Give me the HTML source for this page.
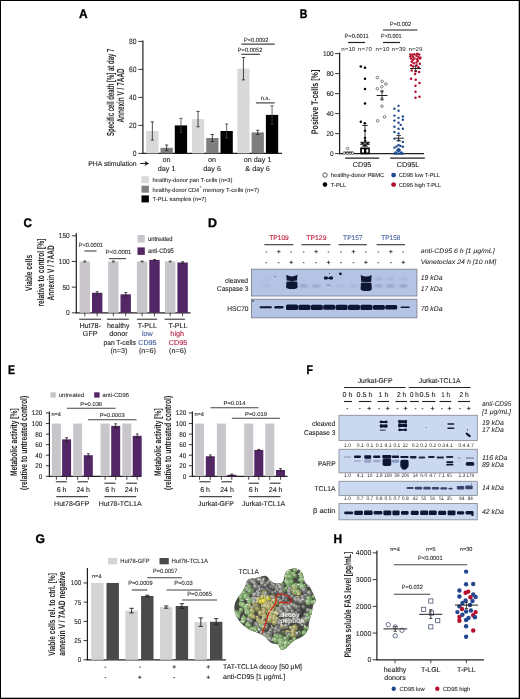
<!DOCTYPE html>
<html><head><meta charset="utf-8"><style>
html,body{margin:0;padding:0;background:#fff;}
svg{display:block;will-change:transform;}
text{font-family:"Liberation Sans",sans-serif;text-rendering:geometricPrecision;}
</style></head><body>
<svg width="520" height="699" viewBox="0 0 520 699">
<defs><filter id="b1" x="-50%" y="-50%" width="200%" height="200%"><feGaussianBlur stdDeviation="0.1"/></filter><filter id="b2" x="-50%" y="-50%" width="200%" height="200%"><feGaussianBlur stdDeviation="0.2"/></filter><filter id="b3" x="-50%" y="-50%" width="200%" height="200%"><feGaussianBlur stdDeviation="0.3"/></filter><filter id="b4" x="-50%" y="-50%" width="200%" height="200%"><feGaussianBlur stdDeviation="0.4"/></filter><filter id="b5" x="-50%" y="-50%" width="200%" height="200%"><feGaussianBlur stdDeviation="0.5"/></filter><filter id="b6" x="-50%" y="-50%" width="200%" height="200%"><feGaussianBlur stdDeviation="0.6"/></filter><filter id="b7" x="-50%" y="-50%" width="200%" height="200%"><feGaussianBlur stdDeviation="0.7"/></filter><filter id="b8" x="-50%" y="-50%" width="200%" height="200%"><feGaussianBlur stdDeviation="0.8"/></filter><filter id="b9" x="-50%" y="-50%" width="200%" height="200%"><feGaussianBlur stdDeviation="0.9"/></filter><filter id="b10" x="-50%" y="-50%" width="200%" height="200%"><feGaussianBlur stdDeviation="1.0"/></filter><filter id="b11" x="-50%" y="-50%" width="200%" height="200%"><feGaussianBlur stdDeviation="1.1"/></filter><filter id="b12" x="-50%" y="-50%" width="200%" height="200%"><feGaussianBlur stdDeviation="1.2"/></filter><filter id="b13" x="-50%" y="-50%" width="200%" height="200%"><feGaussianBlur stdDeviation="1.3"/></filter><filter id="b14" x="-50%" y="-50%" width="200%" height="200%"><feGaussianBlur stdDeviation="1.4"/></filter><filter id="b15" x="-50%" y="-50%" width="200%" height="200%"><feGaussianBlur stdDeviation="1.5"/></filter><filter id="b16" x="-50%" y="-50%" width="200%" height="200%"><feGaussianBlur stdDeviation="1.6"/></filter><filter id="b17" x="-50%" y="-50%" width="200%" height="200%"><feGaussianBlur stdDeviation="1.7"/></filter><filter id="b18" x="-50%" y="-50%" width="200%" height="200%"><feGaussianBlur stdDeviation="1.8"/></filter><filter id="b19" x="-50%" y="-50%" width="200%" height="200%"><feGaussianBlur stdDeviation="1.9"/></filter><filter id="b20" x="-50%" y="-50%" width="200%" height="200%"><feGaussianBlur stdDeviation="2.0"/></filter></defs>
<rect width="520" height="699" fill="#fff"/>
<rect x="0.00" y="0.00" width="520.00" height="1.00" fill="#000"/>
<rect x="0.00" y="0.00" width="1.00" height="699.00" fill="#000"/>
<rect x="518.70" y="0.00" width="1.30" height="699.00" fill="#000"/>
<rect x="0.00" y="697.70" width="520.00" height="1.30" fill="#000"/>
<text x="79.00" y="17.70" font-size="12.4" fill="#000" stroke="#000" stroke-width="0.35" font-weight="bold" textLength="8.60" lengthAdjust="spacingAndGlyphs">A</text>
<line x1="142.90" y1="40.50" x2="142.90" y2="153.90" stroke="#231f20" stroke-width="1.2"/>
<line x1="142.30" y1="153.40" x2="282.00" y2="153.40" stroke="#231f20" stroke-width="1.3"/>
<line x1="138.40" y1="153.40" x2="142.90" y2="153.40" stroke="#231f20" stroke-width="0.9"/>
<text x="132.65" y="156.15" font-size="7.7" fill="#231f20" stroke="#231f20" stroke-width="0.1" textLength="3.75" lengthAdjust="spacingAndGlyphs">0</text>
<line x1="138.40" y1="125.40" x2="142.90" y2="125.40" stroke="#231f20" stroke-width="0.9"/>
<text x="128.90" y="128.15" font-size="7.7" fill="#231f20" stroke="#231f20" stroke-width="0.1" textLength="7.50" lengthAdjust="spacingAndGlyphs">20</text>
<line x1="138.40" y1="97.40" x2="142.90" y2="97.40" stroke="#231f20" stroke-width="0.9"/>
<text x="128.90" y="100.15" font-size="7.7" fill="#231f20" stroke="#231f20" stroke-width="0.1" textLength="7.50" lengthAdjust="spacingAndGlyphs">40</text>
<line x1="138.40" y1="69.40" x2="142.90" y2="69.40" stroke="#231f20" stroke-width="0.9"/>
<text x="128.90" y="72.15" font-size="7.7" fill="#231f20" stroke="#231f20" stroke-width="0.1" textLength="7.50" lengthAdjust="spacingAndGlyphs">60</text>
<line x1="138.40" y1="41.40" x2="142.90" y2="41.40" stroke="#231f20" stroke-width="0.9"/>
<text x="128.90" y="44.15" font-size="7.7" fill="#231f20" stroke="#231f20" stroke-width="0.1" textLength="7.50" lengthAdjust="spacingAndGlyphs">80</text>
<text transform="translate(114.10,136.00) rotate(-90)" x="0" y="0" font-size="10.2" fill="#231f20" stroke="#231f20" stroke-width="0.0" font-weight="bold" textLength="87.30" lengthAdjust="spacingAndGlyphs">Specific cell death [%] at day 7</text>
<text transform="translate(123.90,122.60) rotate(-90)" x="0" y="0" font-size="10.2" fill="#231f20" stroke="#231f20" stroke-width="0.0" font-weight="bold" textLength="54.30" lengthAdjust="spacingAndGlyphs">Annexin V / 7AAD</text>
<rect x="146.20" y="131.00" width="12.30" height="22.40" fill="#d9d9d9"/>
<line x1="152.35" y1="121.90" x2="152.35" y2="140.10" stroke="#231f20" stroke-width="0.8"/>
<line x1="150.75" y1="121.90" x2="153.95" y2="121.90" stroke="#231f20" stroke-width="0.8"/>
<line x1="150.75" y1="140.10" x2="153.95" y2="140.10" stroke="#231f20" stroke-width="0.8"/>
<rect x="160.50" y="147.80" width="12.30" height="5.60" fill="#7f7f7f"/>
<line x1="166.65" y1="145.00" x2="166.65" y2="150.60" stroke="#231f20" stroke-width="0.8"/>
<line x1="165.05" y1="145.00" x2="168.25" y2="145.00" stroke="#231f20" stroke-width="0.8"/>
<line x1="165.05" y1="150.60" x2="168.25" y2="150.60" stroke="#231f20" stroke-width="0.8"/>
<rect x="174.80" y="125.40" width="12.30" height="28.00" fill="#000000"/>
<line x1="180.95" y1="118.40" x2="180.95" y2="132.40" stroke="#444" stroke-width="0.8"/>
<line x1="179.35" y1="118.40" x2="182.55" y2="118.40" stroke="#444" stroke-width="0.8"/>
<line x1="179.35" y1="132.40" x2="182.55" y2="132.40" stroke="#444" stroke-width="0.8"/>
<rect x="191.90" y="119.10" width="12.30" height="34.30" fill="#d9d9d9"/>
<line x1="198.05" y1="111.40" x2="198.05" y2="126.80" stroke="#231f20" stroke-width="0.8"/>
<line x1="196.45" y1="111.40" x2="199.65" y2="111.40" stroke="#231f20" stroke-width="0.8"/>
<line x1="196.45" y1="126.80" x2="199.65" y2="126.80" stroke="#231f20" stroke-width="0.8"/>
<rect x="206.20" y="138.00" width="12.30" height="15.40" fill="#7f7f7f"/>
<line x1="212.35" y1="134.50" x2="212.35" y2="141.50" stroke="#231f20" stroke-width="0.8"/>
<line x1="210.75" y1="134.50" x2="213.95" y2="134.50" stroke="#231f20" stroke-width="0.8"/>
<line x1="210.75" y1="141.50" x2="213.95" y2="141.50" stroke="#231f20" stroke-width="0.8"/>
<rect x="220.50" y="131.00" width="12.30" height="22.40" fill="#000000"/>
<line x1="226.65" y1="124.00" x2="226.65" y2="138.00" stroke="#444" stroke-width="0.8"/>
<line x1="225.05" y1="124.00" x2="228.25" y2="124.00" stroke="#444" stroke-width="0.8"/>
<line x1="225.05" y1="138.00" x2="228.25" y2="138.00" stroke="#444" stroke-width="0.8"/>
<rect x="237.30" y="68.70" width="12.30" height="84.70" fill="#d9d9d9"/>
<line x1="243.45" y1="57.50" x2="243.45" y2="79.90" stroke="#231f20" stroke-width="0.8"/>
<line x1="241.85" y1="57.50" x2="245.05" y2="57.50" stroke="#231f20" stroke-width="0.8"/>
<line x1="241.85" y1="79.90" x2="245.05" y2="79.90" stroke="#231f20" stroke-width="0.8"/>
<rect x="251.60" y="132.40" width="12.30" height="21.00" fill="#7f7f7f"/>
<line x1="257.75" y1="130.30" x2="257.75" y2="134.50" stroke="#231f20" stroke-width="0.8"/>
<line x1="256.15" y1="130.30" x2="259.35" y2="130.30" stroke="#231f20" stroke-width="0.8"/>
<line x1="256.15" y1="134.50" x2="259.35" y2="134.50" stroke="#231f20" stroke-width="0.8"/>
<rect x="265.90" y="114.90" width="12.30" height="38.50" fill="#000000"/>
<line x1="272.05" y1="105.80" x2="272.05" y2="124.00" stroke="#444" stroke-width="0.8"/>
<line x1="270.45" y1="105.80" x2="273.65" y2="105.80" stroke="#444" stroke-width="0.8"/>
<line x1="270.45" y1="124.00" x2="273.65" y2="124.00" stroke="#444" stroke-width="0.8"/>
<line x1="241.40" y1="44.20" x2="274.70" y2="44.20" stroke="#444" stroke-width="1.2"/>
<text x="243.90" y="41.80" font-size="6" fill="#231f20" stroke="#231f20" stroke-width="0.08" textLength="24.50" lengthAdjust="spacingAndGlyphs">P=0.0092</text>
<line x1="241.40" y1="54.30" x2="259.90" y2="54.30" stroke="#444" stroke-width="1.2"/>
<text x="237.80" y="51.60" font-size="6" fill="#231f20" stroke="#231f20" stroke-width="0.08" textLength="24.50" lengthAdjust="spacingAndGlyphs">P=0.0052</text>
<line x1="255.90" y1="102.90" x2="274.60" y2="102.90" stroke="#444" stroke-width="1.2"/>
<text x="260.80" y="100.00" font-size="6" fill="#231f20" stroke="#231f20" stroke-width="0.08" textLength="9.20" lengthAdjust="spacingAndGlyphs">n.s.</text>
<text x="88.30" y="165.80" font-size="7" fill="#231f20" stroke="#231f20" stroke-width="0.12" textLength="48.40" lengthAdjust="spacingAndGlyphs">PHA stimulation</text>
<line x1="140.20" y1="163.50" x2="146.50" y2="163.50" stroke="#231f20" stroke-width="1.0"/>
<path d="M149.2 163.5 L144.5 160.9 L145.6 163.5 L144.5 166.1 Z" fill="#231f20"/>
<text x="162.60" y="161.60" font-size="7.2" fill="#231f20" stroke="#231f20" stroke-width="0.12" textLength="8.01" lengthAdjust="spacingAndGlyphs">on</text>
<text x="157.79" y="170.80" font-size="7.2" fill="#231f20" stroke="#231f20" stroke-width="0.12" textLength="17.61" lengthAdjust="spacingAndGlyphs">day 1</text>
<text x="208.10" y="161.60" font-size="7.2" fill="#231f20" stroke="#231f20" stroke-width="0.12" textLength="8.01" lengthAdjust="spacingAndGlyphs">on</text>
<text x="203.29" y="170.80" font-size="7.2" fill="#231f20" stroke="#231f20" stroke-width="0.12" textLength="17.61" lengthAdjust="spacingAndGlyphs">day 6</text>
<text x="243.79" y="161.60" font-size="7.2" fill="#231f20" stroke="#231f20" stroke-width="0.12" textLength="27.62" lengthAdjust="spacingAndGlyphs">on day 1</text>
<text x="245.39" y="170.80" font-size="7.2" fill="#231f20" stroke="#231f20" stroke-width="0.12" textLength="24.41" lengthAdjust="spacingAndGlyphs">&amp; day 6</text>
<rect x="141.50" y="176.20" width="7.40" height="7.00" fill="#d9d9d9"/>
<rect x="141.50" y="185.70" width="7.40" height="7.00" fill="#7f7f7f"/>
<rect x="141.50" y="195.40" width="7.40" height="7.00" fill="#000"/>
<text x="152.60" y="182.20" font-size="5.8" fill="#231f20" stroke="#231f20" stroke-width="0.08" textLength="79.80" lengthAdjust="spacingAndGlyphs">healthy-donor pan T-cells (n=3)</text>
<text x="152.60" y="191.60" font-size="5.8" fill="#231f20" stroke="#231f20" stroke-width="0.08" textLength="46.60" lengthAdjust="spacingAndGlyphs">healthy-donor CD4</text>
<text x="199.60" y="188.00" font-size="3.5" fill="#231f20" stroke="#231f20" stroke-width="0.08">+</text>
<text x="203.00" y="191.60" font-size="5.8" fill="#231f20" stroke="#231f20" stroke-width="0.08" textLength="56.00" lengthAdjust="spacingAndGlyphs">memory T-cells (n=7)</text>
<text x="152.60" y="201.00" font-size="5.8" fill="#231f20" stroke="#231f20" stroke-width="0.08" textLength="53.90" lengthAdjust="spacingAndGlyphs">T-PLL samples (n=7)</text>
<text x="299.80" y="17.70" font-size="12.4" fill="#000" stroke="#000" stroke-width="0.35" font-weight="bold" textLength="7.60" lengthAdjust="spacingAndGlyphs">B</text>
<line x1="339.60" y1="52.50" x2="339.60" y2="154.10" stroke="#231f20" stroke-width="1.3"/>
<line x1="339.00" y1="153.60" x2="424.00" y2="153.60" stroke="#231f20" stroke-width="1.3"/>
<line x1="335.10" y1="153.60" x2="339.60" y2="153.60" stroke="#231f20" stroke-width="0.9"/>
<text x="330.10" y="156.05" font-size="6.9" fill="#231f20" stroke="#231f20" stroke-width="0.1" textLength="3.60" lengthAdjust="spacingAndGlyphs">0</text>
<line x1="335.10" y1="133.60" x2="339.60" y2="133.60" stroke="#231f20" stroke-width="0.9"/>
<text x="326.50" y="136.05" font-size="6.9" fill="#231f20" stroke="#231f20" stroke-width="0.1" textLength="7.20" lengthAdjust="spacingAndGlyphs">20</text>
<line x1="335.10" y1="113.60" x2="339.60" y2="113.60" stroke="#231f20" stroke-width="0.9"/>
<text x="326.50" y="116.05" font-size="6.9" fill="#231f20" stroke="#231f20" stroke-width="0.1" textLength="7.20" lengthAdjust="spacingAndGlyphs">40</text>
<line x1="335.10" y1="93.60" x2="339.60" y2="93.60" stroke="#231f20" stroke-width="0.9"/>
<text x="326.50" y="96.05" font-size="6.9" fill="#231f20" stroke="#231f20" stroke-width="0.1" textLength="7.20" lengthAdjust="spacingAndGlyphs">60</text>
<line x1="335.10" y1="73.60" x2="339.60" y2="73.60" stroke="#231f20" stroke-width="0.9"/>
<text x="326.50" y="76.05" font-size="6.9" fill="#231f20" stroke="#231f20" stroke-width="0.1" textLength="7.20" lengthAdjust="spacingAndGlyphs">80</text>
<line x1="335.10" y1="53.60" x2="339.60" y2="53.60" stroke="#231f20" stroke-width="0.9"/>
<text x="322.90" y="56.05" font-size="6.9" fill="#231f20" stroke="#231f20" stroke-width="0.1" textLength="10.80" lengthAdjust="spacingAndGlyphs">100</text>
<text transform="translate(317.90,134.20) rotate(-90)" x="0" y="0" font-size="9.6" fill="#231f20" stroke="#231f20" stroke-width="0.0" font-weight="bold" textLength="64.50" lengthAdjust="spacingAndGlyphs">Positive T-cells [%]</text>
<line x1="345.20" y1="158.10" x2="379.20" y2="158.10" stroke="#231f20" stroke-width="1.1"/>
<line x1="390.20" y1="158.10" x2="424.80" y2="158.10" stroke="#231f20" stroke-width="1.1"/>
<text x="352.80" y="166.80" font-size="7.2" fill="#231f20" stroke="#231f20" stroke-width="0.12" textLength="18.41" lengthAdjust="spacingAndGlyphs">CD95</text>
<text x="396.79" y="166.80" font-size="7.2" fill="#231f20" stroke="#231f20" stroke-width="0.12" textLength="22.41" lengthAdjust="spacingAndGlyphs">CD95L</text>
<text x="341.30" y="50.50" font-size="5.6" fill="#231f20" textLength="14.00" lengthAdjust="spacingAndGlyphs">n=10</text>
<text x="358.00" y="50.50" font-size="5.6" fill="#231f20" textLength="14.00" lengthAdjust="spacingAndGlyphs">n=70</text>
<text x="375.50" y="50.50" font-size="5.6" fill="#231f20" textLength="14.00" lengthAdjust="spacingAndGlyphs">n=10</text>
<text x="391.80" y="50.50" font-size="5.6" fill="#231f20" textLength="14.00" lengthAdjust="spacingAndGlyphs">n=39</text>
<text x="408.50" y="50.50" font-size="5.6" fill="#231f20" textLength="14.00" lengthAdjust="spacingAndGlyphs">n=29</text>
<line x1="348.00" y1="42.50" x2="365.00" y2="42.50" stroke="#231f20" stroke-width="1.2"/>
<text x="344.50" y="37.50" font-size="6" fill="#231f20" stroke="#231f20" stroke-width="0.08" textLength="24.20" lengthAdjust="spacingAndGlyphs">P=0.0011</text>
<line x1="383.00" y1="42.50" x2="400.00" y2="42.50" stroke="#231f20" stroke-width="1.2"/>
<text x="381.00" y="37.50" font-size="6" fill="#231f20" stroke="#231f20" stroke-width="0.08" textLength="20.70" lengthAdjust="spacingAndGlyphs">P&lt;0.001</text>
<line x1="383.00" y1="30.00" x2="417.50" y2="30.00" stroke="#231f20" stroke-width="1.2"/>
<text x="390.00" y="25.50" font-size="6" fill="#231f20" stroke="#231f20" stroke-width="0.08" textLength="21.00" lengthAdjust="spacingAndGlyphs">P=0.002</text>
<circle cx="344.20" cy="153.00" r="1.35" fill="#fff" stroke="#333" stroke-width="0.6"/>
<circle cx="347.30" cy="153.00" r="1.35" fill="#fff" stroke="#333" stroke-width="0.6"/>
<circle cx="350.20" cy="153.00" r="1.35" fill="#fff" stroke="#333" stroke-width="0.6"/>
<circle cx="352.50" cy="153.00" r="1.35" fill="#fff" stroke="#333" stroke-width="0.6"/>
<circle cx="347.70" cy="148.50" r="1.35" fill="#fff" stroke="#333" stroke-width="0.6"/>
<line x1="344.50" y1="152.20" x2="352.50" y2="152.20" stroke="#231f20" stroke-width="0.9"/>
<circle cx="360.80" cy="66.60" r="1.25" fill="#000"/>
<circle cx="365.00" cy="67.70" r="1.25" fill="#000"/>
<circle cx="365.00" cy="78.80" r="1.25" fill="#000"/>
<circle cx="365.00" cy="88.90" r="1.25" fill="#000"/>
<circle cx="365.00" cy="103.50" r="1.25" fill="#000"/>
<circle cx="360.80" cy="121.80" r="1.25" fill="#000"/>
<circle cx="364.80" cy="123.30" r="1.25" fill="#000"/>
<circle cx="365.00" cy="130.80" r="1.25" fill="#000"/>
<circle cx="365.00" cy="138.00" r="1.25" fill="#000"/>
<circle cx="365.20" cy="140.80" r="1.25" fill="#000"/>
<circle cx="362.50" cy="143.50" r="1.25" fill="#000"/>
<circle cx="367.50" cy="143.50" r="1.25" fill="#000"/>
<path d="M 360.2 147.6 L 369.8 147.6 L 369.8 154.2 L 360.2 154.2 Z M 361.9 149.3 L 361.9 152.6 L 364.0 152.6 L 364.0 149.3 Z M 366.3 149.3 L 366.3 152.6 L 368.3 152.6 L 368.3 149.3 Z" fill="#000" fill-rule="evenodd"/>
<path d="M 361.5 146.5 L 365 144.2 L 368.5 146.5 Z" fill="#000"/>
<line x1="360.20" y1="142.30" x2="370.00" y2="142.30" stroke="#231f20" stroke-width="1.1"/>
<line x1="360.20" y1="144.30" x2="370.00" y2="144.30" stroke="#231f20" stroke-width="0.9"/>
<line x1="365.00" y1="125.40" x2="365.00" y2="147.00" stroke="#231f20" stroke-width="0.9"/>
<line x1="362.30" y1="125.40" x2="367.70" y2="125.40" stroke="#231f20" stroke-width="1.0"/>
<circle cx="377.40" cy="77.60" r="1.30" fill="#fff" stroke="#333" stroke-width="0.6"/>
<circle cx="382.10" cy="81.30" r="1.30" fill="#fff" stroke="#333" stroke-width="0.6"/>
<circle cx="385.90" cy="84.00" r="1.30" fill="#fff" stroke="#333" stroke-width="0.6"/>
<circle cx="381.80" cy="86.70" r="1.30" fill="#fff" stroke="#333" stroke-width="0.6"/>
<circle cx="377.40" cy="88.70" r="1.30" fill="#fff" stroke="#333" stroke-width="0.6"/>
<circle cx="382.00" cy="91.50" r="1.30" fill="#fff" stroke="#333" stroke-width="0.6"/>
<circle cx="382.00" cy="98.80" r="1.30" fill="#fff" stroke="#333" stroke-width="0.6"/>
<circle cx="382.00" cy="106.20" r="1.30" fill="#fff" stroke="#333" stroke-width="0.6"/>
<circle cx="384.50" cy="116.90" r="1.30" fill="#fff" stroke="#333" stroke-width="0.6"/>
<circle cx="377.70" cy="120.80" r="1.30" fill="#fff" stroke="#333" stroke-width="0.6"/>
<line x1="376.50" y1="95.50" x2="387.50" y2="95.50" stroke="#231f20" stroke-width="1.0"/>
<line x1="382.00" y1="91.00" x2="382.00" y2="99.80" stroke="#231f20" stroke-width="0.8"/>
<line x1="380.50" y1="91.00" x2="383.50" y2="91.00" stroke="#231f20" stroke-width="0.8"/>
<line x1="380.50" y1="99.80" x2="383.50" y2="99.80" stroke="#231f20" stroke-width="0.8"/>
<circle cx="398.56" cy="105.84" r="1.20" fill="#1e4a90"/>
<circle cx="394.44" cy="108.76" r="1.20" fill="#1e4a90"/>
<circle cx="398.56" cy="110.73" r="1.20" fill="#1e4a90"/>
<circle cx="394.44" cy="115.62" r="1.20" fill="#1e4a90"/>
<circle cx="398.56" cy="117.85" r="1.20" fill="#1e4a90"/>
<circle cx="402.85" cy="116.48" r="1.20" fill="#1e4a90"/>
<circle cx="402.85" cy="119.74" r="1.20" fill="#1e4a90"/>
<circle cx="394.44" cy="120.60" r="1.20" fill="#1e4a90"/>
<circle cx="398.56" cy="122.75" r="1.20" fill="#1e4a90"/>
<circle cx="400.71" cy="124.89" r="1.20" fill="#1e4a90"/>
<circle cx="394.44" cy="126.78" r="1.20" fill="#1e4a90"/>
<circle cx="398.56" cy="128.76" r="1.20" fill="#1e4a90"/>
<circle cx="402.85" cy="128.76" r="1.20" fill="#1e4a90"/>
<circle cx="394.44" cy="131.93" r="1.20" fill="#1e4a90"/>
<circle cx="398.56" cy="133.48" r="1.20" fill="#1e4a90"/>
<circle cx="394.44" cy="138.63" r="1.20" fill="#1e4a90"/>
<circle cx="398.56" cy="140.34" r="1.20" fill="#1e4a90"/>
<circle cx="402.85" cy="141.89" r="1.20" fill="#1e4a90"/>
<circle cx="398.56" cy="145.06" r="1.20" fill="#1e4a90"/>
<circle cx="394.44" cy="147.64" r="1.20" fill="#1e4a90"/>
<circle cx="402.85" cy="146.78" r="1.20" fill="#1e4a90"/>
<circle cx="396.59" cy="146.35" r="1.20" fill="#1e4a90"/>
<circle cx="400.45" cy="145.92" r="1.20" fill="#1e4a90"/>
<circle cx="398.56" cy="148.93" r="1.20" fill="#1e4a90"/>
<circle cx="398.56" cy="151.50" r="1.20" fill="#1e4a90"/>
<circle cx="394.44" cy="153.65" r="1.20" fill="#1e4a90"/>
<circle cx="396.59" cy="153.65" r="1.20" fill="#1e4a90"/>
<circle cx="398.56" cy="153.65" r="1.20" fill="#1e4a90"/>
<circle cx="400.71" cy="153.65" r="1.20" fill="#1e4a90"/>
<circle cx="402.85" cy="153.65" r="1.20" fill="#1e4a90"/>
<circle cx="395.73" cy="152.36" r="1.20" fill="#1e4a90"/>
<circle cx="401.31" cy="152.36" r="1.20" fill="#1e4a90"/>
<circle cx="397.45" cy="150.21" r="1.20" fill="#1e4a90"/>
<circle cx="399.59" cy="150.21" r="1.20" fill="#1e4a90"/>
<line x1="395.30" y1="138.20" x2="403.90" y2="138.20" stroke="#231f20" stroke-width="1.0"/>
<line x1="396.50" y1="135.60" x2="401.00" y2="135.60" stroke="#231f20" stroke-width="0.9"/>
<line x1="396.50" y1="140.80" x2="401.00" y2="140.80" stroke="#231f20" stroke-width="0.9"/>
<line x1="398.70" y1="135.60" x2="398.70" y2="140.80" stroke="#231f20" stroke-width="0.8"/>
<circle cx="410.38" cy="54.42" r="1.25" fill="#b0102c"/>
<circle cx="412.40" cy="54.69" r="1.25" fill="#b0102c"/>
<circle cx="414.41" cy="54.15" r="1.25" fill="#b0102c"/>
<circle cx="417.11" cy="53.75" r="1.25" fill="#b0102c"/>
<circle cx="419.13" cy="54.42" r="1.25" fill="#b0102c"/>
<circle cx="410.38" cy="56.44" r="1.25" fill="#b0102c"/>
<circle cx="413.07" cy="56.84" r="1.25" fill="#b0102c"/>
<circle cx="416.43" cy="55.77" r="1.25" fill="#b0102c"/>
<circle cx="418.45" cy="57.11" r="1.25" fill="#b0102c"/>
<circle cx="420.47" cy="57.79" r="1.25" fill="#b0102c"/>
<circle cx="411.05" cy="58.46" r="1.25" fill="#b0102c"/>
<circle cx="414.41" cy="58.46" r="1.25" fill="#b0102c"/>
<circle cx="417.11" cy="59.13" r="1.25" fill="#b0102c"/>
<circle cx="419.80" cy="58.46" r="1.25" fill="#b0102c"/>
<circle cx="411.72" cy="61.82" r="1.25" fill="#b0102c"/>
<circle cx="413.74" cy="63.17" r="1.25" fill="#b0102c"/>
<circle cx="416.43" cy="62.50" r="1.25" fill="#b0102c"/>
<circle cx="419.80" cy="63.84" r="1.25" fill="#b0102c"/>
<circle cx="411.05" cy="65.19" r="1.25" fill="#b0102c"/>
<circle cx="413.07" cy="66.53" r="1.25" fill="#b0102c"/>
<circle cx="416.43" cy="65.19" r="1.25" fill="#b0102c"/>
<circle cx="418.45" cy="67.21" r="1.25" fill="#b0102c"/>
<circle cx="411.72" cy="70.57" r="1.25" fill="#b0102c"/>
<circle cx="415.76" cy="71.24" r="1.25" fill="#b0102c"/>
<circle cx="419.13" cy="71.92" r="1.25" fill="#b0102c"/>
<circle cx="415.09" cy="73.94" r="1.25" fill="#b0102c"/>
<circle cx="411.05" cy="78.65" r="1.25" fill="#b0102c"/>
<circle cx="415.76" cy="79.72" r="1.25" fill="#b0102c"/>
<circle cx="419.53" cy="82.95" r="1.25" fill="#b0102c"/>
<circle cx="415.49" cy="85.65" r="1.25" fill="#b0102c"/>
<circle cx="415.49" cy="91.84" r="1.25" fill="#b0102c"/>
<circle cx="415.49" cy="97.76" r="1.25" fill="#b0102c"/>
<circle cx="419.53" cy="96.82" r="1.25" fill="#b0102c"/>
<circle cx="417.78" cy="60.88" r="1.25" fill="#b0102c"/>
<circle cx="412.80" cy="60.07" r="1.25" fill="#b0102c"/>
<line x1="410.00" y1="68.50" x2="421.00" y2="68.50" stroke="#231f20" stroke-width="1.0"/>
<line x1="415.60" y1="66.20" x2="415.60" y2="71.00" stroke="#231f20" stroke-width="0.8"/>
<line x1="414.10" y1="66.20" x2="417.10" y2="66.20" stroke="#231f20" stroke-width="0.8"/>
<line x1="414.10" y1="71.00" x2="417.10" y2="71.00" stroke="#231f20" stroke-width="0.8"/>
<circle cx="325.00" cy="175.10" r="2.20" fill="#fff" stroke="#333" stroke-width="0.8"/>
<text x="330.80" y="177.20" font-size="5.8" fill="#231f20" stroke="#231f20" stroke-width="0.08" textLength="53.30" lengthAdjust="spacingAndGlyphs">healthy-donor PBMC</text>
<circle cx="325.00" cy="184.60" r="2.30" fill="#000"/>
<text x="330.80" y="186.70" font-size="5.8" fill="#231f20" stroke="#231f20" stroke-width="0.08">T-PLL</text>
<circle cx="393.60" cy="175.10" r="2.40" fill="#1e4a90"/>
<text x="398.80" y="177.20" font-size="5.8" fill="#231f20" stroke="#231f20" stroke-width="0.08" textLength="41.00" lengthAdjust="spacingAndGlyphs">CD95 low T-PLL</text>
<circle cx="393.60" cy="184.60" r="2.40" fill="#b0102c"/>
<text x="398.80" y="186.70" font-size="5.8" fill="#231f20" stroke="#231f20" stroke-width="0.08" textLength="42.40" lengthAdjust="spacingAndGlyphs">CD95 high T-PLL</text>
<text x="23.60" y="226.50" font-size="12.4" fill="#000" stroke="#000" stroke-width="0.35" font-weight="bold" textLength="8.40" lengthAdjust="spacingAndGlyphs">C</text>
<line x1="76.30" y1="233.00" x2="76.30" y2="313.30" stroke="#231f20" stroke-width="1.2"/>
<line x1="75.70" y1="312.80" x2="190.40" y2="312.80" stroke="#231f20" stroke-width="1.3"/>
<line x1="71.80" y1="312.80" x2="76.30" y2="312.80" stroke="#231f20" stroke-width="0.9"/>
<text x="66.05" y="315.30" font-size="7.2" fill="#231f20" stroke="#231f20" stroke-width="0.1" textLength="3.65" lengthAdjust="spacingAndGlyphs">0</text>
<line x1="71.80" y1="287.13" x2="76.30" y2="287.13" stroke="#231f20" stroke-width="0.9"/>
<text x="62.40" y="289.63" font-size="7.2" fill="#231f20" stroke="#231f20" stroke-width="0.1" textLength="7.30" lengthAdjust="spacingAndGlyphs">50</text>
<line x1="71.80" y1="261.47" x2="76.30" y2="261.47" stroke="#231f20" stroke-width="0.9"/>
<text x="58.75" y="263.97" font-size="7.2" fill="#231f20" stroke="#231f20" stroke-width="0.1" textLength="10.95" lengthAdjust="spacingAndGlyphs">100</text>
<line x1="71.80" y1="235.81" x2="76.30" y2="235.81" stroke="#231f20" stroke-width="0.9"/>
<text x="58.75" y="238.31" font-size="7.2" fill="#231f20" stroke="#231f20" stroke-width="0.1" textLength="10.95" lengthAdjust="spacingAndGlyphs">150</text>
<text transform="translate(31.90,290.90) rotate(-90)" x="0" y="0" font-size="9.6" fill="#231f20" stroke="#231f20" stroke-width="0.0" font-weight="bold" textLength="36.00" lengthAdjust="spacingAndGlyphs">Viable cells</text>
<text transform="translate(43.70,306.50) rotate(-90)" x="0" y="0" font-size="9.6" fill="#231f20" stroke="#231f20" stroke-width="0.0" font-weight="bold" textLength="67.90" lengthAdjust="spacingAndGlyphs">relative to control [%]</text>
<text transform="translate(53.70,300.40) rotate(-90)" x="0" y="0" font-size="9.6" fill="#231f20" stroke="#231f20" stroke-width="0.0" font-weight="bold" textLength="55.00" lengthAdjust="spacingAndGlyphs">Annexin V / 7AAD</text>
<rect x="79.60" y="261.47" width="10.40" height="51.33" fill="#c8c6ca"/>
<rect x="92.00" y="292.78" width="10.40" height="20.02" fill="#532765"/>
<line x1="84.80" y1="260.96" x2="84.80" y2="261.98" stroke="#231f20" stroke-width="0.7"/>
<line x1="83.40" y1="260.96" x2="86.20" y2="260.96" stroke="#231f20" stroke-width="0.7"/>
<line x1="83.40" y1="261.98" x2="86.20" y2="261.98" stroke="#231f20" stroke-width="0.7"/>
<line x1="97.20" y1="291.65" x2="97.20" y2="293.91" stroke="#231f20" stroke-width="0.8"/>
<line x1="95.80" y1="291.65" x2="98.60" y2="291.65" stroke="#231f20" stroke-width="0.8"/>
<line x1="95.80" y1="293.91" x2="98.60" y2="293.91" stroke="#231f20" stroke-width="0.8"/>
<line x1="84.80" y1="312.80" x2="84.80" y2="316.30" stroke="#231f20" stroke-width="0.8"/>
<line x1="97.20" y1="312.80" x2="97.20" y2="316.30" stroke="#231f20" stroke-width="0.8"/>
<rect x="108.10" y="261.47" width="10.40" height="51.33" fill="#c8c6ca"/>
<rect x="120.50" y="294.32" width="10.40" height="18.48" fill="#532765"/>
<line x1="113.30" y1="260.96" x2="113.30" y2="261.98" stroke="#231f20" stroke-width="0.7"/>
<line x1="111.90" y1="260.96" x2="114.70" y2="260.96" stroke="#231f20" stroke-width="0.7"/>
<line x1="111.90" y1="261.98" x2="114.70" y2="261.98" stroke="#231f20" stroke-width="0.7"/>
<line x1="125.70" y1="292.52" x2="125.70" y2="296.12" stroke="#231f20" stroke-width="0.8"/>
<line x1="124.30" y1="292.52" x2="127.10" y2="292.52" stroke="#231f20" stroke-width="0.8"/>
<line x1="124.30" y1="296.12" x2="127.10" y2="296.12" stroke="#231f20" stroke-width="0.8"/>
<line x1="113.30" y1="312.80" x2="113.30" y2="316.30" stroke="#231f20" stroke-width="0.8"/>
<line x1="125.70" y1="312.80" x2="125.70" y2="316.30" stroke="#231f20" stroke-width="0.8"/>
<rect x="136.90" y="261.47" width="10.40" height="51.33" fill="#c8c6ca"/>
<rect x="149.30" y="259.93" width="10.40" height="52.87" fill="#532765"/>
<line x1="142.10" y1="261.06" x2="142.10" y2="261.88" stroke="#231f20" stroke-width="0.7"/>
<line x1="140.70" y1="261.06" x2="143.50" y2="261.06" stroke="#231f20" stroke-width="0.7"/>
<line x1="140.70" y1="261.88" x2="143.50" y2="261.88" stroke="#231f20" stroke-width="0.7"/>
<line x1="154.50" y1="259.52" x2="154.50" y2="260.34" stroke="#231f20" stroke-width="0.8"/>
<line x1="153.10" y1="259.52" x2="155.90" y2="259.52" stroke="#231f20" stroke-width="0.8"/>
<line x1="153.10" y1="260.34" x2="155.90" y2="260.34" stroke="#231f20" stroke-width="0.8"/>
<line x1="142.10" y1="312.80" x2="142.10" y2="316.30" stroke="#231f20" stroke-width="0.8"/>
<line x1="154.50" y1="312.80" x2="154.50" y2="316.30" stroke="#231f20" stroke-width="0.8"/>
<rect x="165.00" y="261.47" width="10.40" height="51.33" fill="#c8c6ca"/>
<rect x="177.40" y="262.50" width="10.40" height="50.30" fill="#532765"/>
<line x1="170.20" y1="261.06" x2="170.20" y2="261.88" stroke="#231f20" stroke-width="0.7"/>
<line x1="168.80" y1="261.06" x2="171.60" y2="261.06" stroke="#231f20" stroke-width="0.7"/>
<line x1="168.80" y1="261.88" x2="171.60" y2="261.88" stroke="#231f20" stroke-width="0.7"/>
<line x1="182.60" y1="261.73" x2="182.60" y2="263.27" stroke="#231f20" stroke-width="0.8"/>
<line x1="181.20" y1="261.73" x2="184.00" y2="261.73" stroke="#231f20" stroke-width="0.8"/>
<line x1="181.20" y1="263.27" x2="184.00" y2="263.27" stroke="#231f20" stroke-width="0.8"/>
<line x1="170.20" y1="312.80" x2="170.20" y2="316.30" stroke="#231f20" stroke-width="0.8"/>
<line x1="182.60" y1="312.80" x2="182.60" y2="316.30" stroke="#231f20" stroke-width="0.8"/>
<line x1="79.20" y1="319.20" x2="101.20" y2="319.20" stroke="#231f20" stroke-width="1.0"/>
<line x1="106.90" y1="319.20" x2="128.80" y2="319.20" stroke="#231f20" stroke-width="1.0"/>
<line x1="136.90" y1="319.20" x2="157.20" y2="319.20" stroke="#231f20" stroke-width="1.0"/>
<line x1="164.60" y1="319.20" x2="184.90" y2="319.20" stroke="#231f20" stroke-width="1.0"/>
<line x1="84.40" y1="251.00" x2="96.50" y2="251.00" stroke="#555" stroke-width="1.2"/>
<text x="78.70" y="247.00" font-size="6.0" fill="#231f20" stroke="#231f20" stroke-width="0.08" textLength="24.30" lengthAdjust="spacingAndGlyphs">P&lt;0.0001</text>
<line x1="109.00" y1="258.60" x2="126.00" y2="258.60" stroke="#555" stroke-width="1.2"/>
<text x="105.80" y="253.70" font-size="6.0" fill="#231f20" stroke="#231f20" stroke-width="0.08" textLength="25.50" lengthAdjust="spacingAndGlyphs">P&lt;0.0001</text>
<rect x="137.50" y="235.00" width="7.30" height="7.50" fill="#c8c6ca"/>
<rect x="137.50" y="247.40" width="7.30" height="7.50" fill="#532765"/>
<text x="148.00" y="240.60" font-size="6.4" fill="#231f20" stroke="#231f20" stroke-width="0.12" textLength="24.50" lengthAdjust="spacingAndGlyphs">untreated</text>
<text x="148.00" y="253.00" font-size="6.4" fill="#231f20" stroke="#231f20" stroke-width="0.12" textLength="25.80" lengthAdjust="spacingAndGlyphs">anti-CD95</text>
<text x="79.40" y="327.90" font-size="7.2" fill="#231f20" stroke="#231f20" stroke-width="0.12" textLength="21.61" lengthAdjust="spacingAndGlyphs">Hut78-</text>
<text x="82.80" y="336.20" font-size="7.2" fill="#231f20" stroke="#231f20" stroke-width="0.12" textLength="14.80" lengthAdjust="spacingAndGlyphs">GFP</text>
<text x="106.90" y="327.90" font-size="7.2" fill="#231f20" stroke="#231f20" stroke-width="0.12" textLength="22.60" lengthAdjust="spacingAndGlyphs">healthy</text>
<text x="109.19" y="336.20" font-size="7.2" fill="#231f20" stroke="#231f20" stroke-width="0.12" textLength="18.41" lengthAdjust="spacingAndGlyphs">donor</text>
<text x="103.45" y="344.60" font-size="7.2" fill="#231f20" stroke="#231f20" stroke-width="0.12" textLength="32.30" lengthAdjust="spacingAndGlyphs">pan T-cells</text>
<text x="110.50" y="353.00" font-size="7.2" fill="#231f20" stroke="#231f20" stroke-width="0.12" textLength="16.80" lengthAdjust="spacingAndGlyphs">(n=3)</text>
<text x="137.80" y="327.90" font-size="7.2" fill="#231f20" stroke="#231f20" stroke-width="0.12" textLength="19.21" lengthAdjust="spacingAndGlyphs">T-PLL</text>
<text x="142.00" y="336.20" font-size="7.2" fill="#3f5e9c" stroke="#3f5e9c" stroke-width="0.12" textLength="10.80" lengthAdjust="spacingAndGlyphs">low</text>
<text x="138.20" y="344.60" font-size="7.2" fill="#3f5e9c" stroke="#3f5e9c" stroke-width="0.12" textLength="18.41" lengthAdjust="spacingAndGlyphs">CD95</text>
<text x="138.90" y="353.00" font-size="7.2" fill="#231f20" stroke="#231f20" stroke-width="0.12" textLength="17.01" lengthAdjust="spacingAndGlyphs">(n=6)</text>
<text x="168.40" y="327.90" font-size="7.2" fill="#231f20" stroke="#231f20" stroke-width="0.12" textLength="19.21" lengthAdjust="spacingAndGlyphs">T-PLL</text>
<text x="170.39" y="336.20" font-size="7.2" fill="#b81f45" stroke="#b81f45" stroke-width="0.12" textLength="13.61" lengthAdjust="spacingAndGlyphs">high</text>
<text x="168.80" y="344.60" font-size="7.2" fill="#b81f45" stroke="#b81f45" stroke-width="0.12" textLength="18.41" lengthAdjust="spacingAndGlyphs">CD95</text>
<text x="169.10" y="353.00" font-size="7.2" fill="#231f20" stroke="#231f20" stroke-width="0.12" textLength="17.01" lengthAdjust="spacingAndGlyphs">(n=6)</text>
<text x="208.00" y="226.50" font-size="12.4" fill="#000" stroke="#000" stroke-width="0.35" font-weight="bold" textLength="9.00" lengthAdjust="spacingAndGlyphs">D</text>
<text x="269.20" y="239.80" font-size="6.8" fill="#c0243f" stroke="#c0243f" stroke-width="0.12" textLength="19.60" lengthAdjust="spacingAndGlyphs">TP109</text>
<line x1="264.40" y1="244.70" x2="293.30" y2="244.70" stroke="#333" stroke-width="1.1"/>
<text x="306.20" y="239.80" font-size="6.8" fill="#c0243f" stroke="#c0243f" stroke-width="0.12" textLength="20.30" lengthAdjust="spacingAndGlyphs">TP129</text>
<line x1="301.50" y1="244.70" x2="330.40" y2="244.70" stroke="#333" stroke-width="1.1"/>
<text x="343.10" y="239.80" font-size="6.8" fill="#4a669c" stroke="#4a669c" stroke-width="0.12" textLength="19.60" lengthAdjust="spacingAndGlyphs">TP157</text>
<line x1="338.50" y1="244.70" x2="366.90" y2="244.70" stroke="#333" stroke-width="1.1"/>
<text x="381.20" y="239.80" font-size="6.8" fill="#4a669c" stroke="#4a669c" stroke-width="0.12" textLength="19.20" lengthAdjust="spacingAndGlyphs">TP158</text>
<line x1="376.60" y1="244.70" x2="405.00" y2="244.70" stroke="#333" stroke-width="1.1"/>
<line x1="265.50" y1="251.90" x2="267.10" y2="251.90" stroke="#3a3a3a" stroke-width="0.9"/>
<line x1="265.50" y1="262.70" x2="267.10" y2="262.70" stroke="#3a3a3a" stroke-width="0.9"/>
<line x1="276.95" y1="251.60" x2="280.55" y2="251.60" stroke="#3a3a3a" stroke-width="0.85"/>
<line x1="278.75" y1="249.80" x2="278.75" y2="253.40" stroke="#3a3a3a" stroke-width="0.85"/>
<line x1="277.95" y1="262.70" x2="279.55" y2="262.70" stroke="#3a3a3a" stroke-width="0.9"/>
<line x1="290.40" y1="251.90" x2="292.00" y2="251.90" stroke="#3a3a3a" stroke-width="0.9"/>
<line x1="289.40" y1="262.40" x2="293.00" y2="262.40" stroke="#3a3a3a" stroke-width="0.85"/>
<line x1="291.20" y1="260.60" x2="291.20" y2="264.20" stroke="#3a3a3a" stroke-width="0.85"/>
<line x1="302.85" y1="251.90" x2="304.45" y2="251.90" stroke="#3a3a3a" stroke-width="0.9"/>
<line x1="302.85" y1="262.70" x2="304.45" y2="262.70" stroke="#3a3a3a" stroke-width="0.9"/>
<line x1="314.30" y1="251.60" x2="317.90" y2="251.60" stroke="#3a3a3a" stroke-width="0.85"/>
<line x1="316.10" y1="249.80" x2="316.10" y2="253.40" stroke="#3a3a3a" stroke-width="0.85"/>
<line x1="315.30" y1="262.70" x2="316.90" y2="262.70" stroke="#3a3a3a" stroke-width="0.9"/>
<line x1="327.75" y1="251.90" x2="329.35" y2="251.90" stroke="#3a3a3a" stroke-width="0.9"/>
<line x1="326.75" y1="262.40" x2="330.35" y2="262.40" stroke="#3a3a3a" stroke-width="0.85"/>
<line x1="328.55" y1="260.60" x2="328.55" y2="264.20" stroke="#3a3a3a" stroke-width="0.85"/>
<line x1="340.20" y1="251.90" x2="341.80" y2="251.90" stroke="#3a3a3a" stroke-width="0.9"/>
<line x1="340.20" y1="262.70" x2="341.80" y2="262.70" stroke="#3a3a3a" stroke-width="0.9"/>
<line x1="351.65" y1="251.60" x2="355.25" y2="251.60" stroke="#3a3a3a" stroke-width="0.85"/>
<line x1="353.45" y1="249.80" x2="353.45" y2="253.40" stroke="#3a3a3a" stroke-width="0.85"/>
<line x1="352.65" y1="262.70" x2="354.25" y2="262.70" stroke="#3a3a3a" stroke-width="0.9"/>
<line x1="365.10" y1="251.90" x2="366.70" y2="251.90" stroke="#3a3a3a" stroke-width="0.9"/>
<line x1="364.10" y1="262.40" x2="367.70" y2="262.40" stroke="#3a3a3a" stroke-width="0.85"/>
<line x1="365.90" y1="260.60" x2="365.90" y2="264.20" stroke="#3a3a3a" stroke-width="0.85"/>
<line x1="377.55" y1="251.90" x2="379.15" y2="251.90" stroke="#3a3a3a" stroke-width="0.9"/>
<line x1="377.55" y1="262.70" x2="379.15" y2="262.70" stroke="#3a3a3a" stroke-width="0.9"/>
<line x1="389.00" y1="251.60" x2="392.60" y2="251.60" stroke="#3a3a3a" stroke-width="0.85"/>
<line x1="390.80" y1="249.80" x2="390.80" y2="253.40" stroke="#3a3a3a" stroke-width="0.85"/>
<line x1="390.00" y1="262.70" x2="391.60" y2="262.70" stroke="#3a3a3a" stroke-width="0.9"/>
<line x1="402.45" y1="251.90" x2="404.05" y2="251.90" stroke="#3a3a3a" stroke-width="0.9"/>
<line x1="401.45" y1="262.40" x2="405.05" y2="262.40" stroke="#3a3a3a" stroke-width="0.85"/>
<line x1="403.25" y1="260.60" x2="403.25" y2="264.20" stroke="#3a3a3a" stroke-width="0.85"/>
<text x="420.80" y="253.00" font-size="6.4" fill="#231f20" stroke="#231f20" stroke-width="0.05" font-style="italic" textLength="73.80" lengthAdjust="spacingAndGlyphs">anti-CD95 6 h [1 μg/mL]</text>
<text x="420.80" y="263.80" font-size="6.4" fill="#231f20" stroke="#231f20" stroke-width="0.05" font-style="italic" textLength="75.40" lengthAdjust="spacingAndGlyphs">Venetoclax 24  h [10 nM]</text>
<rect x="251.50" y="269.20" width="165.40" height="26.80" fill="#b5c3e5" stroke="#7d8390" stroke-width="0.9"/>
<rect x="251.50" y="299.20" width="165.40" height="18.60" fill="#b5c3e5" stroke="#7d8390" stroke-width="0.9"/>
<path d="M 286.3 274.8 Q 291.9 278.0 297.4 274.8 L 297.0 280.6 Q 291.9 281.4 286.7 280.6 Z M 286.5 281.7 Q 291.9 280.9 297.2 281.7 L 297.6 286.9 Q 297.4 288.9 291.9 288.9 Q 286.3 288.9 286.1 286.9 Z" fill="#0b1233" filter="url(#b5)"/>
<path d="M 360.8 275.0 Q 366.2 278.2 371.6 275.0 L 371.2 281.7 Q 366.2 282.5 361.2 281.7 Z M 361.0 282.8 Q 366.2 282.0 371.4 282.8 L 371.8 289.0 Q 371.6 291.0 366.2 291.0 Q 360.8 291.0 360.6 289.0 Z" fill="#0b1233" filter="url(#b5)"/>
<ellipse cx="325.90" cy="278.00" rx="2.10" ry="1.70" fill="#0b1233" opacity="1" filter="url(#b4)"/>
<ellipse cx="331.10" cy="278.00" rx="2.10" ry="1.70" fill="#0b1233" opacity="1" filter="url(#b4)"/>
<ellipse cx="328.50" cy="278.20" rx="1.50" ry="0.80" fill="#0b1233" opacity="1" filter="url(#b4)"/>
<ellipse cx="328.50" cy="285.20" rx="3.00" ry="0.80" fill="#2a3870" opacity="0.3" filter="url(#b6)"/>
<ellipse cx="303.90" cy="286.00" rx="4.25" ry="1.20" fill="#2a3870" opacity="0.3" filter="url(#b8)"/>
<ellipse cx="316.10" cy="286.00" rx="4.25" ry="1.20" fill="#2a3870" opacity="0.28" filter="url(#b8)"/>
<ellipse cx="340.80" cy="286.00" rx="4.25" ry="1.20" fill="#2a3870" opacity="0.08" filter="url(#b8)"/>
<ellipse cx="353.50" cy="286.00" rx="4.25" ry="1.20" fill="#2a3870" opacity="0.1" filter="url(#b8)"/>
<ellipse cx="378.50" cy="286.00" rx="4.25" ry="1.20" fill="#2a3870" opacity="0.3" filter="url(#b8)"/>
<ellipse cx="390.50" cy="286.00" rx="4.25" ry="1.20" fill="#2a3870" opacity="0.3" filter="url(#b8)"/>
<ellipse cx="403.20" cy="286.00" rx="4.25" ry="1.20" fill="#2a3870" opacity="0.32" filter="url(#b8)"/>
<ellipse cx="378.50" cy="278.80" rx="4.00" ry="1.00" fill="#2a3870" opacity="0.2" filter="url(#b8)"/>
<ellipse cx="390.50" cy="278.80" rx="4.00" ry="1.00" fill="#2a3870" opacity="0.14" filter="url(#b8)"/>
<ellipse cx="403.20" cy="278.80" rx="4.00" ry="1.00" fill="#2a3870" opacity="0.14" filter="url(#b8)"/>
<ellipse cx="266.30" cy="278.80" rx="4.00" ry="1.00" fill="#2a3870" opacity="0.07" filter="url(#b8)"/>
<ellipse cx="266.30" cy="286.00" rx="4.00" ry="1.00" fill="#2a3870" opacity="0.1" filter="url(#b8)"/>
<circle cx="340.40" cy="273.80" r="1.40" fill="#0b1233"/>
<circle cx="275.00" cy="276.50" r="0.50" fill="#0b1233"/>
<circle cx="329.50" cy="273.50" r="0.50" fill="#0b1233"/>
<rect x="259.50" y="306.35" width="12.50" height="1.90" rx="1.5" fill="#0b1233" opacity="1" filter="url(#b4)"/>
<rect x="274.30" y="306.10" width="9.20" height="2.40" rx="1.5" fill="#0b1233" opacity="1" filter="url(#b4)"/>
<rect x="286.00" y="304.60" width="12.00" height="5.40" rx="1.5" fill="#0b1233" opacity="1" filter="url(#b4)"/>
<rect x="298.40" y="304.70" width="12.00" height="5.20" rx="1.5" fill="#0b1233" opacity="1" filter="url(#b4)"/>
<rect x="310.80" y="304.70" width="12.00" height="5.20" rx="1.5" fill="#0b1233" opacity="1" filter="url(#b4)"/>
<rect x="323.20" y="304.80" width="12.00" height="5.00" rx="1.5" fill="#0b1233" opacity="1" filter="url(#b4)"/>
<rect x="335.60" y="304.70" width="12.00" height="5.20" rx="1.5" fill="#0b1233" opacity="1" filter="url(#b4)"/>
<rect x="348.00" y="304.70" width="12.00" height="5.20" rx="1.5" fill="#0b1233" opacity="1" filter="url(#b4)"/>
<rect x="360.40" y="304.70" width="12.00" height="5.20" rx="1.5" fill="#0b1233" opacity="1" filter="url(#b4)"/>
<rect x="372.80" y="304.90" width="12.00" height="4.80" rx="1.5" fill="#0b1233" opacity="1" filter="url(#b4)"/>
<rect x="385.20" y="305.00" width="12.00" height="4.60" rx="1.5" fill="#0b1233" opacity="1" filter="url(#b4)"/>
<rect x="400.30" y="306.50" width="9.70" height="1.60" rx="1.5" fill="#0b1233" opacity="1" filter="url(#b4)"/>
<circle cx="253.00" cy="301.00" r="0.80" fill="#0b1233"/>
<text x="225.00" y="282.50" font-size="6.9" fill="#231f20" stroke="#231f20" stroke-width="0.12" textLength="23.10" lengthAdjust="spacingAndGlyphs">cleaved</text>
<text x="217.00" y="290.70" font-size="6.9" fill="#231f20" stroke="#231f20" stroke-width="0.12" textLength="31.30" lengthAdjust="spacingAndGlyphs">Caspase 3</text>
<text x="227.30" y="311.30" font-size="6.9" fill="#231f20" stroke="#231f20" stroke-width="0.12" textLength="21.20" lengthAdjust="spacingAndGlyphs">HSC70</text>
<text x="420.80" y="280.20" font-size="7.0" fill="#231f20" stroke="#231f20" stroke-width="0.05" font-style="italic" textLength="21.70" lengthAdjust="spacingAndGlyphs">19 kDa</text>
<text x="420.80" y="290.90" font-size="7.0" fill="#231f20" stroke="#231f20" stroke-width="0.05" font-style="italic" textLength="21.70" lengthAdjust="spacingAndGlyphs">17 kDa</text>
<text x="420.80" y="310.90" font-size="7.0" fill="#231f20" stroke="#231f20" stroke-width="0.05" font-style="italic" textLength="21.70" lengthAdjust="spacingAndGlyphs">70 kDa</text>
<text x="8.00" y="373.90" font-size="12.4" fill="#000" stroke="#000" stroke-width="0.35" font-weight="bold" textLength="7.00" lengthAdjust="spacingAndGlyphs">E</text>
<rect x="50.40" y="392.30" width="5.40" height="5.30" fill="#c8c6ca"/>
<text x="58.70" y="396.60" font-size="5.9" fill="#231f20" stroke="#231f20" stroke-width="0.08" textLength="25.50" lengthAdjust="spacingAndGlyphs">untreated</text>
<rect x="94.20" y="392.30" width="5.40" height="5.30" fill="#532765"/>
<text x="102.50" y="396.60" font-size="5.9" fill="#231f20" stroke="#231f20" stroke-width="0.08" textLength="26.50" lengthAdjust="spacingAndGlyphs">anti-CD95</text>
<line x1="49.40" y1="411.50" x2="49.40" y2="476.80" stroke="#231f20" stroke-width="1.2"/>
<line x1="48.80" y1="476.30" x2="141.50" y2="476.30" stroke="#231f20" stroke-width="1.3"/>
<line x1="45.90" y1="476.30" x2="49.40" y2="476.30" stroke="#231f20" stroke-width="0.9"/>
<text x="38.80" y="478.70" font-size="6.8" fill="#231f20" stroke="#231f20" stroke-width="0.1" textLength="3.50" lengthAdjust="spacingAndGlyphs">0</text>
<line x1="45.90" y1="465.75" x2="49.40" y2="465.75" stroke="#231f20" stroke-width="0.9"/>
<text x="35.30" y="468.15" font-size="6.8" fill="#231f20" stroke="#231f20" stroke-width="0.1" textLength="7.00" lengthAdjust="spacingAndGlyphs">20</text>
<line x1="45.90" y1="455.20" x2="49.40" y2="455.20" stroke="#231f20" stroke-width="0.9"/>
<text x="35.30" y="457.60" font-size="6.8" fill="#231f20" stroke="#231f20" stroke-width="0.1" textLength="7.00" lengthAdjust="spacingAndGlyphs">40</text>
<line x1="45.90" y1="444.65" x2="49.40" y2="444.65" stroke="#231f20" stroke-width="0.9"/>
<text x="35.30" y="447.05" font-size="6.8" fill="#231f20" stroke="#231f20" stroke-width="0.1" textLength="7.00" lengthAdjust="spacingAndGlyphs">60</text>
<line x1="45.90" y1="434.10" x2="49.40" y2="434.10" stroke="#231f20" stroke-width="0.9"/>
<text x="35.30" y="436.50" font-size="6.8" fill="#231f20" stroke="#231f20" stroke-width="0.1" textLength="7.00" lengthAdjust="spacingAndGlyphs">80</text>
<line x1="45.90" y1="423.55" x2="49.40" y2="423.55" stroke="#231f20" stroke-width="0.9"/>
<text x="31.80" y="425.95" font-size="6.8" fill="#231f20" stroke="#231f20" stroke-width="0.1" textLength="10.50" lengthAdjust="spacingAndGlyphs">100</text>
<line x1="45.90" y1="413.00" x2="49.40" y2="413.00" stroke="#231f20" stroke-width="0.9"/>
<text x="31.80" y="415.40" font-size="6.8" fill="#231f20" stroke="#231f20" stroke-width="0.1" textLength="10.50" lengthAdjust="spacingAndGlyphs">120</text>
<rect x="51.90" y="423.55" width="9.00" height="52.75" fill="#c8c6ca"/>
<line x1="56.40" y1="476.30" x2="56.40" y2="479.80" stroke="#231f20" stroke-width="0.8"/>
<rect x="62.10" y="439.38" width="9.00" height="36.92" fill="#532765"/>
<line x1="66.60" y1="437.69" x2="66.60" y2="441.06" stroke="#231f20" stroke-width="0.8"/>
<line x1="65.20" y1="437.69" x2="68.00" y2="437.69" stroke="#231f20" stroke-width="0.8"/>
<line x1="65.20" y1="441.06" x2="68.00" y2="441.06" stroke="#231f20" stroke-width="0.8"/>
<line x1="66.60" y1="476.30" x2="66.60" y2="479.80" stroke="#231f20" stroke-width="0.8"/>
<rect x="73.10" y="423.55" width="9.00" height="52.75" fill="#c8c6ca"/>
<line x1="77.60" y1="476.30" x2="77.60" y2="479.80" stroke="#231f20" stroke-width="0.8"/>
<rect x="83.80" y="455.20" width="9.00" height="21.10" fill="#532765"/>
<line x1="88.30" y1="453.72" x2="88.30" y2="456.68" stroke="#231f20" stroke-width="0.8"/>
<line x1="86.90" y1="453.72" x2="89.70" y2="453.72" stroke="#231f20" stroke-width="0.8"/>
<line x1="86.90" y1="456.68" x2="89.70" y2="456.68" stroke="#231f20" stroke-width="0.8"/>
<line x1="88.30" y1="476.30" x2="88.30" y2="479.80" stroke="#231f20" stroke-width="0.8"/>
<rect x="100.60" y="423.55" width="9.00" height="52.75" fill="#c8c6ca"/>
<line x1="105.10" y1="476.30" x2="105.10" y2="479.80" stroke="#231f20" stroke-width="0.8"/>
<rect x="111.20" y="425.87" width="9.00" height="50.43" fill="#532765"/>
<line x1="115.70" y1="423.76" x2="115.70" y2="427.98" stroke="#231f20" stroke-width="0.8"/>
<line x1="114.30" y1="423.76" x2="117.10" y2="423.76" stroke="#231f20" stroke-width="0.8"/>
<line x1="114.30" y1="427.98" x2="117.10" y2="427.98" stroke="#231f20" stroke-width="0.8"/>
<line x1="115.70" y1="476.30" x2="115.70" y2="479.80" stroke="#231f20" stroke-width="0.8"/>
<rect x="122.30" y="423.55" width="9.00" height="52.75" fill="#c8c6ca"/>
<line x1="126.80" y1="476.30" x2="126.80" y2="479.80" stroke="#231f20" stroke-width="0.8"/>
<rect x="132.70" y="435.84" width="9.00" height="40.46" fill="#532765"/>
<line x1="137.20" y1="433.99" x2="137.20" y2="437.69" stroke="#231f20" stroke-width="0.8"/>
<line x1="135.80" y1="433.99" x2="138.60" y2="433.99" stroke="#231f20" stroke-width="0.8"/>
<line x1="135.80" y1="437.69" x2="138.60" y2="437.69" stroke="#231f20" stroke-width="0.8"/>
<line x1="137.20" y1="476.30" x2="137.20" y2="479.80" stroke="#231f20" stroke-width="0.8"/>
<line x1="66.90" y1="408.30" x2="115.60" y2="408.30" stroke="#444" stroke-width="1.1"/>
<text x="80.32" y="405.70" font-size="5.8" fill="#231f20" stroke="#231f20" stroke-width="0.08" textLength="21.77" lengthAdjust="spacingAndGlyphs">P=0.038</text>
<line x1="88.00" y1="419.80" x2="136.50" y2="419.80" stroke="#444" stroke-width="1.1"/>
<text x="99.70" y="417.20" font-size="5.8" fill="#231f20" stroke="#231f20" stroke-width="0.08" textLength="24.99" lengthAdjust="spacingAndGlyphs">P=0.0003</text>
<line x1="55.80" y1="481.80" x2="66.90" y2="481.80" stroke="#231f20" stroke-width="1.0"/>
<line x1="77.50" y1="481.80" x2="88.00" y2="481.80" stroke="#231f20" stroke-width="1.0"/>
<line x1="104.40" y1="483.20" x2="115.60" y2="483.20" stroke="#231f20" stroke-width="1.0"/>
<line x1="126.20" y1="483.20" x2="137.00" y2="483.20" stroke="#231f20" stroke-width="1.0"/>
<text x="56.63" y="491.60" font-size="7.0" fill="#231f20" stroke="#231f20" stroke-width="0.12" textLength="9.73" lengthAdjust="spacingAndGlyphs">6 h</text>
<text x="76.39" y="491.60" font-size="7.0" fill="#231f20" stroke="#231f20" stroke-width="0.12" textLength="13.62" lengthAdjust="spacingAndGlyphs">24 h</text>
<text x="105.34" y="491.60" font-size="7.0" fill="#231f20" stroke="#231f20" stroke-width="0.12" textLength="9.73" lengthAdjust="spacingAndGlyphs">6 h</text>
<text x="124.79" y="491.60" font-size="7.0" fill="#231f20" stroke="#231f20" stroke-width="0.12" textLength="13.62" lengthAdjust="spacingAndGlyphs">24 h</text>
<line x1="56.30" y1="496.70" x2="88.00" y2="496.70" stroke="#231f20" stroke-width="1.0"/>
<text x="54.10" y="505.80" font-size="7.0" fill="#231f20" stroke="#231f20" stroke-width="0.12" textLength="35.40" lengthAdjust="spacingAndGlyphs">Hut78-GFP</text>
<line x1="104.40" y1="496.70" x2="136.20" y2="496.70" stroke="#231f20" stroke-width="1.0"/>
<text x="98.80" y="505.80" font-size="7.0" fill="#231f20" stroke="#231f20" stroke-width="0.12" textLength="42.79" lengthAdjust="spacingAndGlyphs">Hut78-TCL1A</text>
<text x="51.40" y="416.20" font-size="5.6" fill="#231f20" stroke="#231f20" stroke-width="0.08">n=4</text>
<line x1="192.40" y1="411.50" x2="192.40" y2="476.80" stroke="#231f20" stroke-width="1.2"/>
<line x1="191.80" y1="476.30" x2="287.50" y2="476.30" stroke="#231f20" stroke-width="1.3"/>
<line x1="188.90" y1="476.30" x2="192.40" y2="476.30" stroke="#231f20" stroke-width="0.9"/>
<text x="182.70" y="478.70" font-size="6.8" fill="#231f20" stroke="#231f20" stroke-width="0.1" textLength="3.50" lengthAdjust="spacingAndGlyphs">0</text>
<line x1="188.90" y1="465.75" x2="192.40" y2="465.75" stroke="#231f20" stroke-width="0.9"/>
<text x="179.20" y="468.15" font-size="6.8" fill="#231f20" stroke="#231f20" stroke-width="0.1" textLength="7.00" lengthAdjust="spacingAndGlyphs">20</text>
<line x1="188.90" y1="455.20" x2="192.40" y2="455.20" stroke="#231f20" stroke-width="0.9"/>
<text x="179.20" y="457.60" font-size="6.8" fill="#231f20" stroke="#231f20" stroke-width="0.1" textLength="7.00" lengthAdjust="spacingAndGlyphs">40</text>
<line x1="188.90" y1="444.65" x2="192.40" y2="444.65" stroke="#231f20" stroke-width="0.9"/>
<text x="179.20" y="447.05" font-size="6.8" fill="#231f20" stroke="#231f20" stroke-width="0.1" textLength="7.00" lengthAdjust="spacingAndGlyphs">60</text>
<line x1="188.90" y1="434.10" x2="192.40" y2="434.10" stroke="#231f20" stroke-width="0.9"/>
<text x="179.20" y="436.50" font-size="6.8" fill="#231f20" stroke="#231f20" stroke-width="0.1" textLength="7.00" lengthAdjust="spacingAndGlyphs">80</text>
<line x1="188.90" y1="423.55" x2="192.40" y2="423.55" stroke="#231f20" stroke-width="0.9"/>
<text x="175.70" y="425.95" font-size="6.8" fill="#231f20" stroke="#231f20" stroke-width="0.1" textLength="10.50" lengthAdjust="spacingAndGlyphs">100</text>
<line x1="188.90" y1="413.00" x2="192.40" y2="413.00" stroke="#231f20" stroke-width="0.9"/>
<text x="175.70" y="415.40" font-size="6.8" fill="#231f20" stroke="#231f20" stroke-width="0.1" textLength="10.50" lengthAdjust="spacingAndGlyphs">120</text>
<rect x="195.00" y="423.55" width="9.00" height="52.75" fill="#c8c6ca"/>
<line x1="199.50" y1="476.30" x2="199.50" y2="479.80" stroke="#231f20" stroke-width="0.8"/>
<rect x="205.80" y="456.25" width="9.00" height="20.04" fill="#532765"/>
<line x1="210.30" y1="454.94" x2="210.30" y2="457.57" stroke="#231f20" stroke-width="0.8"/>
<line x1="208.90" y1="454.94" x2="211.70" y2="454.94" stroke="#231f20" stroke-width="0.8"/>
<line x1="208.90" y1="457.57" x2="211.70" y2="457.57" stroke="#231f20" stroke-width="0.8"/>
<line x1="210.30" y1="476.30" x2="210.30" y2="479.80" stroke="#231f20" stroke-width="0.8"/>
<rect x="216.90" y="423.55" width="9.00" height="52.75" fill="#c8c6ca"/>
<line x1="221.40" y1="476.30" x2="221.40" y2="479.80" stroke="#231f20" stroke-width="0.8"/>
<rect x="227.30" y="474.72" width="9.00" height="1.58" fill="#532765"/>
<line x1="231.80" y1="474.08" x2="231.80" y2="475.35" stroke="#231f20" stroke-width="0.8"/>
<line x1="230.40" y1="474.08" x2="233.20" y2="474.08" stroke="#231f20" stroke-width="0.8"/>
<line x1="230.40" y1="475.35" x2="233.20" y2="475.35" stroke="#231f20" stroke-width="0.8"/>
<line x1="231.80" y1="476.30" x2="231.80" y2="479.80" stroke="#231f20" stroke-width="0.8"/>
<rect x="244.20" y="423.55" width="9.00" height="52.75" fill="#c8c6ca"/>
<line x1="248.70" y1="476.30" x2="248.70" y2="479.80" stroke="#231f20" stroke-width="0.8"/>
<rect x="254.30" y="449.93" width="9.00" height="26.38" fill="#532765"/>
<line x1="258.80" y1="449.40" x2="258.80" y2="450.45" stroke="#231f20" stroke-width="0.8"/>
<line x1="257.40" y1="449.40" x2="260.20" y2="449.40" stroke="#231f20" stroke-width="0.8"/>
<line x1="257.40" y1="450.45" x2="260.20" y2="450.45" stroke="#231f20" stroke-width="0.8"/>
<line x1="258.80" y1="476.30" x2="258.80" y2="479.80" stroke="#231f20" stroke-width="0.8"/>
<rect x="265.30" y="423.55" width="9.00" height="52.75" fill="#c8c6ca"/>
<line x1="269.80" y1="476.30" x2="269.80" y2="479.80" stroke="#231f20" stroke-width="0.8"/>
<rect x="276.00" y="469.97" width="9.00" height="6.33" fill="#532765"/>
<line x1="280.50" y1="468.60" x2="280.50" y2="471.34" stroke="#231f20" stroke-width="0.8"/>
<line x1="279.10" y1="468.60" x2="281.90" y2="468.60" stroke="#231f20" stroke-width="0.8"/>
<line x1="279.10" y1="471.34" x2="281.90" y2="471.34" stroke="#231f20" stroke-width="0.8"/>
<line x1="280.50" y1="476.30" x2="280.50" y2="479.80" stroke="#231f20" stroke-width="0.8"/>
<line x1="210.50" y1="407.70" x2="258.50" y2="407.70" stroke="#444" stroke-width="1.1"/>
<text x="223.62" y="405.10" font-size="5.8" fill="#231f20" stroke="#231f20" stroke-width="0.08" textLength="21.77" lengthAdjust="spacingAndGlyphs">P=0.014</text>
<line x1="231.90" y1="418.20" x2="280.10" y2="418.20" stroke="#444" stroke-width="1.1"/>
<text x="245.12" y="415.60" font-size="5.8" fill="#231f20" stroke="#231f20" stroke-width="0.08" textLength="21.77" lengthAdjust="spacingAndGlyphs">P=0.019</text>
<line x1="199.40" y1="481.80" x2="210.50" y2="481.80" stroke="#231f20" stroke-width="1.0"/>
<line x1="221.40" y1="481.80" x2="232.00" y2="481.80" stroke="#231f20" stroke-width="1.0"/>
<line x1="248.70" y1="483.20" x2="259.00" y2="483.20" stroke="#231f20" stroke-width="1.0"/>
<line x1="269.80" y1="483.20" x2="280.50" y2="483.20" stroke="#231f20" stroke-width="1.0"/>
<text x="200.13" y="491.60" font-size="7.0" fill="#231f20" stroke="#231f20" stroke-width="0.12" textLength="9.73" lengthAdjust="spacingAndGlyphs">6 h</text>
<text x="220.19" y="491.60" font-size="7.0" fill="#231f20" stroke="#231f20" stroke-width="0.12" textLength="13.62" lengthAdjust="spacingAndGlyphs">24 h</text>
<text x="248.63" y="491.60" font-size="7.0" fill="#231f20" stroke="#231f20" stroke-width="0.12" textLength="9.73" lengthAdjust="spacingAndGlyphs">6 h</text>
<text x="268.79" y="491.60" font-size="7.0" fill="#231f20" stroke="#231f20" stroke-width="0.12" textLength="13.62" lengthAdjust="spacingAndGlyphs">24 h</text>
<line x1="199.40" y1="496.70" x2="232.00" y2="496.70" stroke="#231f20" stroke-width="1.0"/>
<text x="198.11" y="505.80" font-size="7.0" fill="#231f20" stroke="#231f20" stroke-width="0.12" textLength="35.78" lengthAdjust="spacingAndGlyphs">Jurkat-GFP</text>
<line x1="248.70" y1="496.70" x2="280.50" y2="496.70" stroke="#231f20" stroke-width="1.0"/>
<text x="242.11" y="505.80" font-size="7.0" fill="#231f20" stroke="#231f20" stroke-width="0.12" textLength="43.18" lengthAdjust="spacingAndGlyphs">Jurkat-TCL1A</text>
<text x="194.40" y="416.20" font-size="5.6" fill="#231f20" stroke="#231f20" stroke-width="0.08">n=4</text>
<text transform="translate(16.70,476.10) rotate(-90)" x="0" y="0" font-size="9.6" fill="#231f20" stroke="#231f20" stroke-width="0.0" font-weight="bold" textLength="67.80" lengthAdjust="spacingAndGlyphs">Metabolic activity [%]</text>
<text transform="translate(26.90,489.90) rotate(-90)" x="0" y="0" font-size="9.6" fill="#231f20" stroke="#231f20" stroke-width="0.0" font-weight="bold" textLength="94.10" lengthAdjust="spacingAndGlyphs">(relative to untreated control)</text>
<text transform="translate(160.70,476.10) rotate(-90)" x="0" y="0" font-size="9.6" fill="#231f20" stroke="#231f20" stroke-width="0.0" font-weight="bold" textLength="67.80" lengthAdjust="spacingAndGlyphs">Metabolic activity [%]</text>
<text transform="translate(170.90,489.90) rotate(-90)" x="0" y="0" font-size="9.6" fill="#231f20" stroke="#231f20" stroke-width="0.0" font-weight="bold" textLength="94.10" lengthAdjust="spacingAndGlyphs">(relative to untreated control)</text>
<text x="306.40" y="373.90" font-size="12.4" fill="#000" stroke="#000" stroke-width="0.35" font-weight="bold" textLength="6.40" lengthAdjust="spacingAndGlyphs">F</text>
<text x="357.70" y="382.80" font-size="7.0" fill="#231f20" stroke="#231f20" stroke-width="0.12" textLength="34.90" lengthAdjust="spacingAndGlyphs">Jurkat-GFP</text>
<line x1="343.90" y1="387.50" x2="405.50" y2="387.50" stroke="#231f20" stroke-width="1.1"/>
<text x="418.75" y="382.60" font-size="7.0" fill="#231f20" stroke="#231f20" stroke-width="0.12" textLength="41.75" lengthAdjust="spacingAndGlyphs">Jurkat-TCL1A</text>
<line x1="408.75" y1="387.50" x2="470.50" y2="387.50" stroke="#231f20" stroke-width="1.1"/>
<text x="342.50" y="396.50" font-size="7.0" fill="#231f20" stroke="#231f20" stroke-width="0.12" textLength="9.90" lengthAdjust="spacingAndGlyphs">0 h</text>
<text x="356.60" y="396.50" font-size="7.0" fill="#231f20" stroke="#231f20" stroke-width="0.12" textLength="15.90" lengthAdjust="spacingAndGlyphs">0.5 h</text>
<text x="378.40" y="396.50" font-size="7.0" fill="#231f20" stroke="#231f20" stroke-width="0.12" textLength="10.00" lengthAdjust="spacingAndGlyphs">1 h</text>
<text x="397.00" y="396.50" font-size="7.0" fill="#231f20" stroke="#231f20" stroke-width="0.12" textLength="9.25" lengthAdjust="spacingAndGlyphs">2 h</text>
<text x="410.00" y="396.50" font-size="7.0" fill="#231f20" stroke="#231f20" stroke-width="0.12" textLength="8.75" lengthAdjust="spacingAndGlyphs">0 h</text>
<text x="419.50" y="396.50" font-size="7.0" fill="#231f20" stroke="#231f20" stroke-width="0.12" textLength="16.00" lengthAdjust="spacingAndGlyphs">0.5 h</text>
<text x="441.25" y="396.50" font-size="7.0" fill="#231f20" stroke="#231f20" stroke-width="0.12" textLength="8.75" lengthAdjust="spacingAndGlyphs">1 h</text>
<text x="459.50" y="396.50" font-size="7.0" fill="#231f20" stroke="#231f20" stroke-width="0.12" textLength="9.25" lengthAdjust="spacingAndGlyphs">2 h</text>
<line x1="343.90" y1="401.50" x2="352.00" y2="401.50" stroke="#231f20" stroke-width="1.1"/>
<line x1="358.80" y1="401.50" x2="371.40" y2="401.50" stroke="#231f20" stroke-width="1.1"/>
<line x1="377.50" y1="401.50" x2="389.00" y2="401.50" stroke="#231f20" stroke-width="1.1"/>
<line x1="395.50" y1="401.50" x2="407.00" y2="401.50" stroke="#231f20" stroke-width="1.1"/>
<line x1="410.00" y1="401.50" x2="418.75" y2="401.50" stroke="#231f20" stroke-width="1.1"/>
<line x1="422.00" y1="401.50" x2="435.50" y2="401.50" stroke="#231f20" stroke-width="1.1"/>
<line x1="439.50" y1="401.50" x2="451.25" y2="401.50" stroke="#231f20" stroke-width="1.1"/>
<line x1="458.00" y1="401.50" x2="470.00" y2="401.50" stroke="#231f20" stroke-width="1.1"/>
<line x1="346.50" y1="408.70" x2="348.10" y2="408.70" stroke="#3a3a3a" stroke-width="0.9"/>
<line x1="359.00" y1="408.70" x2="360.60" y2="408.70" stroke="#3a3a3a" stroke-width="0.9"/>
<line x1="367.40" y1="408.40" x2="371.00" y2="408.40" stroke="#3a3a3a" stroke-width="0.85"/>
<line x1="369.20" y1="406.60" x2="369.20" y2="410.20" stroke="#3a3a3a" stroke-width="0.85"/>
<line x1="378.30" y1="408.70" x2="379.90" y2="408.70" stroke="#3a3a3a" stroke-width="0.9"/>
<line x1="385.90" y1="408.40" x2="389.50" y2="408.40" stroke="#3a3a3a" stroke-width="0.85"/>
<line x1="387.70" y1="406.60" x2="387.70" y2="410.20" stroke="#3a3a3a" stroke-width="0.85"/>
<line x1="396.70" y1="408.70" x2="398.30" y2="408.70" stroke="#3a3a3a" stroke-width="0.9"/>
<line x1="403.70" y1="408.40" x2="407.30" y2="408.40" stroke="#3a3a3a" stroke-width="0.85"/>
<line x1="405.50" y1="406.60" x2="405.50" y2="410.20" stroke="#3a3a3a" stroke-width="0.85"/>
<line x1="414.70" y1="408.70" x2="416.30" y2="408.70" stroke="#3a3a3a" stroke-width="0.9"/>
<line x1="421.70" y1="408.70" x2="423.30" y2="408.70" stroke="#3a3a3a" stroke-width="0.9"/>
<line x1="430.70" y1="408.40" x2="434.30" y2="408.40" stroke="#3a3a3a" stroke-width="0.85"/>
<line x1="432.50" y1="406.60" x2="432.50" y2="410.20" stroke="#3a3a3a" stroke-width="0.85"/>
<line x1="441.20" y1="408.70" x2="442.80" y2="408.70" stroke="#3a3a3a" stroke-width="0.9"/>
<line x1="447.70" y1="408.40" x2="451.30" y2="408.40" stroke="#3a3a3a" stroke-width="0.85"/>
<line x1="449.50" y1="406.60" x2="449.50" y2="410.20" stroke="#3a3a3a" stroke-width="0.85"/>
<line x1="459.20" y1="408.70" x2="460.80" y2="408.70" stroke="#3a3a3a" stroke-width="0.9"/>
<line x1="466.95" y1="408.40" x2="470.55" y2="408.40" stroke="#3a3a3a" stroke-width="0.85"/>
<line x1="468.75" y1="406.60" x2="468.75" y2="410.20" stroke="#3a3a3a" stroke-width="0.85"/>
<text x="482.00" y="405.60" font-size="6.8" fill="#231f20" stroke="#231f20" stroke-width="0.05" font-style="italic" textLength="29.30" lengthAdjust="spacingAndGlyphs">anti-CD95</text>
<text x="482.00" y="413.90" font-size="6.8" fill="#231f20" stroke="#231f20" stroke-width="0.05" font-style="italic" textLength="29.00" lengthAdjust="spacingAndGlyphs">[1 μg/mL]</text>
<rect x="339.00" y="415.30" width="138.30" height="25.30" fill="#cbd9f0" stroke="#8a909a" stroke-width="0.9"/>
<rect x="339.00" y="449.30" width="138.30" height="23.50" fill="#cbd9f0" stroke="#8a909a" stroke-width="0.9"/>
<rect x="339.00" y="481.30" width="138.30" height="14.10" fill="#cbd9f0" stroke="#8a909a" stroke-width="0.9"/>
<rect x="339.00" y="503.50" width="138.30" height="16.30" fill="#cbd9f0" stroke="#8a909a" stroke-width="0.9"/>
<rect x="379.80" y="420.90" width="7.60" height="2.00" rx="1.0" fill="#0e1330" opacity="1" filter="url(#b5)"/>
<ellipse cx="381.00" cy="421.90" rx="1.30" ry="1.45" fill="#0e1330" opacity="1" filter="url(#b5)"/>
<ellipse cx="386.20" cy="421.90" rx="1.30" ry="1.45" fill="#0e1330" opacity="1" filter="url(#b5)"/>
<rect x="379.80" y="424.60" width="7.60" height="2.80" rx="1.4" fill="#0e1330" opacity="1" filter="url(#b5)"/>
<ellipse cx="381.00" cy="426.00" rx="1.30" ry="1.85" fill="#0e1330" opacity="1" filter="url(#b5)"/>
<ellipse cx="386.20" cy="426.00" rx="1.30" ry="1.85" fill="#0e1330" opacity="1" filter="url(#b5)"/>
<rect x="379.80" y="429.40" width="6.00" height="1.40" rx="0.6" fill="#0e1330" opacity="0.75" filter="url(#b5)"/>
<rect x="398.30" y="420.20" width="8.70" height="2.80" rx="1.4" fill="#0e1330" opacity="1" filter="url(#b5)"/>
<ellipse cx="399.50" cy="421.60" rx="1.30" ry="1.85" fill="#0e1330" opacity="1" filter="url(#b5)"/>
<ellipse cx="405.80" cy="421.60" rx="1.30" ry="1.85" fill="#0e1330" opacity="1" filter="url(#b5)"/>
<rect x="398.30" y="423.80" width="8.70" height="3.20" rx="1.6" fill="#0e1330" opacity="1" filter="url(#b5)"/>
<ellipse cx="399.50" cy="425.40" rx="1.30" ry="2.05" fill="#0e1330" opacity="1" filter="url(#b5)"/>
<ellipse cx="405.80" cy="425.40" rx="1.30" ry="2.05" fill="#0e1330" opacity="1" filter="url(#b5)"/>
<rect x="398.50" y="428.90" width="8.30" height="1.80" rx="0.9" fill="#0e1330" opacity="1" filter="url(#b5)"/>
<ellipse cx="399.70" cy="429.80" rx="1.30" ry="1.35" fill="#0e1330" opacity="1" filter="url(#b5)"/>
<ellipse cx="405.60" cy="429.80" rx="1.30" ry="1.35" fill="#0e1330" opacity="1" filter="url(#b5)"/>
<rect x="447.40" y="423.30" width="7.00" height="1.50" rx="0.7" fill="#0e1330" opacity="0.95" filter="url(#b4)"/>
<rect x="447.40" y="427.60" width="7.00" height="1.50" rx="0.7" fill="#0e1330" opacity="0.95" filter="url(#b4)"/>
<line x1="466.6" y1="433.6" x2="469.8" y2="436.1" stroke="#0e1330" stroke-width="2.0" stroke-linecap="round" filter="url(#b4)"/>
<circle cx="467.50" cy="429.80" r="0.60" fill="#0e1330"/>
<circle cx="426.20" cy="427.50" r="0.50" fill="#3a4a80"/>
<circle cx="441.50" cy="425.60" r="0.40" fill="#5a6aa0"/>
<rect x="343.50" y="456.50" width="7.70" height="1.00" rx="0.8" fill="#0e1330" opacity="0.35" filter="url(#b4)"/>
<rect x="354.00" y="455.50" width="6.90" height="2.40" rx="0.8" fill="#0e1330" opacity="1" filter="url(#b4)"/>
<rect x="364.30" y="455.20" width="6.90" height="3.60" rx="0.8" fill="#0e1330" opacity="1" filter="url(#b4)"/>
<rect x="373.30" y="455.40" width="6.90" height="2.60" rx="0.8" fill="#0e1330" opacity="1" filter="url(#b4)"/>
<rect x="382.30" y="455.00" width="9.00" height="3.60" rx="0.8" fill="#0e1330" opacity="1" filter="url(#b4)"/>
<rect x="392.00" y="455.40" width="7.00" height="2.60" rx="0.8" fill="#0e1330" opacity="1" filter="url(#b4)"/>
<rect x="400.30" y="455.90" width="8.30" height="2.20" rx="0.8" fill="#0e1330" opacity="1" filter="url(#b4)"/>
<rect x="410.00" y="456.00" width="6.50" height="2.40" rx="0.8" fill="#0e1330" opacity="0.95" filter="url(#b4)"/>
<rect x="418.70" y="456.50" width="6.50" height="2.00" rx="0.8" fill="#0e1330" opacity="0.9" filter="url(#b4)"/>
<rect x="428.10" y="456.00" width="6.50" height="2.00" rx="0.8" fill="#0e1330" opacity="0.95" filter="url(#b4)"/>
<rect x="436.70" y="456.50" width="7.30" height="2.00" rx="0.8" fill="#0e1330" opacity="0.9" filter="url(#b4)"/>
<rect x="446.10" y="456.10" width="7.20" height="1.80" rx="0.8" fill="#0e1330" opacity="0.9" filter="url(#b4)"/>
<rect x="457.00" y="457.55" width="4.30" height="0.90" rx="0.8" fill="#0e1330" opacity="0.3" filter="url(#b4)"/>
<rect x="465.60" y="457.50" width="8.40" height="1.00" rx="0.8" fill="#0e1330" opacity="0.6" filter="url(#b4)"/>
<rect x="354.00" y="460.00" width="6.90" height="2.00" rx="0.8" fill="#2a3a80" opacity="0.22" filter="url(#b6)"/>
<rect x="364.30" y="459.25" width="6.90" height="3.50" rx="0.8" fill="#2a3a80" opacity="0.35" filter="url(#b6)"/>
<rect x="373.30" y="459.75" width="6.90" height="2.50" rx="0.8" fill="#2a3a80" opacity="0.3" filter="url(#b6)"/>
<rect x="392.00" y="459.80" width="7.00" height="3.00" rx="0.8" fill="#2a3a80" opacity="0.4" filter="url(#b6)"/>
<rect x="457.00" y="460.50" width="4.30" height="1.00" rx="0.8" fill="#2a3a80" opacity="0.1" filter="url(#b6)"/>
<rect x="382.60" y="458.50" width="8.60" height="7.50" rx="1.8" fill="#0e1330" opacity="1" filter="url(#b5)"/>
<rect x="400.30" y="459.80" width="8.30" height="8.20" rx="2.0" fill="#0e1330" opacity="1" filter="url(#b5)"/>
<ellipse cx="404.30" cy="468.60" rx="2.75" ry="1.10" fill="#0e1330" opacity="1" filter="url(#b5)"/>
<rect x="446.30" y="461.30" width="7.00" height="1.80" rx="0.7" fill="#0e1330" opacity="1" filter="url(#b4)"/>
<rect x="446.30" y="463.80" width="7.00" height="1.80" rx="0.7" fill="#0e1330" opacity="1" filter="url(#b4)"/>
<rect x="465.80" y="462.00" width="8.40" height="3.80" rx="1.6" fill="#0e1330" opacity="1" filter="url(#b5)"/>
<rect x="406.50" y="486.90" width="7.20" height="2.20" rx="1.0" fill="#1a2250" opacity="0.82" filter="url(#b7)"/>
<rect x="414.80" y="486.80" width="7.40" height="2.60" rx="1.0" fill="#1a2250" opacity="0.82" filter="url(#b7)"/>
<rect x="423.30" y="486.80" width="7.40" height="2.60" rx="1.0" fill="#1a2250" opacity="0.82" filter="url(#b7)"/>
<rect x="431.80" y="487.00" width="7.40" height="2.40" rx="1.0" fill="#1a2250" opacity="0.82" filter="url(#b7)"/>
<rect x="440.30" y="487.20" width="6.90" height="2.20" rx="1.0" fill="#1a2250" opacity="0.82" filter="url(#b7)"/>
<rect x="448.30" y="487.70" width="4.40" height="1.80" rx="1.0" fill="#1a2250" opacity="0.82" filter="url(#b7)"/>
<rect x="456.80" y="486.10" width="7.40" height="3.40" rx="1.0" fill="#1a2250" opacity="0.82" filter="url(#b7)"/>
<rect x="465.30" y="485.60" width="7.40" height="3.60" rx="1.0" fill="#1a2250" opacity="0.82" filter="url(#b7)"/>
<circle cx="471.50" cy="484.00" r="0.50" fill="#2a3a80"/>
<rect x="344.20" y="511.40" width="9.00" height="2.80" rx="1.2" fill="#0e1330" opacity="1" filter="url(#b5)"/>
<rect x="354.30" y="510.65" width="8.60" height="4.30" rx="1.2" fill="#0e1330" opacity="1" filter="url(#b5)"/>
<rect x="364.00" y="510.50" width="8.60" height="4.60" rx="1.2" fill="#0e1330" opacity="1" filter="url(#b5)"/>
<rect x="373.70" y="511.10" width="8.60" height="3.40" rx="1.2" fill="#0e1330" opacity="1" filter="url(#b5)"/>
<rect x="383.40" y="510.40" width="7.90" height="4.80" rx="1.2" fill="#0e1330" opacity="1" filter="url(#b5)"/>
<rect x="392.40" y="510.40" width="7.20" height="4.80" rx="1.2" fill="#0e1330" opacity="1" filter="url(#b5)"/>
<rect x="401.00" y="510.90" width="7.60" height="3.80" rx="1.2" fill="#0e1330" opacity="1" filter="url(#b5)"/>
<rect x="410.80" y="510.65" width="7.90" height="4.30" rx="1.2" fill="#0e1330" opacity="1" filter="url(#b5)"/>
<rect x="420.20" y="510.50" width="7.90" height="4.60" rx="1.2" fill="#0e1330" opacity="1" filter="url(#b5)"/>
<rect x="428.80" y="510.50" width="7.90" height="4.60" rx="1.2" fill="#0e1330" opacity="1" filter="url(#b5)"/>
<rect x="438.20" y="510.70" width="7.90" height="4.20" rx="1.2" fill="#0e1330" opacity="1" filter="url(#b5)"/>
<rect x="447.60" y="510.40" width="7.90" height="4.80" rx="1.2" fill="#0e1330" opacity="1" filter="url(#b5)"/>
<rect x="457.00" y="511.20" width="7.20" height="3.20" rx="1.2" fill="#0e1330" opacity="1" filter="url(#b5)"/>
<rect x="465.60" y="511.10" width="7.90" height="3.40" rx="1.2" fill="#0e1330" opacity="1" filter="url(#b5)"/>
<ellipse cx="472.50" cy="515.00" rx="1.25" ry="0.90" fill="#0e1330" opacity="1" filter="url(#b4)"/>
<text x="312.10" y="425.60" font-size="7.0" fill="#231f20" stroke="#231f20" stroke-width="0.12" textLength="23.10" lengthAdjust="spacingAndGlyphs">cleaved</text>
<text x="304.00" y="434.50" font-size="7.0" fill="#231f20" stroke="#231f20" stroke-width="0.12" textLength="31.30" lengthAdjust="spacingAndGlyphs">Caspase 3</text>
<text x="318.05" y="466.40" font-size="7.0" fill="#231f20" stroke="#231f20" stroke-width="0.12" textLength="17.50" lengthAdjust="spacingAndGlyphs">PARP</text>
<text x="314.50" y="490.80" font-size="7.0" fill="#231f20" stroke="#231f20" stroke-width="0.12" textLength="21.00" lengthAdjust="spacingAndGlyphs">TCL1A</text>
<text x="312.95" y="513.20" font-size="7.0" fill="#231f20" stroke="#231f20" stroke-width="0.12" textLength="22.50" lengthAdjust="spacingAndGlyphs">β actin</text>
<text x="482.00" y="424.60" font-size="7.0" fill="#231f20" stroke="#231f20" stroke-width="0.05" font-style="italic" textLength="21.80" lengthAdjust="spacingAndGlyphs">19 kDa</text>
<text x="482.00" y="432.20" font-size="7.0" fill="#231f20" stroke="#231f20" stroke-width="0.05" font-style="italic" textLength="21.80" lengthAdjust="spacingAndGlyphs">17 kDa</text>
<text x="482.00" y="459.60" font-size="7.0" fill="#231f20" stroke="#231f20" stroke-width="0.05" font-style="italic" textLength="25.50" lengthAdjust="spacingAndGlyphs">116 kDa</text>
<text x="482.00" y="467.30" font-size="7.0" fill="#231f20" stroke="#231f20" stroke-width="0.05" font-style="italic" textLength="21.80" lengthAdjust="spacingAndGlyphs">89 kDa</text>
<text x="482.00" y="490.40" font-size="7.0" fill="#231f20" stroke="#231f20" stroke-width="0.05" font-style="italic" textLength="21.80" lengthAdjust="spacingAndGlyphs">14 kDa</text>
<text x="482.00" y="513.50" font-size="7.0" fill="#231f20" stroke="#231f20" stroke-width="0.05" font-style="italic" textLength="21.80" lengthAdjust="spacingAndGlyphs">42 kDa</text>
<text x="347.50" y="446.6" font-size="5.2" fill="#231f20" text-anchor="middle" textLength="6.90" lengthAdjust="spacingAndGlyphs">1.0</text>
<text x="360.10" y="446.6" font-size="5.2" fill="#231f20" text-anchor="middle" textLength="6.90" lengthAdjust="spacingAndGlyphs">0.1</text>
<text x="369.90" y="446.6" font-size="5.2" fill="#231f20" text-anchor="middle" textLength="6.90" lengthAdjust="spacingAndGlyphs">0.1</text>
<text x="379.10" y="446.6" font-size="5.2" fill="#231f20" text-anchor="middle" textLength="6.90" lengthAdjust="spacingAndGlyphs">0.1</text>
<text x="388.00" y="446.6" font-size="5.2" fill="#231f20" text-anchor="middle" textLength="6.90" lengthAdjust="spacingAndGlyphs">9.1</text>
<text x="396.90" y="446.6" font-size="5.2" fill="#231f20" text-anchor="middle" textLength="6.90" lengthAdjust="spacingAndGlyphs">0.1</text>
<text x="405.30" y="446.6" font-size="5.2" fill="#231f20" text-anchor="middle" textLength="5.10" lengthAdjust="spacingAndGlyphs">22</text>
<text x="415.30" y="446.6" font-size="5.2" fill="#231f20" text-anchor="middle" textLength="6.90" lengthAdjust="spacingAndGlyphs">0.2</text>
<text x="423.70" y="446.6" font-size="5.2" fill="#231f20" text-anchor="middle" textLength="6.90" lengthAdjust="spacingAndGlyphs">0.2</text>
<text x="432.60" y="446.6" font-size="5.2" fill="#231f20" text-anchor="middle" textLength="6.90" lengthAdjust="spacingAndGlyphs">0.2</text>
<text x="441.50" y="446.6" font-size="5.2" fill="#231f20" text-anchor="middle" textLength="6.90" lengthAdjust="spacingAndGlyphs">0.3</text>
<text x="449.30" y="446.6" font-size="5.2" fill="#231f20" text-anchor="middle" textLength="6.90" lengthAdjust="spacingAndGlyphs">4.1</text>
<text x="461.90" y="446.6" font-size="5.2" fill="#231f20" text-anchor="middle" textLength="6.90" lengthAdjust="spacingAndGlyphs">0.4</text>
<text x="470.20" y="446.6" font-size="5.2" fill="#231f20" text-anchor="middle" textLength="6.90" lengthAdjust="spacingAndGlyphs">4.7</text>
<text x="347.50" y="477.1" font-size="5.2" fill="#231f20" text-anchor="middle" textLength="6.90" lengthAdjust="spacingAndGlyphs">1.0</text>
<text x="360.10" y="477.1" font-size="5.2" fill="#231f20" text-anchor="middle" textLength="6.90" lengthAdjust="spacingAndGlyphs">4.1</text>
<text x="369.90" y="477.1" font-size="5.2" fill="#231f20" text-anchor="middle" textLength="5.10" lengthAdjust="spacingAndGlyphs">16</text>
<text x="379.10" y="477.1" font-size="5.2" fill="#231f20" text-anchor="middle" textLength="6.90" lengthAdjust="spacingAndGlyphs">1.9</text>
<text x="388.00" y="477.1" font-size="5.2" fill="#231f20" text-anchor="middle" textLength="7.65" lengthAdjust="spacingAndGlyphs">109</text>
<text x="396.90" y="477.1" font-size="5.2" fill="#231f20" text-anchor="middle" textLength="5.10" lengthAdjust="spacingAndGlyphs">39</text>
<text x="405.30" y="477.1" font-size="5.2" fill="#231f20" text-anchor="middle" textLength="7.65" lengthAdjust="spacingAndGlyphs">206</text>
<text x="415.30" y="477.1" font-size="5.2" fill="#231f20" text-anchor="middle" textLength="5.10" lengthAdjust="spacingAndGlyphs">14</text>
<text x="423.70" y="477.1" font-size="5.2" fill="#231f20" text-anchor="middle" textLength="6.90" lengthAdjust="spacingAndGlyphs">6.0</text>
<text x="432.60" y="477.1" font-size="5.2" fill="#231f20" text-anchor="middle" textLength="6.90" lengthAdjust="spacingAndGlyphs">4.7</text>
<text x="441.50" y="477.1" font-size="5.2" fill="#231f20" text-anchor="middle" textLength="6.90" lengthAdjust="spacingAndGlyphs">7.1</text>
<text x="449.30" y="477.1" font-size="5.2" fill="#231f20" text-anchor="middle" textLength="5.10" lengthAdjust="spacingAndGlyphs">65</text>
<text x="461.90" y="477.1" font-size="5.2" fill="#231f20" text-anchor="middle" textLength="6.90" lengthAdjust="spacingAndGlyphs">1.3</text>
<text x="470.20" y="477.1" font-size="5.2" fill="#231f20" text-anchor="middle" textLength="7.65" lengthAdjust="spacingAndGlyphs">179</text>
<text x="347.50" y="500.4" font-size="5.2" fill="#231f20" text-anchor="middle" textLength="6.90" lengthAdjust="spacingAndGlyphs">1.0</text>
<text x="360.10" y="500.4" font-size="5.2" fill="#231f20" text-anchor="middle" textLength="6.90" lengthAdjust="spacingAndGlyphs">0.7</text>
<text x="369.90" y="500.4" font-size="5.2" fill="#231f20" text-anchor="middle" textLength="6.90" lengthAdjust="spacingAndGlyphs">0.7</text>
<text x="379.10" y="500.4" font-size="5.2" fill="#231f20" text-anchor="middle" textLength="6.90" lengthAdjust="spacingAndGlyphs">0.8</text>
<text x="388.00" y="500.4" font-size="5.2" fill="#231f20" text-anchor="middle" textLength="6.90" lengthAdjust="spacingAndGlyphs">0.5</text>
<text x="396.90" y="500.4" font-size="5.2" fill="#231f20" text-anchor="middle" textLength="6.90" lengthAdjust="spacingAndGlyphs">0.7</text>
<text x="405.30" y="500.4" font-size="5.2" fill="#231f20" text-anchor="middle" textLength="6.90" lengthAdjust="spacingAndGlyphs">0.8</text>
<text x="415.30" y="500.4" font-size="5.2" fill="#231f20" text-anchor="middle" textLength="5.10" lengthAdjust="spacingAndGlyphs">42</text>
<text x="423.70" y="500.4" font-size="5.2" fill="#231f20" text-anchor="middle" textLength="5.10" lengthAdjust="spacingAndGlyphs">55</text>
<text x="432.60" y="500.4" font-size="5.2" fill="#231f20" text-anchor="middle" textLength="5.10" lengthAdjust="spacingAndGlyphs">56</text>
<text x="441.50" y="500.4" font-size="5.2" fill="#231f20" text-anchor="middle" textLength="5.10" lengthAdjust="spacingAndGlyphs">51</text>
<text x="449.30" y="500.4" font-size="5.2" fill="#231f20" text-anchor="middle" textLength="5.10" lengthAdjust="spacingAndGlyphs">35</text>
<text x="461.90" y="500.4" font-size="5.2" fill="#231f20" text-anchor="middle" textLength="5.10" lengthAdjust="spacingAndGlyphs">84</text>
<text x="470.20" y="500.4" font-size="5.2" fill="#231f20" text-anchor="middle" textLength="5.10" lengthAdjust="spacingAndGlyphs">84</text>
<text x="35.60" y="543.30" font-size="12.4" fill="#000" stroke="#000" stroke-width="0.35" font-weight="bold" textLength="9.40" lengthAdjust="spacingAndGlyphs">G</text>
<line x1="87.40" y1="568.00" x2="87.40" y2="660.30" stroke="#231f20" stroke-width="1.2"/>
<line x1="86.80" y1="659.80" x2="225.90" y2="659.80" stroke="#231f20" stroke-width="1.3"/>
<line x1="83.60" y1="659.80" x2="87.40" y2="659.80" stroke="#231f20" stroke-width="0.9"/>
<text x="77.70" y="662.30" font-size="7.0" fill="#231f20" stroke="#231f20" stroke-width="0.1" textLength="3.50" lengthAdjust="spacingAndGlyphs">0</text>
<line x1="83.60" y1="640.58" x2="87.40" y2="640.58" stroke="#231f20" stroke-width="0.9"/>
<text x="74.20" y="643.08" font-size="7.0" fill="#231f20" stroke="#231f20" stroke-width="0.1" textLength="7.00" lengthAdjust="spacingAndGlyphs">25</text>
<line x1="83.60" y1="621.37" x2="87.40" y2="621.37" stroke="#231f20" stroke-width="0.9"/>
<text x="74.20" y="623.87" font-size="7.0" fill="#231f20" stroke="#231f20" stroke-width="0.1" textLength="7.00" lengthAdjust="spacingAndGlyphs">50</text>
<line x1="83.60" y1="602.15" x2="87.40" y2="602.15" stroke="#231f20" stroke-width="0.9"/>
<text x="74.20" y="604.65" font-size="7.0" fill="#231f20" stroke="#231f20" stroke-width="0.1" textLength="7.00" lengthAdjust="spacingAndGlyphs">75</text>
<line x1="83.60" y1="582.94" x2="87.40" y2="582.94" stroke="#231f20" stroke-width="0.9"/>
<text x="70.70" y="585.44" font-size="7.0" fill="#231f20" stroke="#231f20" stroke-width="0.1" textLength="10.50" lengthAdjust="spacingAndGlyphs">100</text>
<text transform="translate(54.70,655.70) rotate(-90)" x="0" y="0" font-size="9.4" fill="#231f20" stroke="#231f20" stroke-width="0.0" font-weight="bold" textLength="82.60" lengthAdjust="spacingAndGlyphs">Viable cells rel. to ctrl. [%]</text>
<text transform="translate(65.00,655.70) rotate(-90)" x="0" y="0" font-size="9.4" fill="#231f20" stroke="#231f20" stroke-width="0.0" font-weight="bold" textLength="84.20" lengthAdjust="spacingAndGlyphs">annexin V / 7AAD negative</text>
<rect x="91.20" y="582.94" width="12.40" height="76.86" fill="#d4d4d4"/>
<rect x="106.50" y="582.94" width="12.40" height="76.86" fill="#4a4a4a"/>
<rect x="125.40" y="610.61" width="12.40" height="49.19" fill="#d4d4d4"/>
<line x1="131.60" y1="608.30" x2="131.60" y2="612.92" stroke="#231f20" stroke-width="0.9"/>
<line x1="129.40" y1="608.30" x2="133.80" y2="608.30" stroke="#231f20" stroke-width="0.9"/>
<line x1="129.40" y1="612.92" x2="133.80" y2="612.92" stroke="#231f20" stroke-width="0.9"/>
<rect x="141.10" y="596.01" width="12.40" height="63.79" fill="#4a4a4a"/>
<line x1="147.30" y1="595.24" x2="147.30" y2="596.77" stroke="#231f20" stroke-width="0.9"/>
<line x1="145.10" y1="595.24" x2="149.50" y2="595.24" stroke="#231f20" stroke-width="0.9"/>
<line x1="145.10" y1="596.77" x2="149.50" y2="596.77" stroke="#231f20" stroke-width="0.9"/>
<rect x="160.00" y="607.07" width="12.40" height="52.73" fill="#d4d4d4"/>
<line x1="166.20" y1="605.92" x2="166.20" y2="608.23" stroke="#231f20" stroke-width="0.9"/>
<line x1="164.00" y1="605.92" x2="168.40" y2="605.92" stroke="#231f20" stroke-width="0.9"/>
<line x1="164.00" y1="608.23" x2="168.40" y2="608.23" stroke="#231f20" stroke-width="0.9"/>
<rect x="175.70" y="606.00" width="12.40" height="53.80" fill="#4a4a4a"/>
<line x1="181.90" y1="603.69" x2="181.90" y2="608.30" stroke="#231f20" stroke-width="0.9"/>
<line x1="179.70" y1="603.69" x2="184.10" y2="603.69" stroke="#231f20" stroke-width="0.9"/>
<line x1="179.70" y1="608.30" x2="184.10" y2="608.30" stroke="#231f20" stroke-width="0.9"/>
<rect x="194.60" y="622.14" width="12.40" height="37.66" fill="#d4d4d4"/>
<line x1="200.80" y1="617.91" x2="200.80" y2="626.37" stroke="#231f20" stroke-width="0.9"/>
<line x1="198.60" y1="617.91" x2="203.00" y2="617.91" stroke="#231f20" stroke-width="0.9"/>
<line x1="198.60" y1="626.37" x2="203.00" y2="626.37" stroke="#231f20" stroke-width="0.9"/>
<rect x="210.00" y="621.75" width="12.40" height="38.05" fill="#4a4a4a"/>
<line x1="216.20" y1="618.68" x2="216.20" y2="624.83" stroke="#231f20" stroke-width="0.9"/>
<line x1="214.00" y1="618.68" x2="218.40" y2="618.68" stroke="#231f20" stroke-width="0.9"/>
<line x1="214.00" y1="624.83" x2="218.40" y2="624.83" stroke="#231f20" stroke-width="0.9"/>
<text x="92.00" y="578.20" font-size="5.6" fill="#231f20" stroke="#231f20" stroke-width="0.08">n=4</text>
<rect x="108.00" y="558.00" width="9.30" height="6.30" fill="#d4d4d4"/>
<text x="120.30" y="562.80" font-size="6.2" fill="#231f20" stroke="#231f20" stroke-width="0.08" textLength="29.30" lengthAdjust="spacingAndGlyphs">Hut78-GFP</text>
<rect x="159.50" y="558.00" width="9.30" height="6.30" fill="#4a4a4a"/>
<text x="171.50" y="562.80" font-size="6.2" fill="#231f20" stroke="#231f20" stroke-width="0.08" textLength="36.50" lengthAdjust="spacingAndGlyphs">Hut78-TCL1A</text>
<line x1="147.30" y1="577.70" x2="181.90" y2="577.70" stroke="#444" stroke-width="1.1"/>
<text x="153.00" y="573.20" font-size="6.2" fill="#231f20" stroke="#231f20" stroke-width="0.08" textLength="24.30" lengthAdjust="spacingAndGlyphs">P=0.0057</text>
<line x1="131.80" y1="590.00" x2="147.30" y2="590.00" stroke="#444" stroke-width="1.1"/>
<text x="128.20" y="585.20" font-size="6.2" fill="#231f20" stroke="#231f20" stroke-width="0.08" textLength="24.40" lengthAdjust="spacingAndGlyphs">P=0.0009</text>
<line x1="166.50" y1="590.00" x2="201.00" y2="590.00" stroke="#444" stroke-width="1.1"/>
<text x="174.30" y="585.20" font-size="6.2" fill="#231f20" stroke="#231f20" stroke-width="0.08" textLength="18.50" lengthAdjust="spacingAndGlyphs">P=0.03</text>
<line x1="182.00" y1="600.00" x2="217.20" y2="600.00" stroke="#444" stroke-width="1.1"/>
<text x="187.20" y="595.80" font-size="6.2" fill="#231f20" stroke="#231f20" stroke-width="0.08" textLength="24.80" lengthAdjust="spacingAndGlyphs">P=0.0065</text>
<line x1="104.60" y1="667.20" x2="106.20" y2="667.20" stroke="#3a3a3a" stroke-width="0.9"/>
<line x1="104.60" y1="677.60" x2="106.20" y2="677.60" stroke="#3a3a3a" stroke-width="0.9"/>
<line x1="139.00" y1="667.20" x2="140.60" y2="667.20" stroke="#3a3a3a" stroke-width="0.9"/>
<line x1="138.10" y1="677.30" x2="141.50" y2="677.30" stroke="#3a3a3a" stroke-width="0.85"/>
<line x1="139.80" y1="675.60" x2="139.80" y2="679.00" stroke="#3a3a3a" stroke-width="0.85"/>
<line x1="172.50" y1="666.90" x2="175.90" y2="666.90" stroke="#3a3a3a" stroke-width="0.85"/>
<line x1="174.20" y1="665.20" x2="174.20" y2="668.60" stroke="#3a3a3a" stroke-width="0.85"/>
<line x1="173.40" y1="677.60" x2="175.00" y2="677.60" stroke="#3a3a3a" stroke-width="0.9"/>
<line x1="206.60" y1="666.90" x2="210.00" y2="666.90" stroke="#3a3a3a" stroke-width="0.85"/>
<line x1="208.30" y1="665.20" x2="208.30" y2="668.60" stroke="#3a3a3a" stroke-width="0.85"/>
<line x1="206.60" y1="677.30" x2="210.00" y2="677.30" stroke="#3a3a3a" stroke-width="0.85"/>
<line x1="208.30" y1="675.60" x2="208.30" y2="679.00" stroke="#3a3a3a" stroke-width="0.85"/>
<text x="223.10" y="669.10" font-size="7.0" fill="#231f20" stroke="#231f20" stroke-width="0.12" textLength="78.90" lengthAdjust="spacingAndGlyphs">TAT-TCL1A decoy [50 μM]</text>
<text x="223.10" y="679.20" font-size="7.0" fill="#231f20" stroke="#231f20" stroke-width="0.12" textLength="62.00" lengthAdjust="spacingAndGlyphs">anti-CD95 [1 μg/mL]</text>
<text x="238.60" y="573.80" font-size="7.0" fill="#231f20" stroke="#231f20" stroke-width="0.12" textLength="20.10" lengthAdjust="spacingAndGlyphs">TCL1A</text>
<defs><clipPath id="pc"><path d="M 248.1 579.4 C 250.1 578.1, 254.4 578.3, 257.4 577.7 C 260.3 577.1, 263.6 575.4, 265.8 576.0 C 268.1 576.6, 269.2 579.8, 270.9 581.1 C 272.6 582.4, 274.0 583.5, 276.0 583.6 C 278.0 583.7, 281.4 583.3, 282.8 581.9 C 284.2 580.5, 283.7 577.2, 284.5 575.2 C 285.3 573.2, 286.1 571.2, 287.8 570.1 C 289.5 569.0, 292.6 568.4, 294.6 568.4 C 296.6 568.4, 298.3 569.0, 299.7 570.1 C 301.1 571.2, 302.2 573.2, 303.1 575.2 C 304.0 577.2, 303.7 579.9, 304.8 581.9 C 305.9 583.9, 308.4 585.0, 309.8 587.0 C 311.2 589.0, 312.2 591.5, 313.2 593.8 C 314.2 596.0, 315.8 598.5, 315.8 600.5 C 315.8 602.5, 313.9 603.3, 313.2 605.6 C 312.5 607.9, 312.2 611.3, 311.5 614.1 C 310.8 616.9, 309.6 620.0, 309.0 622.5 C 308.4 625.0, 309.1 627.0, 308.1 629.3 C 307.1 631.6, 305.1 634.4, 303.1 636.1 C 301.1 637.8, 298.3 638.4, 296.3 639.5 C 294.3 640.6, 292.9 641.4, 291.2 642.8 C 289.5 644.2, 287.8 646.8, 286.1 647.9 C 284.4 649.0, 282.5 650.2, 281.1 649.6 C 279.7 649.0, 279.4 645.6, 277.7 644.5 C 276.0 643.4, 273.2 644.2, 270.9 642.8 C 268.6 641.4, 266.4 637.8, 264.1 636.1 C 261.9 634.4, 259.9 633.8, 257.4 632.7 C 254.9 631.6, 251.7 631.0, 248.9 629.3 C 246.1 627.6, 242.8 625.0, 240.5 622.5 C 238.2 620.0, 236.4 616.9, 235.4 614.1 C 234.4 611.3, 234.2 608.2, 234.5 605.6 C 234.8 603.0, 235.8 601.0, 237.1 598.8 C 238.4 596.5, 240.8 594.4, 242.2 592.1 C 243.6 589.9, 244.5 587.4, 245.5 585.3 C 246.5 583.2, 246.1 580.7, 248.1 579.4 Z"/></clipPath><filter id="surf" x="225" y="560" width="100" height="100" filterUnits="userSpaceOnUse"><feTurbulence type="fractalNoise" baseFrequency="0.2" numOctaves="2" seed="7" result="n0"/><feGaussianBlur in="n0" stdDeviation="0.55" result="n"/><feDiffuseLighting in="n" surfaceScale="3.2" diffuseConstant="1.2" lighting-color="#ffffff" result="dl"><feDistantLight azimuth="235" elevation="52"/></feDiffuseLighting><feSpecularLighting in="n" surfaceScale="3.2" specularConstant="1.0" specularExponent="16" lighting-color="#ffffff" result="sl"><feDistantLight azimuth="235" elevation="55"/></feSpecularLighting><feComposite in="SourceGraphic" in2="dl" operator="arithmetic" k1="1.08" k2="0" k3="0" k4="0" result="lit"/><feComposite in="sl" in2="SourceAlpha" operator="in" result="sl2"/><feComposite in="lit" in2="sl2" operator="arithmetic" k1="0" k2="1" k3="0.45" k4="0"/></filter></defs>
<g clip-path="url(#pc)">
<rect x="228" y="562" width="92" height="92" fill="#464844"/>
<g filter="url(#b6)">
<circle cx="247.7" cy="580.3" r="2.1" fill="#787a76"/>
<circle cx="247.1" cy="579.7" r="1.1" fill="#dcdcd8" opacity="0.6" filter="url(#b5)"/>
<circle cx="255.2" cy="578.3" r="2.3" fill="#6b6d6a"/>
<circle cx="254.5" cy="577.6" r="1.3" fill="#dcdcd8" opacity="0.6" filter="url(#b5)"/>
<circle cx="254.9" cy="579.2" r="2.3" fill="#6c6e6a"/>
<circle cx="254.2" cy="578.5" r="1.3" fill="#dcdcd8" opacity="0.6" filter="url(#b5)"/>
<circle cx="250.8" cy="580.6" r="1.8" fill="#6d6f6b"/>
<circle cx="250.2" cy="580.1" r="1.0" fill="#dcdcd8" opacity="0.6" filter="url(#b5)"/>
<circle cx="246.6" cy="583.6" r="2.1" fill="#6b9457"/>
<circle cx="246.0" cy="582.9" r="1.1" fill="#cee6be" opacity="0.6" filter="url(#b5)"/>
<circle cx="259.2" cy="580.0" r="2.4" fill="#71736f"/>
<circle cx="258.5" cy="579.3" r="1.3" fill="#dcdcd8" opacity="0.6" filter="url(#b5)"/>
<circle cx="253.1" cy="582.0" r="2.7" fill="#676965"/>
<circle cx="252.3" cy="581.2" r="1.5" fill="#dcdcd8" opacity="0.6" filter="url(#b5)"/>
<circle cx="263.8" cy="579.1" r="2.0" fill="#6d6f6b"/>
<circle cx="263.2" cy="578.5" r="1.1" fill="#dcdcd8" opacity="0.6" filter="url(#b5)"/>
<circle cx="289.6" cy="571.4" r="2.2" fill="#7aa465"/>
<circle cx="288.9" cy="570.7" r="1.2" fill="#cee6be" opacity="0.6" filter="url(#b5)"/>
<circle cx="294.8" cy="570.2" r="2.1" fill="#61864f"/>
<circle cx="294.2" cy="569.6" r="1.1" fill="#cee6be" opacity="0.6" filter="url(#b5)"/>
<circle cx="247.5" cy="584.5" r="2.6" fill="#6e985a"/>
<circle cx="246.7" cy="583.7" r="1.4" fill="#cee6be" opacity="0.6" filter="url(#b5)"/>
<circle cx="247.3" cy="584.6" r="2.6" fill="#767874"/>
<circle cx="246.5" cy="583.8" r="1.4" fill="#dcdcd8" opacity="0.6" filter="url(#b5)"/>
<circle cx="295.0" cy="570.3" r="2.2" fill="#6d9759"/>
<circle cx="294.4" cy="569.7" r="1.2" fill="#cee6be" opacity="0.6" filter="url(#b5)"/>
<circle cx="261.3" cy="580.5" r="2.5" fill="#666864"/>
<circle cx="260.5" cy="579.8" r="1.4" fill="#dcdcd8" opacity="0.6" filter="url(#b5)"/>
<circle cx="287.8" cy="573.0" r="3.0" fill="#7da669"/>
<circle cx="286.9" cy="572.1" r="1.6" fill="#cee6be" opacity="0.6" filter="url(#b5)"/>
<circle cx="254.8" cy="583.3" r="2.3" fill="#70726e"/>
<circle cx="254.1" cy="582.6" r="1.3" fill="#dcdcd8" opacity="0.6" filter="url(#b5)"/>
<circle cx="249.2" cy="587.2" r="2.7" fill="#628750"/>
<circle cx="248.4" cy="586.4" r="1.5" fill="#cee6be" opacity="0.6" filter="url(#b5)"/>
<circle cx="293.4" cy="574.1" r="2.3" fill="#79a464"/>
<circle cx="292.7" cy="573.4" r="1.3" fill="#cee6be" opacity="0.6" filter="url(#b5)"/>
<circle cx="270.3" cy="581.2" r="2.7" fill="#7f807d"/>
<circle cx="269.5" cy="580.4" r="1.5" fill="#dcdcd8" opacity="0.6" filter="url(#b5)"/>
<circle cx="262.8" cy="583.5" r="3.0" fill="#737571"/>
<circle cx="261.9" cy="582.6" r="1.6" fill="#dcdcd8" opacity="0.6" filter="url(#b5)"/>
<circle cx="246.0" cy="588.6" r="2.6" fill="#6f9a5a"/>
<circle cx="245.2" cy="587.8" r="1.4" fill="#cee6be" opacity="0.6" filter="url(#b5)"/>
<circle cx="301.4" cy="572.5" r="2.2" fill="#74a05e"/>
<circle cx="300.7" cy="571.8" r="1.2" fill="#cee6be" opacity="0.6" filter="url(#b5)"/>
<circle cx="287.1" cy="576.9" r="2.7" fill="#84ab71"/>
<circle cx="286.3" cy="576.1" r="1.5" fill="#cee6be" opacity="0.6" filter="url(#b5)"/>
<circle cx="255.6" cy="586.6" r="2.8" fill="#747672"/>
<circle cx="254.8" cy="585.8" r="1.5" fill="#dcdcd8" opacity="0.6" filter="url(#b5)"/>
<circle cx="246.6" cy="589.3" r="2.0" fill="#61864f"/>
<circle cx="246.0" cy="588.7" r="1.1" fill="#cee6be" opacity="0.6" filter="url(#b5)"/>
<circle cx="247.6" cy="589.2" r="2.6" fill="#76a261"/>
<circle cx="246.9" cy="588.4" r="1.4" fill="#cee6be" opacity="0.6" filter="url(#b5)"/>
<circle cx="267.9" cy="583.2" r="2.1" fill="#656663"/>
<circle cx="267.2" cy="582.5" r="1.2" fill="#dcdcd8" opacity="0.6" filter="url(#b5)"/>
<circle cx="290.4" cy="577.0" r="3.0" fill="#6d9658"/>
<circle cx="289.5" cy="576.1" r="1.6" fill="#cee6be" opacity="0.6" filter="url(#b5)"/>
<circle cx="295.0" cy="575.7" r="2.3" fill="#658b52"/>
<circle cx="294.3" cy="575.0" r="1.3" fill="#cee6be" opacity="0.6" filter="url(#b5)"/>
<circle cx="259.3" cy="586.8" r="1.8" fill="#787a76"/>
<circle cx="258.7" cy="586.3" r="1.0" fill="#dcdcd8" opacity="0.6" filter="url(#b5)"/>
<circle cx="273.1" cy="583.0" r="2.2" fill="#787976"/>
<circle cx="272.4" cy="582.3" r="1.2" fill="#dcdcd8" opacity="0.6" filter="url(#b5)"/>
<circle cx="243.2" cy="592.0" r="1.9" fill="#6f9a5a"/>
<circle cx="242.6" cy="591.4" r="1.0" fill="#cee6be" opacity="0.6" filter="url(#b5)"/>
<circle cx="265.5" cy="585.4" r="1.8" fill="#81827f"/>
<circle cx="264.9" cy="584.9" r="1.0" fill="#dcdcd8" opacity="0.6" filter="url(#b5)"/>
<circle cx="248.6" cy="590.6" r="2.9" fill="#696b68"/>
<circle cx="247.7" cy="589.7" r="1.6" fill="#dcdcd8" opacity="0.6" filter="url(#b5)"/>
<circle cx="250.7" cy="590.0" r="1.9" fill="#616360"/>
<circle cx="250.1" cy="589.4" r="1.0" fill="#dcdcd8" opacity="0.6" filter="url(#b5)"/>
<circle cx="250.3" cy="590.3" r="2.2" fill="#6f716d"/>
<circle cx="249.7" cy="589.6" r="1.2" fill="#dcdcd8" opacity="0.6" filter="url(#b5)"/>
<circle cx="301.3" cy="575.1" r="2.4" fill="#648951"/>
<circle cx="300.6" cy="574.4" r="1.3" fill="#cee6be" opacity="0.6" filter="url(#b5)"/>
<circle cx="273.4" cy="583.9" r="1.9" fill="#686966"/>
<circle cx="272.9" cy="583.3" r="1.0" fill="#dcdcd8" opacity="0.6" filter="url(#b5)"/>
<circle cx="244.1" cy="593.0" r="2.1" fill="#6e9759"/>
<circle cx="243.5" cy="592.3" r="1.2" fill="#cee6be" opacity="0.6" filter="url(#b5)"/>
<circle cx="250.6" cy="591.1" r="2.9" fill="#6f995a"/>
<circle cx="249.7" cy="590.2" r="1.6" fill="#cee6be" opacity="0.6" filter="url(#b5)"/>
<circle cx="252.0" cy="590.9" r="2.2" fill="#7d7e7b"/>
<circle cx="251.3" cy="590.3" r="1.2" fill="#dcdcd8" opacity="0.6" filter="url(#b5)"/>
<circle cx="250.1" cy="591.6" r="2.7" fill="#658b51"/>
<circle cx="249.3" cy="590.8" r="1.5" fill="#cee6be" opacity="0.6" filter="url(#b5)"/>
<circle cx="273.3" cy="584.7" r="2.6" fill="#6b6d69"/>
<circle cx="272.5" cy="583.9" r="1.5" fill="#dcdcd8" opacity="0.6" filter="url(#b5)"/>
<circle cx="300.9" cy="576.6" r="2.0" fill="#83aa70"/>
<circle cx="300.3" cy="576.1" r="1.1" fill="#cee6be" opacity="0.6" filter="url(#b5)"/>
<circle cx="286.9" cy="581.2" r="2.9" fill="#648b51"/>
<circle cx="286.1" cy="580.4" r="1.6" fill="#cee6be" opacity="0.6" filter="url(#b5)"/>
<circle cx="302.0" cy="577.2" r="2.0" fill="#79a363"/>
<circle cx="301.4" cy="576.6" r="1.1" fill="#cee6be" opacity="0.6" filter="url(#b5)"/>
<circle cx="274.2" cy="585.8" r="2.8" fill="#5e605d"/>
<circle cx="273.3" cy="584.9" r="1.5" fill="#dcdcd8" opacity="0.6" filter="url(#b5)"/>
<circle cx="242.9" cy="595.5" r="2.3" fill="#83aa70"/>
<circle cx="242.2" cy="594.8" r="1.3" fill="#cee6be" opacity="0.6" filter="url(#b5)"/>
<circle cx="291.7" cy="581.0" r="1.9" fill="#61854e"/>
<circle cx="291.1" cy="580.4" r="1.0" fill="#cee6be" opacity="0.6" filter="url(#b5)"/>
<circle cx="259.6" cy="590.7" r="1.9" fill="#666865"/>
<circle cx="259.0" cy="590.1" r="1.0" fill="#dcdcd8" opacity="0.6" filter="url(#b5)"/>
<circle cx="263.3" cy="589.7" r="2.7" fill="#696b67"/>
<circle cx="262.4" cy="588.9" r="1.5" fill="#dcdcd8" opacity="0.6" filter="url(#b5)"/>
<circle cx="278.1" cy="585.3" r="2.1" fill="#7e807c"/>
<circle cx="277.4" cy="584.7" r="1.2" fill="#dcdcd8" opacity="0.6" filter="url(#b5)"/>
<circle cx="271.0" cy="587.6" r="2.5" fill="#6f716d"/>
<circle cx="270.3" cy="586.8" r="1.4" fill="#dcdcd8" opacity="0.6" filter="url(#b5)"/>
<circle cx="281.9" cy="584.5" r="2.3" fill="#6a9256"/>
<circle cx="281.2" cy="583.8" r="1.2" fill="#cee6be" opacity="0.6" filter="url(#b5)"/>
<circle cx="288.6" cy="582.4" r="2.7" fill="#6c9557"/>
<circle cx="287.8" cy="581.6" r="1.5" fill="#cee6be" opacity="0.6" filter="url(#b5)"/>
<circle cx="242.9" cy="596.2" r="2.7" fill="#6c9457"/>
<circle cx="242.1" cy="595.4" r="1.5" fill="#cee6be" opacity="0.6" filter="url(#b5)"/>
<circle cx="267.4" cy="588.9" r="2.8" fill="#5f615e"/>
<circle cx="266.6" cy="588.0" r="1.5" fill="#dcdcd8" opacity="0.6" filter="url(#b5)"/>
<circle cx="241.8" cy="596.6" r="2.9" fill="#719d5c"/>
<circle cx="241.0" cy="595.7" r="1.6" fill="#cee6be" opacity="0.6" filter="url(#b5)"/>
<circle cx="258.0" cy="592.0" r="1.9" fill="#656763"/>
<circle cx="257.5" cy="591.4" r="1.0" fill="#dcdcd8" opacity="0.6" filter="url(#b5)"/>
<circle cx="291.6" cy="581.9" r="2.4" fill="#6a9256"/>
<circle cx="290.9" cy="581.2" r="1.3" fill="#cee6be" opacity="0.6" filter="url(#b5)"/>
<circle cx="287.9" cy="583.1" r="2.5" fill="#7aa465"/>
<circle cx="287.2" cy="582.3" r="1.4" fill="#cee6be" opacity="0.6" filter="url(#b5)"/>
<circle cx="279.7" cy="585.8" r="2.4" fill="#6b6d6a"/>
<circle cx="279.0" cy="585.0" r="1.3" fill="#dcdcd8" opacity="0.6" filter="url(#b5)"/>
<circle cx="258.4" cy="592.3" r="2.9" fill="#727470"/>
<circle cx="257.6" cy="591.5" r="1.6" fill="#dcdcd8" opacity="0.6" filter="url(#b5)"/>
<circle cx="243.7" cy="596.9" r="1.9" fill="#74a05e"/>
<circle cx="243.1" cy="596.4" r="1.1" fill="#cee6be" opacity="0.6" filter="url(#b5)"/>
<circle cx="299.8" cy="580.1" r="1.9" fill="#74a05e"/>
<circle cx="299.3" cy="579.6" r="1.0" fill="#cee6be" opacity="0.6" filter="url(#b5)"/>
<circle cx="246.5" cy="596.1" r="3.0" fill="#709b5b"/>
<circle cx="245.6" cy="595.3" r="1.6" fill="#cee6be" opacity="0.6" filter="url(#b5)"/>
<circle cx="302.0" cy="579.6" r="2.2" fill="#61864f"/>
<circle cx="301.3" cy="578.9" r="1.2" fill="#cee6be" opacity="0.6" filter="url(#b5)"/>
<circle cx="241.3" cy="597.9" r="2.6" fill="#699055"/>
<circle cx="240.5" cy="597.1" r="1.4" fill="#cee6be" opacity="0.6" filter="url(#b5)"/>
<circle cx="265.4" cy="590.8" r="2.3" fill="#7d7f7b"/>
<circle cx="264.7" cy="590.1" r="1.3" fill="#dcdcd8" opacity="0.6" filter="url(#b5)"/>
<circle cx="301.7" cy="580.0" r="2.5" fill="#77a262"/>
<circle cx="301.0" cy="579.2" r="1.4" fill="#cee6be" opacity="0.6" filter="url(#b5)"/>
<circle cx="303.9" cy="579.4" r="2.1" fill="#7ea769"/>
<circle cx="303.2" cy="578.8" r="1.2" fill="#cee6be" opacity="0.6" filter="url(#b5)"/>
<circle cx="268.2" cy="590.3" r="3.0" fill="#7b7d79"/>
<circle cx="267.4" cy="589.4" r="1.6" fill="#dcdcd8" opacity="0.6" filter="url(#b5)"/>
<circle cx="276.8" cy="587.7" r="2.5" fill="#5f615e"/>
<circle cx="276.0" cy="587.0" r="1.4" fill="#dcdcd8" opacity="0.6" filter="url(#b5)"/>
<circle cx="245.9" cy="597.2" r="2.5" fill="#75a15f"/>
<circle cx="245.1" cy="596.4" r="1.4" fill="#cee6be" opacity="0.6" filter="url(#b5)"/>
<circle cx="254.5" cy="595.1" r="2.6" fill="#747672"/>
<circle cx="253.7" cy="594.3" r="1.5" fill="#dcdcd8" opacity="0.6" filter="url(#b5)"/>
<circle cx="280.9" cy="587.6" r="2.6" fill="#787a77"/>
<circle cx="280.1" cy="586.8" r="1.4" fill="#dcdcd8" opacity="0.6" filter="url(#b5)"/>
<circle cx="259.4" cy="594.0" r="2.7" fill="#787a76"/>
<circle cx="258.6" cy="593.2" r="1.5" fill="#dcdcd8" opacity="0.6" filter="url(#b5)"/>
<circle cx="280.4" cy="587.8" r="2.9" fill="#828480"/>
<circle cx="279.6" cy="586.9" r="1.6" fill="#dcdcd8" opacity="0.6" filter="url(#b5)"/>
<circle cx="289.2" cy="585.4" r="1.8" fill="#7ca567"/>
<circle cx="288.6" cy="584.8" r="1.0" fill="#cee6be" opacity="0.6" filter="url(#b5)"/>
<circle cx="289.9" cy="585.6" r="1.9" fill="#6c9558"/>
<circle cx="289.3" cy="585.0" r="1.1" fill="#cee6be" opacity="0.6" filter="url(#b5)"/>
<circle cx="288.4" cy="586.1" r="2.1" fill="#638950"/>
<circle cx="287.8" cy="585.5" r="1.1" fill="#cee6be" opacity="0.6" filter="url(#b5)"/>
<circle cx="266.3" cy="592.9" r="2.4" fill="#60625e"/>
<circle cx="265.6" cy="592.2" r="1.3" fill="#dcdcd8" opacity="0.6" filter="url(#b5)"/>
<circle cx="264.5" cy="593.5" r="2.4" fill="#dfd12c"/>
<circle cx="263.8" cy="592.8" r="1.3" fill="#faf496" opacity="0.6" filter="url(#b5)"/>
<circle cx="241.2" cy="600.6" r="1.9" fill="#638950"/>
<circle cx="240.6" cy="600.0" r="1.0" fill="#cee6be" opacity="0.6" filter="url(#b5)"/>
<circle cx="264.7" cy="593.8" r="2.3" fill="#dbce28"/>
<circle cx="264.0" cy="593.1" r="1.3" fill="#faf496" opacity="0.6" filter="url(#b5)"/>
<circle cx="277.4" cy="590.1" r="2.7" fill="#6c6e6a"/>
<circle cx="276.6" cy="589.3" r="1.5" fill="#dcdcd8" opacity="0.6" filter="url(#b5)"/>
<circle cx="296.1" cy="584.7" r="2.1" fill="#638951"/>
<circle cx="295.4" cy="584.1" r="1.2" fill="#cee6be" opacity="0.6" filter="url(#b5)"/>
<circle cx="259.0" cy="596.0" r="2.5" fill="#5f605d"/>
<circle cx="258.2" cy="595.2" r="1.4" fill="#dcdcd8" opacity="0.6" filter="url(#b5)"/>
<circle cx="265.5" cy="594.4" r="3.0" fill="#757773"/>
<circle cx="264.6" cy="593.5" r="1.6" fill="#dcdcd8" opacity="0.6" filter="url(#b5)"/>
<circle cx="249.0" cy="599.5" r="2.8" fill="#767874"/>
<circle cx="248.1" cy="598.6" r="1.6" fill="#dcdcd8" opacity="0.6" filter="url(#b5)"/>
<circle cx="296.1" cy="585.5" r="1.9" fill="#638850"/>
<circle cx="295.5" cy="584.9" r="1.1" fill="#cee6be" opacity="0.6" filter="url(#b5)"/>
<circle cx="272.9" cy="592.5" r="2.0" fill="#727470"/>
<circle cx="272.3" cy="591.9" r="1.1" fill="#dcdcd8" opacity="0.6" filter="url(#b5)"/>
<circle cx="275.6" cy="591.8" r="2.2" fill="#636561"/>
<circle cx="275.0" cy="591.1" r="1.2" fill="#dcdcd8" opacity="0.6" filter="url(#b5)"/>
<circle cx="286.3" cy="588.7" r="2.1" fill="#719c5c"/>
<circle cx="285.7" cy="588.0" r="1.1" fill="#cee6be" opacity="0.6" filter="url(#b5)"/>
<circle cx="294.0" cy="586.6" r="2.8" fill="#7ea76a"/>
<circle cx="293.2" cy="585.7" r="1.5" fill="#cee6be" opacity="0.6" filter="url(#b5)"/>
<circle cx="294.4" cy="586.7" r="2.7" fill="#709a5b"/>
<circle cx="293.6" cy="585.9" r="1.5" fill="#cee6be" opacity="0.6" filter="url(#b5)"/>
<circle cx="293.4" cy="587.1" r="2.8" fill="#78a363"/>
<circle cx="292.6" cy="586.3" r="1.5" fill="#cee6be" opacity="0.6" filter="url(#b5)"/>
<circle cx="253.6" cy="599.4" r="2.9" fill="#787976"/>
<circle cx="252.7" cy="598.5" r="1.6" fill="#dcdcd8" opacity="0.6" filter="url(#b5)"/>
<circle cx="283.7" cy="590.4" r="2.0" fill="#61864f"/>
<circle cx="283.1" cy="589.8" r="1.1" fill="#cee6be" opacity="0.6" filter="url(#b5)"/>
<circle cx="298.0" cy="586.1" r="2.1" fill="#79a364"/>
<circle cx="297.4" cy="585.5" r="1.2" fill="#cee6be" opacity="0.6" filter="url(#b5)"/>
<circle cx="301.2" cy="585.2" r="2.4" fill="#739e5d"/>
<circle cx="300.5" cy="584.5" r="1.3" fill="#cee6be" opacity="0.6" filter="url(#b5)"/>
<circle cx="262.6" cy="596.9" r="2.2" fill="#959156"/>
<circle cx="261.9" cy="596.2" r="1.2" fill="#e4e0a8" opacity="0.6" filter="url(#b5)"/>
<circle cx="249.8" cy="600.7" r="2.6" fill="#7aa465"/>
<circle cx="249.0" cy="599.9" r="1.5" fill="#cee6be" opacity="0.6" filter="url(#b5)"/>
<circle cx="255.5" cy="599.3" r="2.5" fill="#7c7e7b"/>
<circle cx="254.8" cy="598.5" r="1.4" fill="#dcdcd8" opacity="0.6" filter="url(#b5)"/>
<circle cx="290.0" cy="588.9" r="2.6" fill="#71736f"/>
<circle cx="289.3" cy="588.1" r="1.4" fill="#dcdcd8" opacity="0.6" filter="url(#b5)"/>
<circle cx="296.5" cy="587.1" r="2.3" fill="#648a51"/>
<circle cx="295.8" cy="586.4" r="1.3" fill="#cee6be" opacity="0.6" filter="url(#b5)"/>
<circle cx="280.4" cy="592.1" r="2.3" fill="#7b7d79"/>
<circle cx="279.7" cy="591.4" r="1.2" fill="#dcdcd8" opacity="0.6" filter="url(#b5)"/>
<circle cx="241.2" cy="603.9" r="2.6" fill="#678e53"/>
<circle cx="240.4" cy="603.1" r="1.4" fill="#cee6be" opacity="0.6" filter="url(#b5)"/>
<circle cx="281.4" cy="591.8" r="2.7" fill="#727470"/>
<circle cx="280.5" cy="591.0" r="1.5" fill="#dcdcd8" opacity="0.6" filter="url(#b5)"/>
<circle cx="259.0" cy="598.6" r="1.9" fill="#71736f"/>
<circle cx="258.4" cy="598.0" r="1.0" fill="#dcdcd8" opacity="0.6" filter="url(#b5)"/>
<circle cx="265.2" cy="596.8" r="1.9" fill="#9f9b5e"/>
<circle cx="264.7" cy="596.2" r="1.0" fill="#e4e0a8" opacity="0.6" filter="url(#b5)"/>
<circle cx="294.4" cy="588.2" r="2.2" fill="#a09c60"/>
<circle cx="293.7" cy="587.5" r="1.2" fill="#e4e0a8" opacity="0.6" filter="url(#b5)"/>
<circle cx="241.2" cy="604.2" r="2.4" fill="#79a464"/>
<circle cx="240.5" cy="603.5" r="1.3" fill="#cee6be" opacity="0.6" filter="url(#b5)"/>
<circle cx="304.7" cy="585.4" r="2.0" fill="#60844e"/>
<circle cx="304.1" cy="584.8" r="1.1" fill="#cee6be" opacity="0.6" filter="url(#b5)"/>
<circle cx="257.6" cy="599.6" r="2.1" fill="#686966"/>
<circle cx="256.9" cy="599.0" r="1.1" fill="#dcdcd8" opacity="0.6" filter="url(#b5)"/>
<circle cx="249.2" cy="602.2" r="2.1" fill="#709a5b"/>
<circle cx="248.6" cy="601.6" r="1.2" fill="#cee6be" opacity="0.6" filter="url(#b5)"/>
<circle cx="260.4" cy="599.3" r="2.6" fill="#c9bc24"/>
<circle cx="259.6" cy="598.5" r="1.4" fill="#faf496" opacity="0.6" filter="url(#b5)"/>
<circle cx="303.6" cy="586.5" r="2.0" fill="#658b52"/>
<circle cx="303.0" cy="585.8" r="1.1" fill="#cee6be" opacity="0.6" filter="url(#b5)"/>
<circle cx="258.6" cy="600.0" r="2.9" fill="#9c985a"/>
<circle cx="257.7" cy="599.1" r="1.6" fill="#e4e0a8" opacity="0.6" filter="url(#b5)"/>
<circle cx="268.5" cy="597.2" r="1.9" fill="#999558"/>
<circle cx="267.9" cy="596.7" r="1.1" fill="#e4e0a8" opacity="0.6" filter="url(#b5)"/>
<circle cx="243.0" cy="605.0" r="2.7" fill="#7ba566"/>
<circle cx="242.2" cy="604.2" r="1.5" fill="#cee6be" opacity="0.6" filter="url(#b5)"/>
<circle cx="302.4" cy="587.2" r="2.9" fill="#82aa6e"/>
<circle cx="301.6" cy="586.4" r="1.6" fill="#cee6be" opacity="0.6" filter="url(#b5)"/>
<circle cx="291.7" cy="590.9" r="2.7" fill="#8b8750"/>
<circle cx="290.9" cy="590.1" r="1.5" fill="#e4e0a8" opacity="0.6" filter="url(#b5)"/>
<circle cx="289.3" cy="591.7" r="2.6" fill="#777976"/>
<circle cx="288.5" cy="590.9" r="1.4" fill="#dcdcd8" opacity="0.6" filter="url(#b5)"/>
<circle cx="265.6" cy="598.9" r="2.0" fill="#9a9659"/>
<circle cx="265.0" cy="598.3" r="1.1" fill="#e4e0a8" opacity="0.6" filter="url(#b5)"/>
<circle cx="254.4" cy="602.3" r="2.5" fill="#81837f"/>
<circle cx="253.6" cy="601.5" r="1.4" fill="#dcdcd8" opacity="0.6" filter="url(#b5)"/>
<circle cx="267.7" cy="598.6" r="2.1" fill="#9e9a5d"/>
<circle cx="267.1" cy="598.0" r="1.1" fill="#e4e0a8" opacity="0.6" filter="url(#b5)"/>
<circle cx="273.4" cy="596.9" r="2.1" fill="#85814d"/>
<circle cx="272.8" cy="596.3" r="1.2" fill="#e4e0a8" opacity="0.6" filter="url(#b5)"/>
<circle cx="294.5" cy="590.6" r="1.8" fill="#84ab71"/>
<circle cx="293.9" cy="590.1" r="1.0" fill="#cee6be" opacity="0.6" filter="url(#b5)"/>
<circle cx="272.5" cy="597.4" r="2.8" fill="#837f4b"/>
<circle cx="271.7" cy="596.6" r="1.5" fill="#e4e0a8" opacity="0.6" filter="url(#b5)"/>
<circle cx="279.3" cy="595.7" r="2.4" fill="#5e605d"/>
<circle cx="278.6" cy="595.0" r="1.3" fill="#dcdcd8" opacity="0.6" filter="url(#b5)"/>
<circle cx="258.1" cy="602.2" r="2.5" fill="#9f9b5e"/>
<circle cx="257.4" cy="601.4" r="1.3" fill="#e4e0a8" opacity="0.6" filter="url(#b5)"/>
<circle cx="273.5" cy="597.6" r="2.2" fill="#6f716d"/>
<circle cx="272.8" cy="597.0" r="1.2" fill="#dcdcd8" opacity="0.6" filter="url(#b5)"/>
<circle cx="268.5" cy="599.3" r="1.9" fill="#c2b623"/>
<circle cx="267.9" cy="598.8" r="1.0" fill="#faf496" opacity="0.6" filter="url(#b5)"/>
<circle cx="260.8" cy="602.0" r="2.0" fill="#d7ca27"/>
<circle cx="260.2" cy="601.4" r="1.1" fill="#faf496" opacity="0.6" filter="url(#b5)"/>
<circle cx="246.7" cy="606.2" r="2.5" fill="#6e9759"/>
<circle cx="246.0" cy="605.5" r="1.4" fill="#cee6be" opacity="0.6" filter="url(#b5)"/>
<circle cx="263.8" cy="601.2" r="2.4" fill="#d6c927"/>
<circle cx="263.1" cy="600.5" r="1.3" fill="#faf496" opacity="0.6" filter="url(#b5)"/>
<circle cx="254.2" cy="604.1" r="1.9" fill="#9a9659"/>
<circle cx="253.7" cy="603.6" r="1.0" fill="#e4e0a8" opacity="0.6" filter="url(#b5)"/>
<circle cx="248.0" cy="606.1" r="2.0" fill="#6b9357"/>
<circle cx="247.4" cy="605.5" r="1.1" fill="#cee6be" opacity="0.6" filter="url(#b5)"/>
<circle cx="295.3" cy="592.2" r="2.9" fill="#a7a46d"/>
<circle cx="294.5" cy="591.3" r="1.6" fill="#e4e0a8" opacity="0.6" filter="url(#b5)"/>
<circle cx="249.3" cy="606.1" r="2.2" fill="#a4a067"/>
<circle cx="248.6" cy="605.4" r="1.2" fill="#e4e0a8" opacity="0.6" filter="url(#b5)"/>
<circle cx="296.4" cy="592.2" r="2.7" fill="#709b5b"/>
<circle cx="295.6" cy="591.4" r="1.5" fill="#cee6be" opacity="0.6" filter="url(#b5)"/>
<circle cx="304.2" cy="590.0" r="2.9" fill="#737571"/>
<circle cx="303.4" cy="589.1" r="1.6" fill="#dcdcd8" opacity="0.6" filter="url(#b5)"/>
<circle cx="297.8" cy="591.9" r="2.4" fill="#84814c"/>
<circle cx="297.1" cy="591.2" r="1.3" fill="#e4e0a8" opacity="0.6" filter="url(#b5)"/>
<circle cx="289.9" cy="594.4" r="2.6" fill="#5f605d"/>
<circle cx="289.2" cy="593.6" r="1.4" fill="#dcdcd8" opacity="0.6" filter="url(#b5)"/>
<circle cx="246.4" cy="607.5" r="3.0" fill="#83aa6f"/>
<circle cx="245.5" cy="606.6" r="1.6" fill="#cee6be" opacity="0.6" filter="url(#b5)"/>
<circle cx="298.2" cy="592.1" r="2.5" fill="#7ea769"/>
<circle cx="297.4" cy="591.3" r="1.4" fill="#cee6be" opacity="0.6" filter="url(#b5)"/>
<circle cx="284.9" cy="596.2" r="2.0" fill="#71736f"/>
<circle cx="284.3" cy="595.6" r="1.1" fill="#dcdcd8" opacity="0.6" filter="url(#b5)"/>
<circle cx="283.8" cy="596.9" r="2.1" fill="#5e5f5c"/>
<circle cx="283.2" cy="596.3" r="1.2" fill="#dcdcd8" opacity="0.6" filter="url(#b5)"/>
<circle cx="286.2" cy="596.3" r="2.1" fill="#828480"/>
<circle cx="285.6" cy="595.7" r="1.2" fill="#dcdcd8" opacity="0.6" filter="url(#b5)"/>
<circle cx="267.9" cy="601.8" r="2.0" fill="#908c53"/>
<circle cx="267.4" cy="601.2" r="1.1" fill="#e4e0a8" opacity="0.6" filter="url(#b5)"/>
<circle cx="241.1" cy="609.9" r="2.1" fill="#7ba566"/>
<circle cx="240.4" cy="609.3" r="1.2" fill="#cee6be" opacity="0.6" filter="url(#b5)"/>
<circle cx="284.1" cy="597.5" r="2.3" fill="#6f716e"/>
<circle cx="283.4" cy="596.8" r="1.3" fill="#dcdcd8" opacity="0.6" filter="url(#b5)"/>
<circle cx="254.2" cy="606.6" r="2.0" fill="#959156"/>
<circle cx="253.6" cy="606.0" r="1.1" fill="#e4e0a8" opacity="0.6" filter="url(#b5)"/>
<circle cx="276.4" cy="600.1" r="2.8" fill="#88854f"/>
<circle cx="275.6" cy="599.2" r="1.5" fill="#e4e0a8" opacity="0.6" filter="url(#b5)"/>
<circle cx="298.8" cy="593.4" r="2.4" fill="#969257"/>
<circle cx="298.1" cy="592.7" r="1.3" fill="#e4e0a8" opacity="0.6" filter="url(#b5)"/>
<circle cx="266.8" cy="603.1" r="2.5" fill="#8b8850"/>
<circle cx="266.1" cy="602.3" r="1.4" fill="#e4e0a8" opacity="0.6" filter="url(#b5)"/>
<circle cx="278.9" cy="599.5" r="2.1" fill="#6f716d"/>
<circle cx="278.3" cy="598.8" r="1.1" fill="#dcdcd8" opacity="0.6" filter="url(#b5)"/>
<circle cx="235.9" cy="612.5" r="2.3" fill="#668c52"/>
<circle cx="235.2" cy="611.8" r="1.3" fill="#cee6be" opacity="0.6" filter="url(#b5)"/>
<circle cx="257.5" cy="606.1" r="2.7" fill="#8f8c53"/>
<circle cx="256.7" cy="605.3" r="1.5" fill="#e4e0a8" opacity="0.6" filter="url(#b5)"/>
<circle cx="273.6" cy="601.3" r="2.8" fill="#a29e63"/>
<circle cx="272.8" cy="600.5" r="1.5" fill="#e4e0a8" opacity="0.6" filter="url(#b5)"/>
<circle cx="252.6" cy="607.9" r="1.9" fill="#797b77"/>
<circle cx="252.0" cy="607.4" r="1.1" fill="#dcdcd8" opacity="0.6" filter="url(#b5)"/>
<circle cx="246.6" cy="610.1" r="2.6" fill="#6e9759"/>
<circle cx="245.9" cy="609.3" r="1.4" fill="#cee6be" opacity="0.6" filter="url(#b5)"/>
<circle cx="236.8" cy="613.1" r="2.7" fill="#6c9457"/>
<circle cx="236.0" cy="612.3" r="1.5" fill="#cee6be" opacity="0.6" filter="url(#b5)"/>
<circle cx="292.2" cy="596.7" r="2.1" fill="#6b6d69"/>
<circle cx="291.6" cy="596.0" r="1.2" fill="#dcdcd8" opacity="0.6" filter="url(#b5)"/>
<circle cx="262.5" cy="605.7" r="1.9" fill="#a19e63"/>
<circle cx="261.9" cy="605.1" r="1.1" fill="#e4e0a8" opacity="0.6" filter="url(#b5)"/>
<circle cx="269.1" cy="603.8" r="2.1" fill="#928e54"/>
<circle cx="268.5" cy="603.1" r="1.2" fill="#e4e0a8" opacity="0.6" filter="url(#b5)"/>
<circle cx="239.2" cy="612.7" r="1.9" fill="#7aa465"/>
<circle cx="238.7" cy="612.2" r="1.0" fill="#cee6be" opacity="0.6" filter="url(#b5)"/>
<circle cx="236.6" cy="613.9" r="2.7" fill="#60844d"/>
<circle cx="235.8" cy="613.1" r="1.5" fill="#cee6be" opacity="0.6" filter="url(#b5)"/>
<circle cx="310.3" cy="591.8" r="1.9" fill="#61864f"/>
<circle cx="309.8" cy="591.3" r="1.0" fill="#cee6be" opacity="0.6" filter="url(#b5)"/>
<circle cx="271.8" cy="603.6" r="2.8" fill="#8a864f"/>
<circle cx="270.9" cy="602.8" r="1.5" fill="#e4e0a8" opacity="0.6" filter="url(#b5)"/>
<circle cx="265.5" cy="605.6" r="3.0" fill="#a6a26a"/>
<circle cx="264.6" cy="604.7" r="1.6" fill="#e4e0a8" opacity="0.6" filter="url(#b5)"/>
<circle cx="276.4" cy="602.7" r="2.5" fill="#87834e"/>
<circle cx="275.6" cy="602.0" r="1.4" fill="#e4e0a8" opacity="0.6" filter="url(#b5)"/>
<circle cx="309.2" cy="592.9" r="2.7" fill="#668c53"/>
<circle cx="308.4" cy="592.1" r="1.5" fill="#cee6be" opacity="0.6" filter="url(#b5)"/>
<circle cx="237.5" cy="614.8" r="2.4" fill="#80a86c"/>
<circle cx="236.8" cy="614.1" r="1.3" fill="#cee6be" opacity="0.6" filter="url(#b5)"/>
<circle cx="247.8" cy="611.7" r="2.3" fill="#6f995a"/>
<circle cx="247.1" cy="611.0" r="1.3" fill="#cee6be" opacity="0.6" filter="url(#b5)"/>
<circle cx="309.4" cy="593.3" r="2.7" fill="#676965"/>
<circle cx="308.6" cy="592.5" r="1.5" fill="#dcdcd8" opacity="0.6" filter="url(#b5)"/>
<circle cx="257.7" cy="608.9" r="2.9" fill="#89854f"/>
<circle cx="256.8" cy="608.0" r="1.6" fill="#e4e0a8" opacity="0.6" filter="url(#b5)"/>
<circle cx="281.1" cy="601.9" r="2.6" fill="#686a66"/>
<circle cx="280.3" cy="601.1" r="1.5" fill="#dcdcd8" opacity="0.6" filter="url(#b5)"/>
<circle cx="286.6" cy="600.4" r="2.5" fill="#70716e"/>
<circle cx="285.9" cy="599.7" r="1.4" fill="#dcdcd8" opacity="0.6" filter="url(#b5)"/>
<circle cx="251.9" cy="611.1" r="2.9" fill="#a19d62"/>
<circle cx="251.1" cy="610.2" r="1.6" fill="#e4e0a8" opacity="0.6" filter="url(#b5)"/>
<circle cx="296.4" cy="598.3" r="2.5" fill="#60625f"/>
<circle cx="295.6" cy="597.6" r="1.4" fill="#dcdcd8" opacity="0.6" filter="url(#b5)"/>
<circle cx="246.7" cy="613.3" r="1.9" fill="#6a9256"/>
<circle cx="246.1" cy="612.7" r="1.0" fill="#cee6be" opacity="0.6" filter="url(#b5)"/>
<circle cx="305.4" cy="595.9" r="2.4" fill="#6f716d"/>
<circle cx="304.7" cy="595.2" r="1.3" fill="#dcdcd8" opacity="0.6" filter="url(#b5)"/>
<circle cx="248.8" cy="612.9" r="2.4" fill="#739e5d"/>
<circle cx="248.0" cy="612.2" r="1.3" fill="#cee6be" opacity="0.6" filter="url(#b5)"/>
<circle cx="268.7" cy="607.0" r="3.0" fill="#a7a46c"/>
<circle cx="267.8" cy="606.1" r="1.6" fill="#e4e0a8" opacity="0.6" filter="url(#b5)"/>
<circle cx="295.5" cy="599.0" r="2.7" fill="#7c7e7b"/>
<circle cx="294.7" cy="598.2" r="1.5" fill="#dcdcd8" opacity="0.6" filter="url(#b5)"/>
<circle cx="238.1" cy="616.4" r="2.1" fill="#82aa6f"/>
<circle cx="237.5" cy="615.8" r="1.2" fill="#cee6be" opacity="0.6" filter="url(#b5)"/>
<circle cx="297.6" cy="598.6" r="2.9" fill="#a19d62"/>
<circle cx="296.7" cy="597.7" r="1.6" fill="#e4e0a8" opacity="0.6" filter="url(#b5)"/>
<circle cx="302.9" cy="597.2" r="2.6" fill="#636561"/>
<circle cx="302.1" cy="596.4" r="1.4" fill="#dcdcd8" opacity="0.6" filter="url(#b5)"/>
<circle cx="273.2" cy="606.2" r="2.9" fill="#8a8650"/>
<circle cx="272.3" cy="605.3" r="1.6" fill="#e4e0a8" opacity="0.6" filter="url(#b5)"/>
<circle cx="282.3" cy="603.6" r="2.8" fill="#7a7c79"/>
<circle cx="281.4" cy="602.8" r="1.5" fill="#dcdcd8" opacity="0.6" filter="url(#b5)"/>
<circle cx="296.2" cy="599.9" r="2.8" fill="#6d6f6b"/>
<circle cx="295.4" cy="599.1" r="1.5" fill="#dcdcd8" opacity="0.6" filter="url(#b5)"/>
<circle cx="264.0" cy="609.8" r="2.7" fill="#8e8b52"/>
<circle cx="263.2" cy="609.0" r="1.5" fill="#e4e0a8" opacity="0.6" filter="url(#b5)"/>
<circle cx="280.8" cy="605.2" r="1.8" fill="#9d995b"/>
<circle cx="280.2" cy="604.7" r="1.0" fill="#e4e0a8" opacity="0.6" filter="url(#b5)"/>
<circle cx="299.0" cy="600.0" r="2.8" fill="#737571"/>
<circle cx="298.1" cy="599.2" r="1.5" fill="#dcdcd8" opacity="0.6" filter="url(#b5)"/>
<circle cx="289.4" cy="603.8" r="2.9" fill="#7e807c"/>
<circle cx="288.5" cy="602.9" r="1.6" fill="#dcdcd8" opacity="0.6" filter="url(#b5)"/>
<circle cx="243.6" cy="617.6" r="1.8" fill="#729d5c"/>
<circle cx="243.0" cy="617.0" r="1.0" fill="#cee6be" opacity="0.6" filter="url(#b5)"/>
<circle cx="303.4" cy="599.8" r="2.2" fill="#7f817d"/>
<circle cx="302.7" cy="599.1" r="1.2" fill="#dcdcd8" opacity="0.6" filter="url(#b5)"/>
<circle cx="286.2" cy="605.0" r="2.0" fill="#7d7f7b"/>
<circle cx="285.6" cy="604.4" r="1.1" fill="#dcdcd8" opacity="0.6" filter="url(#b5)"/>
<circle cx="264.6" cy="611.5" r="2.4" fill="#989458"/>
<circle cx="263.9" cy="610.8" r="1.3" fill="#e4e0a8" opacity="0.6" filter="url(#b5)"/>
<circle cx="313.9" cy="596.8" r="2.2" fill="#658b52"/>
<circle cx="313.3" cy="596.1" r="1.2" fill="#cee6be" opacity="0.6" filter="url(#b5)"/>
<circle cx="309.2" cy="598.4" r="2.9" fill="#739f5e"/>
<circle cx="308.3" cy="597.5" r="1.6" fill="#cee6be" opacity="0.6" filter="url(#b5)"/>
<circle cx="251.7" cy="615.6" r="2.8" fill="#699155"/>
<circle cx="250.8" cy="614.8" r="1.5" fill="#cee6be" opacity="0.6" filter="url(#b5)"/>
<circle cx="249.9" cy="616.2" r="2.4" fill="#6b9457"/>
<circle cx="249.2" cy="615.5" r="1.3" fill="#cee6be" opacity="0.6" filter="url(#b5)"/>
<circle cx="271.9" cy="609.7" r="2.5" fill="#a6a26a"/>
<circle cx="271.2" cy="609.0" r="1.4" fill="#e4e0a8" opacity="0.6" filter="url(#b5)"/>
<circle cx="309.2" cy="598.6" r="2.5" fill="#5f834d"/>
<circle cx="308.5" cy="597.8" r="1.4" fill="#cee6be" opacity="0.6" filter="url(#b5)"/>
<circle cx="252.0" cy="615.9" r="2.6" fill="#9b9759"/>
<circle cx="251.2" cy="615.1" r="1.5" fill="#e4e0a8" opacity="0.6" filter="url(#b5)"/>
<circle cx="284.0" cy="606.3" r="2.3" fill="#61625f"/>
<circle cx="283.3" cy="605.6" r="1.3" fill="#dcdcd8" opacity="0.6" filter="url(#b5)"/>
<circle cx="260.8" cy="613.3" r="2.9" fill="#9d995c"/>
<circle cx="259.9" cy="612.4" r="1.6" fill="#e4e0a8" opacity="0.6" filter="url(#b5)"/>
<circle cx="263.8" cy="612.6" r="2.2" fill="#959156"/>
<circle cx="263.2" cy="611.9" r="1.2" fill="#e4e0a8" opacity="0.6" filter="url(#b5)"/>
<circle cx="301.0" cy="601.5" r="2.9" fill="#656764"/>
<circle cx="300.2" cy="600.7" r="1.6" fill="#dcdcd8" opacity="0.6" filter="url(#b5)"/>
<circle cx="289.6" cy="605.2" r="2.1" fill="#666864"/>
<circle cx="289.0" cy="604.5" r="1.2" fill="#dcdcd8" opacity="0.6" filter="url(#b5)"/>
<circle cx="244.9" cy="618.7" r="2.1" fill="#6e9859"/>
<circle cx="244.2" cy="618.1" r="1.1" fill="#cee6be" opacity="0.6" filter="url(#b5)"/>
<circle cx="280.7" cy="608.2" r="2.6" fill="#6e706c"/>
<circle cx="279.9" cy="607.4" r="1.4" fill="#dcdcd8" opacity="0.6" filter="url(#b5)"/>
<circle cx="292.1" cy="604.8" r="2.6" fill="#7c7e7a"/>
<circle cx="291.3" cy="604.0" r="1.4" fill="#dcdcd8" opacity="0.6" filter="url(#b5)"/>
<circle cx="269.6" cy="611.5" r="2.4" fill="#89864f"/>
<circle cx="268.9" cy="610.8" r="1.3" fill="#e4e0a8" opacity="0.6" filter="url(#b5)"/>
<circle cx="278.2" cy="609.3" r="2.5" fill="#a29e64"/>
<circle cx="277.5" cy="608.5" r="1.4" fill="#e4e0a8" opacity="0.6" filter="url(#b5)"/>
<circle cx="253.8" cy="617.0" r="1.9" fill="#9f9b5e"/>
<circle cx="253.3" cy="616.4" r="1.0" fill="#e4e0a8" opacity="0.6" filter="url(#b5)"/>
<circle cx="270.9" cy="612.3" r="2.8" fill="#a29e64"/>
<circle cx="270.0" cy="611.4" r="1.6" fill="#e4e0a8" opacity="0.6" filter="url(#b5)"/>
<circle cx="279.5" cy="609.7" r="3.0" fill="#7b7d79"/>
<circle cx="278.6" cy="608.8" r="1.6" fill="#dcdcd8" opacity="0.6" filter="url(#b5)"/>
<circle cx="287.3" cy="607.4" r="2.7" fill="#80817e"/>
<circle cx="286.5" cy="606.6" r="1.5" fill="#dcdcd8" opacity="0.6" filter="url(#b5)"/>
<circle cx="285.9" cy="608.2" r="2.5" fill="#696b67"/>
<circle cx="285.2" cy="607.4" r="1.4" fill="#dcdcd8" opacity="0.6" filter="url(#b5)"/>
<circle cx="248.6" cy="619.4" r="2.1" fill="#7f817d"/>
<circle cx="248.0" cy="618.8" r="1.2" fill="#dcdcd8" opacity="0.6" filter="url(#b5)"/>
<circle cx="308.4" cy="601.5" r="2.7" fill="#61864f"/>
<circle cx="307.6" cy="600.7" r="1.5" fill="#cee6be" opacity="0.6" filter="url(#b5)"/>
<circle cx="243.3" cy="621.1" r="2.3" fill="#84ab70"/>
<circle cx="242.7" cy="620.4" r="1.2" fill="#cee6be" opacity="0.6" filter="url(#b5)"/>
<circle cx="279.7" cy="610.3" r="2.5" fill="#646662"/>
<circle cx="278.9" cy="609.6" r="1.4" fill="#dcdcd8" opacity="0.6" filter="url(#b5)"/>
<circle cx="308.0" cy="601.9" r="2.8" fill="#84ab71"/>
<circle cx="307.2" cy="601.1" r="1.5" fill="#cee6be" opacity="0.6" filter="url(#b5)"/>
<circle cx="286.3" cy="608.4" r="2.2" fill="#777975"/>
<circle cx="285.7" cy="607.8" r="1.2" fill="#dcdcd8" opacity="0.6" filter="url(#b5)"/>
<circle cx="269.7" cy="613.5" r="2.7" fill="#a19d62"/>
<circle cx="268.9" cy="612.7" r="1.5" fill="#e4e0a8" opacity="0.6" filter="url(#b5)"/>
<circle cx="241.8" cy="621.9" r="1.9" fill="#739f5d"/>
<circle cx="241.2" cy="621.4" r="1.1" fill="#cee6be" opacity="0.6" filter="url(#b5)"/>
<circle cx="257.4" cy="617.4" r="1.9" fill="#979357"/>
<circle cx="256.9" cy="616.8" r="1.0" fill="#e4e0a8" opacity="0.6" filter="url(#b5)"/>
<circle cx="295.0" cy="606.2" r="3.0" fill="#5e605d"/>
<circle cx="294.2" cy="605.3" r="1.6" fill="#dcdcd8" opacity="0.6" filter="url(#b5)"/>
<circle cx="264.8" cy="615.3" r="2.0" fill="#8b8750"/>
<circle cx="264.2" cy="614.7" r="1.1" fill="#e4e0a8" opacity="0.6" filter="url(#b5)"/>
<circle cx="286.6" cy="609.4" r="2.5" fill="#767874"/>
<circle cx="285.8" cy="608.7" r="1.4" fill="#dcdcd8" opacity="0.6" filter="url(#b5)"/>
<circle cx="290.5" cy="608.4" r="2.4" fill="#676965"/>
<circle cx="289.8" cy="607.7" r="1.3" fill="#dcdcd8" opacity="0.6" filter="url(#b5)"/>
<circle cx="270.7" cy="614.4" r="2.9" fill="#9f9b5e"/>
<circle cx="269.8" cy="613.5" r="1.6" fill="#e4e0a8" opacity="0.6" filter="url(#b5)"/>
<circle cx="264.4" cy="616.4" r="2.5" fill="#a6a26a"/>
<circle cx="263.7" cy="615.7" r="1.4" fill="#e4e0a8" opacity="0.6" filter="url(#b5)"/>
<circle cx="276.4" cy="613.0" r="2.5" fill="#a6a36b"/>
<circle cx="275.7" cy="612.2" r="1.4" fill="#e4e0a8" opacity="0.6" filter="url(#b5)"/>
<circle cx="251.1" cy="620.9" r="1.9" fill="#797b77"/>
<circle cx="250.5" cy="620.4" r="1.0" fill="#dcdcd8" opacity="0.6" filter="url(#b5)"/>
<circle cx="312.9" cy="602.4" r="2.4" fill="#719c5c"/>
<circle cx="312.1" cy="601.7" r="1.3" fill="#cee6be" opacity="0.6" filter="url(#b5)"/>
<circle cx="281.3" cy="612.0" r="2.3" fill="#7d7f7b"/>
<circle cx="280.6" cy="611.3" r="1.2" fill="#dcdcd8" opacity="0.6" filter="url(#b5)"/>
<circle cx="315.1" cy="601.9" r="2.4" fill="#7aa465"/>
<circle cx="314.3" cy="601.1" r="1.3" fill="#cee6be" opacity="0.6" filter="url(#b5)"/>
<circle cx="297.7" cy="607.7" r="3.0" fill="#71736f"/>
<circle cx="296.8" cy="606.8" r="1.6" fill="#dcdcd8" opacity="0.6" filter="url(#b5)"/>
<circle cx="299.5" cy="607.3" r="2.0" fill="#60625e"/>
<circle cx="298.9" cy="606.7" r="1.1" fill="#dcdcd8" opacity="0.6" filter="url(#b5)"/>
<circle cx="287.5" cy="611.1" r="2.8" fill="#70716e"/>
<circle cx="286.7" cy="610.2" r="1.5" fill="#dcdcd8" opacity="0.6" filter="url(#b5)"/>
<circle cx="258.3" cy="619.9" r="2.4" fill="#939055"/>
<circle cx="257.6" cy="619.2" r="1.3" fill="#e4e0a8" opacity="0.6" filter="url(#b5)"/>
<circle cx="271.3" cy="616.6" r="2.9" fill="#969257"/>
<circle cx="270.4" cy="615.7" r="1.6" fill="#e4e0a8" opacity="0.6" filter="url(#b5)"/>
<circle cx="258.4" cy="620.7" r="2.1" fill="#949055"/>
<circle cx="257.7" cy="620.0" r="1.2" fill="#e4e0a8" opacity="0.6" filter="url(#b5)"/>
<circle cx="303.5" cy="607.2" r="2.1" fill="#70726e"/>
<circle cx="302.9" cy="606.5" r="1.2" fill="#dcdcd8" opacity="0.6" filter="url(#b5)"/>
<circle cx="270.2" cy="617.4" r="2.5" fill="#a5a169"/>
<circle cx="269.5" cy="616.6" r="1.4" fill="#e4e0a8" opacity="0.6" filter="url(#b5)"/>
<circle cx="247.7" cy="624.2" r="2.3" fill="#85ab71"/>
<circle cx="247.0" cy="623.5" r="1.3" fill="#cee6be" opacity="0.6" filter="url(#b5)"/>
<circle cx="274.6" cy="616.7" r="2.4" fill="#a19d62"/>
<circle cx="273.9" cy="616.0" r="1.3" fill="#e4e0a8" opacity="0.6" filter="url(#b5)"/>
<circle cx="292.5" cy="611.4" r="2.1" fill="#70726e"/>
<circle cx="291.9" cy="610.7" r="1.1" fill="#dcdcd8" opacity="0.6" filter="url(#b5)"/>
<circle cx="259.9" cy="621.8" r="1.8" fill="#a09c60"/>
<circle cx="259.3" cy="621.2" r="1.0" fill="#e4e0a8" opacity="0.6" filter="url(#b5)"/>
<circle cx="248.1" cy="625.4" r="2.9" fill="#76a160"/>
<circle cx="247.2" cy="624.5" r="1.6" fill="#cee6be" opacity="0.6" filter="url(#b5)"/>
<circle cx="262.0" cy="621.5" r="2.5" fill="#949055"/>
<circle cx="261.2" cy="620.7" r="1.4" fill="#e4e0a8" opacity="0.6" filter="url(#b5)"/>
<circle cx="262.8" cy="621.4" r="2.2" fill="#a7a36c"/>
<circle cx="262.2" cy="620.8" r="1.2" fill="#e4e0a8" opacity="0.6" filter="url(#b5)"/>
<circle cx="286.2" cy="614.5" r="2.8" fill="#60625e"/>
<circle cx="285.4" cy="613.6" r="1.5" fill="#dcdcd8" opacity="0.6" filter="url(#b5)"/>
<circle cx="298.9" cy="610.9" r="2.7" fill="#6c6e6b"/>
<circle cx="298.1" cy="610.1" r="1.5" fill="#dcdcd8" opacity="0.6" filter="url(#b5)"/>
<circle cx="284.1" cy="615.5" r="2.4" fill="#71736f"/>
<circle cx="283.3" cy="614.8" r="1.3" fill="#dcdcd8" opacity="0.6" filter="url(#b5)"/>
<circle cx="260.8" cy="622.6" r="1.9" fill="#9d9a5c"/>
<circle cx="260.2" cy="622.0" r="1.1" fill="#e4e0a8" opacity="0.6" filter="url(#b5)"/>
<circle cx="249.5" cy="626.0" r="2.6" fill="#61854e"/>
<circle cx="248.7" cy="625.2" r="1.4" fill="#cee6be" opacity="0.6" filter="url(#b5)"/>
<circle cx="289.0" cy="614.5" r="2.1" fill="#5f615e"/>
<circle cx="288.3" cy="613.8" r="1.2" fill="#dcdcd8" opacity="0.6" filter="url(#b5)"/>
<circle cx="267.7" cy="620.8" r="2.3" fill="#83804c"/>
<circle cx="267.1" cy="620.1" r="1.3" fill="#e4e0a8" opacity="0.6" filter="url(#b5)"/>
<circle cx="274.6" cy="619.0" r="1.9" fill="#85814d"/>
<circle cx="274.0" cy="618.4" r="1.0" fill="#e4e0a8" opacity="0.6" filter="url(#b5)"/>
<circle cx="256.8" cy="624.3" r="2.9" fill="#6e706c"/>
<circle cx="256.0" cy="623.5" r="1.6" fill="#dcdcd8" opacity="0.6" filter="url(#b5)"/>
<circle cx="274.8" cy="619.3" r="2.9" fill="#a7a46d"/>
<circle cx="273.9" cy="618.4" r="1.6" fill="#e4e0a8" opacity="0.6" filter="url(#b5)"/>
<circle cx="270.2" cy="620.7" r="2.6" fill="#8a8750"/>
<circle cx="269.4" cy="619.9" r="1.4" fill="#e4e0a8" opacity="0.6" filter="url(#b5)"/>
<circle cx="259.4" cy="623.9" r="2.0" fill="#938f55"/>
<circle cx="258.8" cy="623.3" r="1.1" fill="#e4e0a8" opacity="0.6" filter="url(#b5)"/>
<circle cx="263.2" cy="623.1" r="2.8" fill="#8c8851"/>
<circle cx="262.4" cy="622.3" r="1.5" fill="#e4e0a8" opacity="0.6" filter="url(#b5)"/>
<circle cx="257.1" cy="625.0" r="2.0" fill="#6d6f6b"/>
<circle cx="256.5" cy="624.4" r="1.1" fill="#dcdcd8" opacity="0.6" filter="url(#b5)"/>
<circle cx="296.9" cy="613.2" r="2.6" fill="#6d6f6b"/>
<circle cx="296.1" cy="612.4" r="1.4" fill="#dcdcd8" opacity="0.6" filter="url(#b5)"/>
<circle cx="291.7" cy="614.8" r="2.5" fill="#6c6d6a"/>
<circle cx="290.9" cy="614.1" r="1.4" fill="#dcdcd8" opacity="0.6" filter="url(#b5)"/>
<circle cx="276.8" cy="619.3" r="2.7" fill="#959156"/>
<circle cx="276.0" cy="618.5" r="1.5" fill="#e4e0a8" opacity="0.6" filter="url(#b5)"/>
<circle cx="308.2" cy="610.5" r="2.6" fill="#6d6f6b"/>
<circle cx="307.5" cy="609.7" r="1.4" fill="#dcdcd8" opacity="0.6" filter="url(#b5)"/>
<circle cx="293.8" cy="615.2" r="2.9" fill="#828480"/>
<circle cx="293.0" cy="614.4" r="1.6" fill="#dcdcd8" opacity="0.6" filter="url(#b5)"/>
<circle cx="294.3" cy="615.5" r="2.8" fill="#757773"/>
<circle cx="293.5" cy="614.7" r="1.6" fill="#dcdcd8" opacity="0.6" filter="url(#b5)"/>
<circle cx="261.7" cy="625.7" r="2.9" fill="#a09c60"/>
<circle cx="260.8" cy="624.8" r="1.6" fill="#e4e0a8" opacity="0.6" filter="url(#b5)"/>
<circle cx="292.2" cy="616.6" r="2.0" fill="#757773"/>
<circle cx="291.6" cy="616.0" r="1.1" fill="#dcdcd8" opacity="0.6" filter="url(#b5)"/>
<circle cx="262.4" cy="625.8" r="1.9" fill="#656763"/>
<circle cx="261.8" cy="625.3" r="1.1" fill="#dcdcd8" opacity="0.6" filter="url(#b5)"/>
<circle cx="276.7" cy="621.6" r="2.4" fill="#828480"/>
<circle cx="276.0" cy="620.9" r="1.3" fill="#dcdcd8" opacity="0.6" filter="url(#b5)"/>
<circle cx="279.6" cy="620.8" r="2.2" fill="#5e605c"/>
<circle cx="278.9" cy="620.1" r="1.2" fill="#dcdcd8" opacity="0.6" filter="url(#b5)"/>
<circle cx="255.2" cy="628.1" r="2.3" fill="#689054"/>
<circle cx="254.5" cy="627.5" r="1.3" fill="#cee6be" opacity="0.6" filter="url(#b5)"/>
<circle cx="254.3" cy="628.5" r="1.9" fill="#6d9658"/>
<circle cx="253.7" cy="627.9" r="1.1" fill="#cee6be" opacity="0.6" filter="url(#b5)"/>
<circle cx="311.5" cy="611.3" r="2.4" fill="#81a96d"/>
<circle cx="310.7" cy="610.6" r="1.3" fill="#cee6be" opacity="0.6" filter="url(#b5)"/>
<circle cx="260.9" cy="626.5" r="2.8" fill="#7da669"/>
<circle cx="260.0" cy="625.7" r="1.6" fill="#cee6be" opacity="0.6" filter="url(#b5)"/>
<circle cx="274.4" cy="622.5" r="2.5" fill="#9c985a"/>
<circle cx="273.7" cy="621.8" r="1.4" fill="#e4e0a8" opacity="0.6" filter="url(#b5)"/>
<circle cx="251.5" cy="629.4" r="2.1" fill="#7aa465"/>
<circle cx="250.9" cy="628.8" r="1.2" fill="#cee6be" opacity="0.6" filter="url(#b5)"/>
<circle cx="253.4" cy="629.3" r="2.6" fill="#78a363"/>
<circle cx="252.7" cy="628.5" r="1.4" fill="#cee6be" opacity="0.6" filter="url(#b5)"/>
<circle cx="266.3" cy="625.7" r="1.8" fill="#a7a46d"/>
<circle cx="265.7" cy="625.1" r="1.0" fill="#e4e0a8" opacity="0.6" filter="url(#b5)"/>
<circle cx="286.5" cy="619.9" r="2.3" fill="#696a67"/>
<circle cx="285.8" cy="619.2" r="1.3" fill="#dcdcd8" opacity="0.6" filter="url(#b5)"/>
<circle cx="258.2" cy="628.4" r="2.6" fill="#676965"/>
<circle cx="257.4" cy="627.6" r="1.4" fill="#dcdcd8" opacity="0.6" filter="url(#b5)"/>
<circle cx="294.6" cy="617.5" r="2.1" fill="#6e706c"/>
<circle cx="293.9" cy="616.9" r="1.1" fill="#dcdcd8" opacity="0.6" filter="url(#b5)"/>
<circle cx="265.0" cy="626.5" r="2.5" fill="#7e807d"/>
<circle cx="264.3" cy="625.7" r="1.4" fill="#dcdcd8" opacity="0.6" filter="url(#b5)"/>
<circle cx="288.9" cy="619.4" r="2.0" fill="#7b7d79"/>
<circle cx="288.3" cy="618.8" r="1.1" fill="#dcdcd8" opacity="0.6" filter="url(#b5)"/>
<circle cx="280.0" cy="622.0" r="2.2" fill="#727470"/>
<circle cx="279.4" cy="621.4" r="1.2" fill="#dcdcd8" opacity="0.6" filter="url(#b5)"/>
<circle cx="305.3" cy="614.7" r="2.0" fill="#838481"/>
<circle cx="304.7" cy="614.0" r="1.1" fill="#dcdcd8" opacity="0.6" filter="url(#b5)"/>
<circle cx="311.4" cy="612.9" r="2.5" fill="#6b9457"/>
<circle cx="310.6" cy="612.2" r="1.4" fill="#cee6be" opacity="0.6" filter="url(#b5)"/>
<circle cx="255.7" cy="629.8" r="3.0" fill="#6a9256"/>
<circle cx="254.8" cy="628.9" r="1.6" fill="#cee6be" opacity="0.6" filter="url(#b5)"/>
<circle cx="295.9" cy="617.8" r="2.7" fill="#7c7e7a"/>
<circle cx="295.1" cy="617.0" r="1.5" fill="#dcdcd8" opacity="0.6" filter="url(#b5)"/>
<circle cx="294.2" cy="618.5" r="2.0" fill="#6a6c68"/>
<circle cx="293.6" cy="617.9" r="1.1" fill="#dcdcd8" opacity="0.6" filter="url(#b5)"/>
<circle cx="279.5" cy="623.1" r="2.5" fill="#6a6c68"/>
<circle cx="278.8" cy="622.4" r="1.4" fill="#dcdcd8" opacity="0.6" filter="url(#b5)"/>
<circle cx="263.9" cy="627.9" r="2.1" fill="#8e8b52"/>
<circle cx="263.3" cy="627.3" r="1.1" fill="#e4e0a8" opacity="0.6" filter="url(#b5)"/>
<circle cx="266.2" cy="627.5" r="2.1" fill="#666864"/>
<circle cx="265.6" cy="626.8" r="1.2" fill="#dcdcd8" opacity="0.6" filter="url(#b5)"/>
<circle cx="286.8" cy="621.5" r="2.4" fill="#60625f"/>
<circle cx="286.1" cy="620.7" r="1.3" fill="#dcdcd8" opacity="0.6" filter="url(#b5)"/>
<circle cx="307.7" cy="615.6" r="2.5" fill="#689055"/>
<circle cx="306.9" cy="614.8" r="1.4" fill="#cee6be" opacity="0.6" filter="url(#b5)"/>
<circle cx="260.1" cy="630.7" r="2.1" fill="#5e605d"/>
<circle cx="259.5" cy="630.1" r="1.1" fill="#dcdcd8" opacity="0.6" filter="url(#b5)"/>
<circle cx="303.5" cy="618.3" r="1.9" fill="#656663"/>
<circle cx="302.9" cy="617.7" r="1.1" fill="#dcdcd8" opacity="0.6" filter="url(#b5)"/>
<circle cx="272.5" cy="628.3" r="2.0" fill="#696b67"/>
<circle cx="271.9" cy="627.7" r="1.1" fill="#dcdcd8" opacity="0.6" filter="url(#b5)"/>
<circle cx="304.3" cy="619.0" r="2.0" fill="#6e706c"/>
<circle cx="303.7" cy="618.4" r="1.1" fill="#dcdcd8" opacity="0.6" filter="url(#b5)"/>
<circle cx="302.8" cy="620.1" r="2.7" fill="#7b7d79"/>
<circle cx="302.0" cy="619.3" r="1.5" fill="#dcdcd8" opacity="0.6" filter="url(#b5)"/>
<circle cx="306.6" cy="619.1" r="2.8" fill="#828481"/>
<circle cx="305.8" cy="618.2" r="1.6" fill="#dcdcd8" opacity="0.6" filter="url(#b5)"/>
<circle cx="277.1" cy="627.9" r="2.8" fill="#737571"/>
<circle cx="276.3" cy="627.1" r="1.5" fill="#dcdcd8" opacity="0.6" filter="url(#b5)"/>
<circle cx="309.4" cy="618.3" r="2.3" fill="#6b9457"/>
<circle cx="308.7" cy="617.6" r="1.3" fill="#cee6be" opacity="0.6" filter="url(#b5)"/>
<circle cx="262.4" cy="632.9" r="2.7" fill="#7c7d7a"/>
<circle cx="261.6" cy="632.1" r="1.5" fill="#dcdcd8" opacity="0.6" filter="url(#b5)"/>
<circle cx="270.9" cy="630.5" r="2.3" fill="#636562"/>
<circle cx="270.2" cy="629.9" r="1.3" fill="#dcdcd8" opacity="0.6" filter="url(#b5)"/>
<circle cx="284.3" cy="626.5" r="2.0" fill="#656763"/>
<circle cx="283.7" cy="625.9" r="1.1" fill="#dcdcd8" opacity="0.6" filter="url(#b5)"/>
<circle cx="282.4" cy="627.1" r="2.5" fill="#8b8750"/>
<circle cx="281.7" cy="626.4" r="1.4" fill="#e4e0a8" opacity="0.6" filter="url(#b5)"/>
<circle cx="286.1" cy="626.0" r="2.7" fill="#777975"/>
<circle cx="285.3" cy="625.2" r="1.5" fill="#dcdcd8" opacity="0.6" filter="url(#b5)"/>
<circle cx="276.5" cy="629.1" r="2.8" fill="#60615e"/>
<circle cx="275.6" cy="628.3" r="1.5" fill="#dcdcd8" opacity="0.6" filter="url(#b5)"/>
<circle cx="303.7" cy="621.7" r="2.7" fill="#739f5e"/>
<circle cx="302.9" cy="620.9" r="1.5" fill="#cee6be" opacity="0.6" filter="url(#b5)"/>
<circle cx="280.7" cy="629.1" r="2.2" fill="#6a6b68"/>
<circle cx="280.0" cy="628.5" r="1.2" fill="#dcdcd8" opacity="0.6" filter="url(#b5)"/>
<circle cx="264.3" cy="634.3" r="2.1" fill="#7d7f7b"/>
<circle cx="263.7" cy="633.7" r="1.1" fill="#dcdcd8" opacity="0.6" filter="url(#b5)"/>
<circle cx="301.1" cy="623.4" r="2.5" fill="#5e605d"/>
<circle cx="300.3" cy="622.7" r="1.4" fill="#dcdcd8" opacity="0.6" filter="url(#b5)"/>
<circle cx="304.7" cy="622.9" r="1.8" fill="#676965"/>
<circle cx="304.1" cy="622.3" r="1.0" fill="#dcdcd8" opacity="0.6" filter="url(#b5)"/>
<circle cx="267.8" cy="634.0" r="2.4" fill="#696a67"/>
<circle cx="267.0" cy="633.3" r="1.3" fill="#dcdcd8" opacity="0.6" filter="url(#b5)"/>
<circle cx="269.6" cy="633.6" r="2.7" fill="#71736f"/>
<circle cx="268.8" cy="632.7" r="1.5" fill="#dcdcd8" opacity="0.6" filter="url(#b5)"/>
<circle cx="275.5" cy="632.2" r="2.4" fill="#666864"/>
<circle cx="274.8" cy="631.5" r="1.3" fill="#dcdcd8" opacity="0.6" filter="url(#b5)"/>
<circle cx="265.4" cy="635.3" r="2.9" fill="#5e605c"/>
<circle cx="264.6" cy="634.4" r="1.6" fill="#dcdcd8" opacity="0.6" filter="url(#b5)"/>
<circle cx="279.4" cy="631.1" r="2.9" fill="#676865"/>
<circle cx="278.5" cy="630.3" r="1.6" fill="#dcdcd8" opacity="0.6" filter="url(#b5)"/>
<circle cx="295.2" cy="626.5" r="2.1" fill="#969256"/>
<circle cx="294.6" cy="625.8" r="1.2" fill="#e4e0a8" opacity="0.6" filter="url(#b5)"/>
<circle cx="291.0" cy="627.7" r="2.0" fill="#a5a168"/>
<circle cx="290.4" cy="627.1" r="1.1" fill="#e4e0a8" opacity="0.6" filter="url(#b5)"/>
<circle cx="267.9" cy="635.1" r="2.0" fill="#757673"/>
<circle cx="267.4" cy="634.5" r="1.1" fill="#dcdcd8" opacity="0.6" filter="url(#b5)"/>
<circle cx="294.9" cy="627.7" r="2.9" fill="#938f55"/>
<circle cx="294.0" cy="626.9" r="1.6" fill="#e4e0a8" opacity="0.6" filter="url(#b5)"/>
<circle cx="269.4" cy="636.3" r="2.2" fill="#6e6f6c"/>
<circle cx="268.8" cy="635.6" r="1.2" fill="#dcdcd8" opacity="0.6" filter="url(#b5)"/>
<circle cx="268.8" cy="636.5" r="2.9" fill="#7a7c78"/>
<circle cx="267.9" cy="635.7" r="1.6" fill="#dcdcd8" opacity="0.6" filter="url(#b5)"/>
<circle cx="283.8" cy="632.3" r="1.9" fill="#817e4a"/>
<circle cx="283.2" cy="631.8" r="1.0" fill="#e4e0a8" opacity="0.6" filter="url(#b5)"/>
<circle cx="287.0" cy="631.8" r="2.0" fill="#a29e64"/>
<circle cx="286.4" cy="631.2" r="1.1" fill="#e4e0a8" opacity="0.6" filter="url(#b5)"/>
<circle cx="269.0" cy="637.4" r="2.9" fill="#646662"/>
<circle cx="268.2" cy="636.6" r="1.6" fill="#dcdcd8" opacity="0.6" filter="url(#b5)"/>
<circle cx="275.7" cy="635.7" r="2.3" fill="#77a262"/>
<circle cx="275.0" cy="635.0" r="1.2" fill="#cee6be" opacity="0.6" filter="url(#b5)"/>
<circle cx="267.0" cy="638.4" r="2.6" fill="#6f995a"/>
<circle cx="266.2" cy="637.6" r="1.4" fill="#cee6be" opacity="0.6" filter="url(#b5)"/>
<circle cx="278.3" cy="635.2" r="2.2" fill="#7e807c"/>
<circle cx="277.7" cy="634.5" r="1.2" fill="#dcdcd8" opacity="0.6" filter="url(#b5)"/>
<circle cx="279.2" cy="634.9" r="1.9" fill="#7ea769"/>
<circle cx="278.6" cy="634.4" r="1.0" fill="#cee6be" opacity="0.6" filter="url(#b5)"/>
<circle cx="278.9" cy="635.2" r="2.1" fill="#828380"/>
<circle cx="278.3" cy="634.6" r="1.1" fill="#dcdcd8" opacity="0.6" filter="url(#b5)"/>
<circle cx="305.6" cy="627.7" r="2.2" fill="#6a9256"/>
<circle cx="305.0" cy="627.0" r="1.2" fill="#cee6be" opacity="0.6" filter="url(#b5)"/>
<circle cx="288.3" cy="633.0" r="2.8" fill="#a8a46d"/>
<circle cx="287.4" cy="632.2" r="1.5" fill="#e4e0a8" opacity="0.6" filter="url(#b5)"/>
<circle cx="280.7" cy="635.7" r="2.4" fill="#60844d"/>
<circle cx="280.0" cy="635.0" r="1.3" fill="#cee6be" opacity="0.6" filter="url(#b5)"/>
<circle cx="269.9" cy="639.0" r="2.7" fill="#747672"/>
<circle cx="269.1" cy="638.2" r="1.5" fill="#dcdcd8" opacity="0.6" filter="url(#b5)"/>
<circle cx="286.7" cy="634.1" r="2.1" fill="#80827f"/>
<circle cx="286.0" cy="633.4" r="1.2" fill="#dcdcd8" opacity="0.6" filter="url(#b5)"/>
<circle cx="277.5" cy="636.9" r="2.8" fill="#74a05e"/>
<circle cx="276.6" cy="636.1" r="1.5" fill="#cee6be" opacity="0.6" filter="url(#b5)"/>
<circle cx="293.1" cy="632.6" r="3.0" fill="#969256"/>
<circle cx="292.2" cy="631.7" r="1.6" fill="#e4e0a8" opacity="0.6" filter="url(#b5)"/>
<circle cx="308.3" cy="628.2" r="2.0" fill="#678e53"/>
<circle cx="307.7" cy="627.6" r="1.1" fill="#cee6be" opacity="0.6" filter="url(#b5)"/>
<circle cx="280.9" cy="636.8" r="3.0" fill="#6b9357"/>
<circle cx="280.0" cy="635.9" r="1.6" fill="#cee6be" opacity="0.6" filter="url(#b5)"/>
<circle cx="289.2" cy="634.5" r="2.4" fill="#5e605c"/>
<circle cx="288.5" cy="633.7" r="1.3" fill="#dcdcd8" opacity="0.6" filter="url(#b5)"/>
<circle cx="274.7" cy="639.3" r="2.8" fill="#678d53"/>
<circle cx="273.8" cy="638.5" r="1.6" fill="#cee6be" opacity="0.6" filter="url(#b5)"/>
<circle cx="289.8" cy="635.1" r="2.2" fill="#6b9356"/>
<circle cx="289.1" cy="634.5" r="1.2" fill="#cee6be" opacity="0.6" filter="url(#b5)"/>
<circle cx="299.1" cy="632.9" r="2.3" fill="#638850"/>
<circle cx="298.4" cy="632.2" r="1.3" fill="#cee6be" opacity="0.6" filter="url(#b5)"/>
<circle cx="275.5" cy="640.1" r="2.6" fill="#7da668"/>
<circle cx="274.7" cy="639.3" r="1.4" fill="#cee6be" opacity="0.6" filter="url(#b5)"/>
<circle cx="287.4" cy="636.9" r="1.9" fill="#61864f"/>
<circle cx="286.9" cy="636.3" r="1.0" fill="#cee6be" opacity="0.6" filter="url(#b5)"/>
<circle cx="297.0" cy="634.0" r="2.8" fill="#626461"/>
<circle cx="296.2" cy="633.2" r="1.5" fill="#dcdcd8" opacity="0.6" filter="url(#b5)"/>
<circle cx="293.3" cy="635.4" r="2.9" fill="#88844e"/>
<circle cx="292.5" cy="634.5" r="1.6" fill="#e4e0a8" opacity="0.6" filter="url(#b5)"/>
<circle cx="304.5" cy="633.1" r="3.0" fill="#6a9356"/>
<circle cx="303.6" cy="632.2" r="1.6" fill="#cee6be" opacity="0.6" filter="url(#b5)"/>
<circle cx="286.1" cy="638.8" r="2.8" fill="#668c52"/>
<circle cx="285.2" cy="638.0" r="1.5" fill="#cee6be" opacity="0.6" filter="url(#b5)"/>
<circle cx="280.3" cy="640.7" r="2.5" fill="#82aa6e"/>
<circle cx="279.6" cy="640.0" r="1.4" fill="#cee6be" opacity="0.6" filter="url(#b5)"/>
<circle cx="282.8" cy="641.2" r="2.2" fill="#6c9658"/>
<circle cx="282.1" cy="640.5" r="1.2" fill="#cee6be" opacity="0.6" filter="url(#b5)"/>
<circle cx="281.7" cy="642.0" r="2.0" fill="#79a364"/>
<circle cx="281.1" cy="641.4" r="1.1" fill="#cee6be" opacity="0.6" filter="url(#b5)"/>
<circle cx="281.2" cy="643.1" r="2.8" fill="#83aa70"/>
<circle cx="280.4" cy="642.3" r="1.5" fill="#cee6be" opacity="0.6" filter="url(#b5)"/>
<circle cx="294.4" cy="639.2" r="2.0" fill="#81a96d"/>
<circle cx="293.8" cy="638.6" r="1.1" fill="#cee6be" opacity="0.6" filter="url(#b5)"/>
<circle cx="283.2" cy="643.8" r="2.4" fill="#668c52"/>
<circle cx="282.5" cy="643.1" r="1.3" fill="#cee6be" opacity="0.6" filter="url(#b5)"/>
<circle cx="286.6" cy="642.9" r="2.7" fill="#7ea76a"/>
<circle cx="285.8" cy="642.1" r="1.5" fill="#cee6be" opacity="0.6" filter="url(#b5)"/>
<circle cx="291.1" cy="641.6" r="2.0" fill="#77a261"/>
<circle cx="290.5" cy="641.0" r="1.1" fill="#cee6be" opacity="0.6" filter="url(#b5)"/>
<circle cx="279.4" cy="645.5" r="2.8" fill="#79a364"/>
<circle cx="278.6" cy="644.7" r="1.5" fill="#cee6be" opacity="0.6" filter="url(#b5)"/>
<circle cx="281.0" cy="645.3" r="1.9" fill="#709b5b"/>
<circle cx="280.4" cy="644.7" r="1.1" fill="#cee6be" opacity="0.6" filter="url(#b5)"/>
<circle cx="289.6" cy="643.6" r="2.5" fill="#61864e"/>
<circle cx="288.8" cy="642.8" r="1.4" fill="#cee6be" opacity="0.6" filter="url(#b5)"/>
<circle cx="285.5" cy="645.2" r="1.9" fill="#6c9558"/>
<circle cx="285.0" cy="644.6" r="1.0" fill="#cee6be" opacity="0.6" filter="url(#b5)"/>
<circle cx="286.3" cy="645.9" r="2.3" fill="#74a05e"/>
<circle cx="285.6" cy="645.2" r="1.2" fill="#cee6be" opacity="0.6" filter="url(#b5)"/>
<circle cx="285.6" cy="647.3" r="2.0" fill="#719b5b"/>
<circle cx="285.0" cy="646.7" r="1.1" fill="#cee6be" opacity="0.6" filter="url(#b5)"/>
<circle cx="281.9" cy="648.8" r="2.7" fill="#739e5d"/>
<circle cx="281.0" cy="648.0" r="1.5" fill="#cee6be" opacity="0.6" filter="url(#b5)"/>
<circle cx="282.7" cy="648.7" r="3.0" fill="#79a464"/>
<circle cx="281.8" cy="647.8" r="1.6" fill="#cee6be" opacity="0.6" filter="url(#b5)"/>
</g>
<circle cx="272.1" cy="640.0" r="0.7" fill="#ffffff" opacity="0.85"/>
<circle cx="297.1" cy="632.5" r="0.8" fill="#ffffff" opacity="0.85"/>
<circle cx="308.9" cy="598.3" r="0.5" fill="#ffffff" opacity="0.85"/>
<circle cx="284.1" cy="646.5" r="0.5" fill="#ffffff" opacity="0.85"/>
<circle cx="248.0" cy="621.6" r="0.6" fill="#ffffff" opacity="0.85"/>
<circle cx="245.2" cy="612.2" r="0.7" fill="#ffffff" opacity="0.85"/>
<circle cx="243.5" cy="615.1" r="0.7" fill="#ffffff" opacity="0.85"/>
<circle cx="264.9" cy="606.7" r="0.5" fill="#ffffff" opacity="0.85"/>
<circle cx="285.4" cy="581.4" r="0.6" fill="#ffffff" opacity="0.85"/>
<circle cx="282.9" cy="599.3" r="0.7" fill="#ffffff" opacity="0.85"/>
<circle cx="264.5" cy="627.7" r="0.6" fill="#ffffff" opacity="0.85"/>
<circle cx="256.4" cy="631.5" r="0.8" fill="#ffffff" opacity="0.85"/>
<circle cx="246.7" cy="599.4" r="0.8" fill="#ffffff" opacity="0.85"/>
<circle cx="298.9" cy="574.1" r="0.9" fill="#ffffff" opacity="0.85"/>
<circle cx="262.6" cy="618.5" r="0.9" fill="#ffffff" opacity="0.85"/>
<circle cx="310.8" cy="615.9" r="0.9" fill="#ffffff" opacity="0.85"/>
<circle cx="242.9" cy="600.3" r="0.7" fill="#ffffff" opacity="0.85"/>
<circle cx="255.2" cy="593.1" r="0.7" fill="#ffffff" opacity="0.85"/>
<circle cx="247.2" cy="604.3" r="0.8" fill="#ffffff" opacity="0.85"/>
<circle cx="262.9" cy="626.4" r="0.6" fill="#ffffff" opacity="0.85"/>
<circle cx="280.1" cy="594.5" r="0.5" fill="#ffffff" opacity="0.85"/>
<circle cx="259.5" cy="588.8" r="0.9" fill="#ffffff" opacity="0.85"/>
<circle cx="294.4" cy="584.9" r="0.7" fill="#ffffff" opacity="0.85"/>
<circle cx="314.2" cy="601.9" r="0.6" fill="#ffffff" opacity="0.85"/>
<circle cx="265.8" cy="592.1" r="0.8" fill="#ffffff" opacity="0.85"/>
<circle cx="271.7" cy="625.7" r="0.6" fill="#ffffff" opacity="0.85"/>
<circle cx="248.3" cy="619.5" r="0.6" fill="#ffffff" opacity="0.85"/>
<circle cx="281.5" cy="624.7" r="0.9" fill="#ffffff" opacity="0.85"/>
<circle cx="304.2" cy="625.5" r="0.7" fill="#ffffff" opacity="0.85"/>
<circle cx="307.1" cy="597.5" r="0.5" fill="#ffffff" opacity="0.85"/>
<circle cx="284.3" cy="638.2" r="0.6" fill="#ffffff" opacity="0.85"/>
<circle cx="279.9" cy="616.4" r="0.8" fill="#ffffff" opacity="0.85"/>
<circle cx="287.0" cy="606.2" r="0.5" fill="#ffffff" opacity="0.85"/>
<circle cx="272.9" cy="587.7" r="0.7" fill="#ffffff" opacity="0.85"/>
<circle cx="275.9" cy="609.9" r="0.5" fill="#ffffff" opacity="0.85"/>
<circle cx="241.8" cy="618.6" r="0.8" fill="#ffffff" opacity="0.85"/>
<circle cx="256.1" cy="605.0" r="0.7" fill="#ffffff" opacity="0.85"/>
<circle cx="302.4" cy="599.5" r="0.9" fill="#ffffff" opacity="0.85"/>
<circle cx="273.6" cy="599.8" r="0.7" fill="#ffffff" opacity="0.85"/>
<circle cx="268.1" cy="618.2" r="0.8" fill="#ffffff" opacity="0.85"/>
<circle cx="270.0" cy="590.6" r="0.6" fill="#ffffff" opacity="0.85"/>
<circle cx="297.4" cy="569.8" r="0.8" fill="#ffffff" opacity="0.85"/>
<circle cx="249.2" cy="604.1" r="0.7" fill="#ffffff" opacity="0.85"/>
<circle cx="260.2" cy="577.0" r="0.8" fill="#ffffff" opacity="0.85"/>
<circle cx="288.7" cy="606.3" r="0.9" fill="#ffffff" opacity="0.85"/>
<circle cx="301.2" cy="582.6" r="0.5" fill="#ffffff" opacity="0.85"/>
<circle cx="284.3" cy="606.3" r="0.6" fill="#ffffff" opacity="0.85"/>
<circle cx="287.9" cy="570.6" r="0.9" fill="#ffffff" opacity="0.85"/>
<circle cx="258.8" cy="629.2" r="0.9" fill="#ffffff" opacity="0.85"/>
<circle cx="307.8" cy="586.4" r="0.7" fill="#ffffff" opacity="0.85"/>
<circle cx="258.6" cy="579.2" r="0.8" fill="#ffffff" opacity="0.85"/>
<circle cx="298.3" cy="594.3" r="0.7" fill="#ffffff" opacity="0.85"/>
<circle cx="292.7" cy="629.5" r="0.7" fill="#ffffff" opacity="0.85"/>
<circle cx="274.7" cy="622.0" r="0.6" fill="#ffffff" opacity="0.85"/>
<circle cx="263.2" cy="579.8" r="0.9" fill="#ffffff" opacity="0.85"/>
<circle cx="284.5" cy="575.6" r="0.8" fill="#ffffff" opacity="0.85"/>
<circle cx="283.8" cy="619.2" r="0.8" fill="#ffffff" opacity="0.85"/>
<circle cx="284.8" cy="642.9" r="0.9" fill="#ffffff" opacity="0.85"/>
<circle cx="266.6" cy="622.4" r="0.6" fill="#ffffff" opacity="0.85"/>
<circle cx="267.0" cy="597.0" r="0.8" fill="#ffffff" opacity="0.85"/>
<circle cx="261.7" cy="595.7" r="0.8" fill="#ffffff" opacity="0.85"/>
<circle cx="302.0" cy="624.9" r="0.8" fill="#ffffff" opacity="0.85"/>
<circle cx="264.7" cy="621.8" r="0.6" fill="#ffffff" opacity="0.85"/>
<circle cx="257.2" cy="598.0" r="0.5" fill="#ffffff" opacity="0.85"/>
<circle cx="242.8" cy="621.4" r="0.9" fill="#ffffff" opacity="0.85"/>
<circle cx="298.3" cy="584.3" r="0.9" fill="#ffffff" opacity="0.85"/>
<circle cx="261.8" cy="606.6" r="0.6" fill="#ffffff" opacity="0.85"/>
<circle cx="256.2" cy="602.2" r="0.6" fill="#ffffff" opacity="0.85"/>
<circle cx="287.5" cy="636.2" r="0.6" fill="#ffffff" opacity="0.85"/>
<circle cx="270.8" cy="617.9" r="0.6" fill="#ffffff" opacity="0.85"/>
<ellipse cx="268" cy="589" rx="7" ry="3" fill="#202220" opacity="0.45" filter="url(#b15)"/>
<ellipse cx="300" cy="612" rx="5" ry="7" fill="#202220" opacity="0.35" filter="url(#b15)"/>
<ellipse cx="282" cy="633" rx="6" ry="3" fill="#202220" opacity="0.35" filter="url(#b15)"/>
<ellipse cx="288" cy="600" rx="4" ry="3" fill="#202220" opacity="0.4" filter="url(#b15)"/>
<ellipse cx="258" cy="605" rx="3" ry="2" fill="#202220" opacity="0.5" filter="url(#b15)"/>
</g>
<path d="M 262.5 632.7 C 265 626, 266.5 620, 268.4 614.1 C 270 610, 273 607, 275.5 604 C 277 600, 275 597, 277 595.2 C 280 593.6, 284 594, 287.5 596 C 291 598, 292.5 601, 290 602.8 C 287 604, 283 601.5, 279.5 602.5" fill="none" stroke="#c42a1a" stroke-width="1.4" stroke-linecap="round"/>
<line x1="268.4" y1="610.7" x2="279.4" y2="614.1" stroke="#f2f2f2" stroke-width="0.7"/>
<text x="280.20" y="616.60" font-size="6.8" fill="#f2f2f2" font-weight="bold" textLength="19.50" lengthAdjust="spacingAndGlyphs">decoy</text>
<text x="280.20" y="623.40" font-size="6.8" fill="#f2f2f2" font-weight="bold" textLength="23.70" lengthAdjust="spacingAndGlyphs">peptide</text>
<text x="333.60" y="543.30" font-size="12.4" fill="#000" stroke="#000" stroke-width="0.35" font-weight="bold" textLength="8.60" lengthAdjust="spacingAndGlyphs">H</text>
<line x1="376.90" y1="550.50" x2="376.90" y2="660.30" stroke="#231f20" stroke-width="1.2"/>
<line x1="376.30" y1="659.80" x2="483.90" y2="659.80" stroke="#231f20" stroke-width="1.3"/>
<line x1="372.70" y1="659.80" x2="376.90" y2="659.80" stroke="#231f20" stroke-width="0.9"/>
<text x="367.50" y="662.30" font-size="7.0" fill="#231f20" stroke="#231f20" stroke-width="0.1" textLength="3.90" lengthAdjust="spacingAndGlyphs">0</text>
<line x1="372.70" y1="633.07" x2="376.90" y2="633.07" stroke="#231f20" stroke-width="0.9"/>
<text x="355.80" y="635.57" font-size="7.0" fill="#231f20" stroke="#231f20" stroke-width="0.1" textLength="15.60" lengthAdjust="spacingAndGlyphs">1000</text>
<line x1="372.70" y1="606.34" x2="376.90" y2="606.34" stroke="#231f20" stroke-width="0.9"/>
<text x="355.80" y="608.84" font-size="7.0" fill="#231f20" stroke="#231f20" stroke-width="0.1" textLength="15.60" lengthAdjust="spacingAndGlyphs">2000</text>
<line x1="372.70" y1="579.61" x2="376.90" y2="579.61" stroke="#231f20" stroke-width="0.9"/>
<text x="355.80" y="582.11" font-size="7.0" fill="#231f20" stroke="#231f20" stroke-width="0.1" textLength="15.60" lengthAdjust="spacingAndGlyphs">3000</text>
<line x1="372.70" y1="552.88" x2="376.90" y2="552.88" stroke="#231f20" stroke-width="0.9"/>
<text x="355.80" y="555.38" font-size="7.0" fill="#231f20" stroke="#231f20" stroke-width="0.1" textLength="15.60" lengthAdjust="spacingAndGlyphs">4000</text>
<text transform="translate(351.30,657.40) rotate(-90)" x="0" y="0" font-size="9.6" fill="#231f20" stroke="#231f20" stroke-width="0.0" font-weight="bold" textLength="105.50" lengthAdjust="spacingAndGlyphs">Plasma soluble FAS level [pg/mL]</text>
<line x1="395.00" y1="659.80" x2="395.00" y2="663.30" stroke="#231f20" stroke-width="0.8"/>
<line x1="430.80" y1="659.80" x2="430.80" y2="663.30" stroke="#231f20" stroke-width="0.8"/>
<line x1="466.40" y1="659.80" x2="466.40" y2="663.30" stroke="#231f20" stroke-width="0.8"/>
<text x="383.71" y="671.80" font-size="7.0" fill="#231f20" stroke="#231f20" stroke-width="0.12" textLength="22.57" lengthAdjust="spacingAndGlyphs">healthy</text>
<text x="384.30" y="679.90" font-size="7.0" fill="#231f20" stroke="#231f20" stroke-width="0.12" textLength="21.40" lengthAdjust="spacingAndGlyphs">donors</text>
<text x="421.07" y="671.80" font-size="7.0" fill="#231f20" stroke="#231f20" stroke-width="0.12" textLength="19.45" lengthAdjust="spacingAndGlyphs">T-LGL</text>
<text x="457.06" y="671.80" font-size="7.0" fill="#231f20" stroke="#231f20" stroke-width="0.12" textLength="18.67" lengthAdjust="spacingAndGlyphs">T-PLL</text>
<text x="390.25" y="550.50" font-size="5.6" fill="#231f20" stroke="#231f20" stroke-width="0.08" textLength="9.50" lengthAdjust="spacingAndGlyphs">n=4</text>
<text x="426.05" y="550.50" font-size="5.6" fill="#231f20" stroke="#231f20" stroke-width="0.08" textLength="9.50" lengthAdjust="spacingAndGlyphs">n=5</text>
<text x="459.79" y="550.50" font-size="5.6" fill="#231f20" stroke="#231f20" stroke-width="0.08" textLength="12.61" lengthAdjust="spacingAndGlyphs">n=30</text>
<line x1="393.80" y1="564.70" x2="467.20" y2="564.70" stroke="#444" stroke-width="1.1"/>
<text x="418.05" y="559.70" font-size="6.0" fill="#231f20" stroke="#231f20" stroke-width="0.08" textLength="24.50" lengthAdjust="spacingAndGlyphs">P&lt;0.0001</text>
<line x1="393.80" y1="594.20" x2="430.30" y2="594.20" stroke="#444" stroke-width="1.1"/>
<text x="401.80" y="589.00" font-size="6.0" fill="#231f20" stroke="#231f20" stroke-width="0.08" textLength="21.00" lengthAdjust="spacingAndGlyphs">P=0.032</text>
<circle cx="388.30" cy="624.60" r="2.20" fill="#fff" stroke="#4b5676" stroke-width="0.8"/>
<circle cx="395.20" cy="627.00" r="2.20" fill="#fff" stroke="#4b5676" stroke-width="0.8"/>
<circle cx="402.00" cy="630.30" r="2.20" fill="#fff" stroke="#4b5676" stroke-width="0.8"/>
<circle cx="395.20" cy="635.70" r="2.20" fill="#fff" stroke="#4b5676" stroke-width="0.8"/>
<line x1="383.50" y1="628.90" x2="407.20" y2="628.90" stroke="#231f20" stroke-width="1.0"/>
<line x1="395.20" y1="626.50" x2="395.20" y2="631.30" stroke="#231f20" stroke-width="0.8"/>
<line x1="393.60" y1="626.50" x2="396.80" y2="626.50" stroke="#231f20" stroke-width="0.8"/>
<line x1="393.60" y1="631.30" x2="396.80" y2="631.30" stroke="#231f20" stroke-width="0.8"/>
<rect x="428.70" y="598.90" width="4.20" height="4.20" fill="#fff" stroke="#4b5676" stroke-width="0.8"/>
<rect x="421.50" y="607.20" width="4.20" height="4.20" fill="#fff" stroke="#4b5676" stroke-width="0.8"/>
<rect x="429.40" y="610.90" width="4.20" height="4.20" fill="#fff" stroke="#4b5676" stroke-width="0.8"/>
<rect x="435.60" y="618.50" width="4.20" height="4.20" fill="#fff" stroke="#4b5676" stroke-width="0.8"/>
<rect x="428.70" y="624.70" width="4.20" height="4.20" fill="#fff" stroke="#4b5676" stroke-width="0.8"/>
<line x1="419.20" y1="614.30" x2="442.30" y2="614.30" stroke="#231f20" stroke-width="1.0"/>
<line x1="430.80" y1="609.70" x2="430.80" y2="618.50" stroke="#231f20" stroke-width="0.8"/>
<line x1="429.20" y1="609.70" x2="432.40" y2="609.70" stroke="#231f20" stroke-width="0.8"/>
<line x1="429.20" y1="618.50" x2="432.40" y2="618.50" stroke="#231f20" stroke-width="0.8"/>
<circle cx="466.10" cy="571.60" r="2.20" fill="#24478f"/>
<circle cx="466.10" cy="584.30" r="2.20" fill="#24478f"/>
<circle cx="473.20" cy="584.00" r="2.20" fill="#24478f"/>
<circle cx="459.40" cy="590.50" r="2.20" fill="#24478f"/>
<circle cx="473.20" cy="594.50" r="2.20" fill="#24478f"/>
<circle cx="459.40" cy="596.50" r="2.20" fill="#24478f"/>
<circle cx="465.60" cy="592.80" r="2.20" fill="#b5102e"/>
<circle cx="468.20" cy="591.60" r="2.20" fill="#b5102e"/>
<circle cx="470.40" cy="597.20" r="2.20" fill="#b5102e"/>
<circle cx="475.60" cy="597.00" r="2.20" fill="#24478f"/>
<circle cx="465.60" cy="600.50" r="2.20" fill="#24478f"/>
<circle cx="459.40" cy="606.40" r="2.20" fill="#24478f"/>
<circle cx="457.40" cy="612.10" r="2.20" fill="#24478f"/>
<circle cx="466.10" cy="611.50" r="2.20" fill="#24478f"/>
<circle cx="470.90" cy="610.50" r="2.20" fill="#24478f"/>
<circle cx="475.60" cy="612.10" r="2.20" fill="#b5102e"/>
<circle cx="459.40" cy="616.90" r="2.20" fill="#b5102e"/>
<circle cx="462.40" cy="614.70" r="2.20" fill="#24478f"/>
<circle cx="473.20" cy="615.20" r="2.20" fill="#b5102e"/>
<circle cx="475.00" cy="617.30" r="2.20" fill="#24478f"/>
<circle cx="459.40" cy="620.70" r="2.20" fill="#b5102e"/>
<circle cx="466.10" cy="620.00" r="2.20" fill="#24478f"/>
<circle cx="466.10" cy="626.20" r="2.20" fill="#24478f"/>
<circle cx="473.20" cy="630.50" r="2.20" fill="#b5102e"/>
<circle cx="466.10" cy="636.80" r="2.20" fill="#24478f"/>
<circle cx="462.50" cy="603.00" r="2.20" fill="#24478f"/>
<circle cx="470.00" cy="605.00" r="2.20" fill="#24478f"/>
<circle cx="468.50" cy="618.00" r="2.20" fill="#24478f"/>
<circle cx="472.50" cy="601.00" r="2.20" fill="#24478f"/>
<circle cx="462.00" cy="609.00" r="2.20" fill="#b5102e"/>
<line x1="455.00" y1="605.10" x2="478.10" y2="605.10" stroke="#231f20" stroke-width="1.0"/>
<line x1="466.40" y1="602.30" x2="466.40" y2="608.50" stroke="#231f20" stroke-width="0.8"/>
<line x1="464.80" y1="602.30" x2="468.00" y2="602.30" stroke="#231f20" stroke-width="0.8"/>
<line x1="464.80" y1="608.50" x2="468.00" y2="608.50" stroke="#231f20" stroke-width="0.8"/>
<circle cx="393.70" cy="688.70" r="2.20" fill="#24478f"/>
<text x="399.60" y="690.60" font-size="5.9" fill="#231f20" stroke="#231f20" stroke-width="0.08" textLength="25.00" lengthAdjust="spacingAndGlyphs">CD95 low</text>
<circle cx="437.30" cy="688.70" r="2.20" fill="#b5102e"/>
<text x="442.70" y="690.60" font-size="5.9" fill="#231f20" stroke="#231f20" stroke-width="0.08" textLength="27.70" lengthAdjust="spacingAndGlyphs">CD95 high</text>
</svg>
</body></html>
